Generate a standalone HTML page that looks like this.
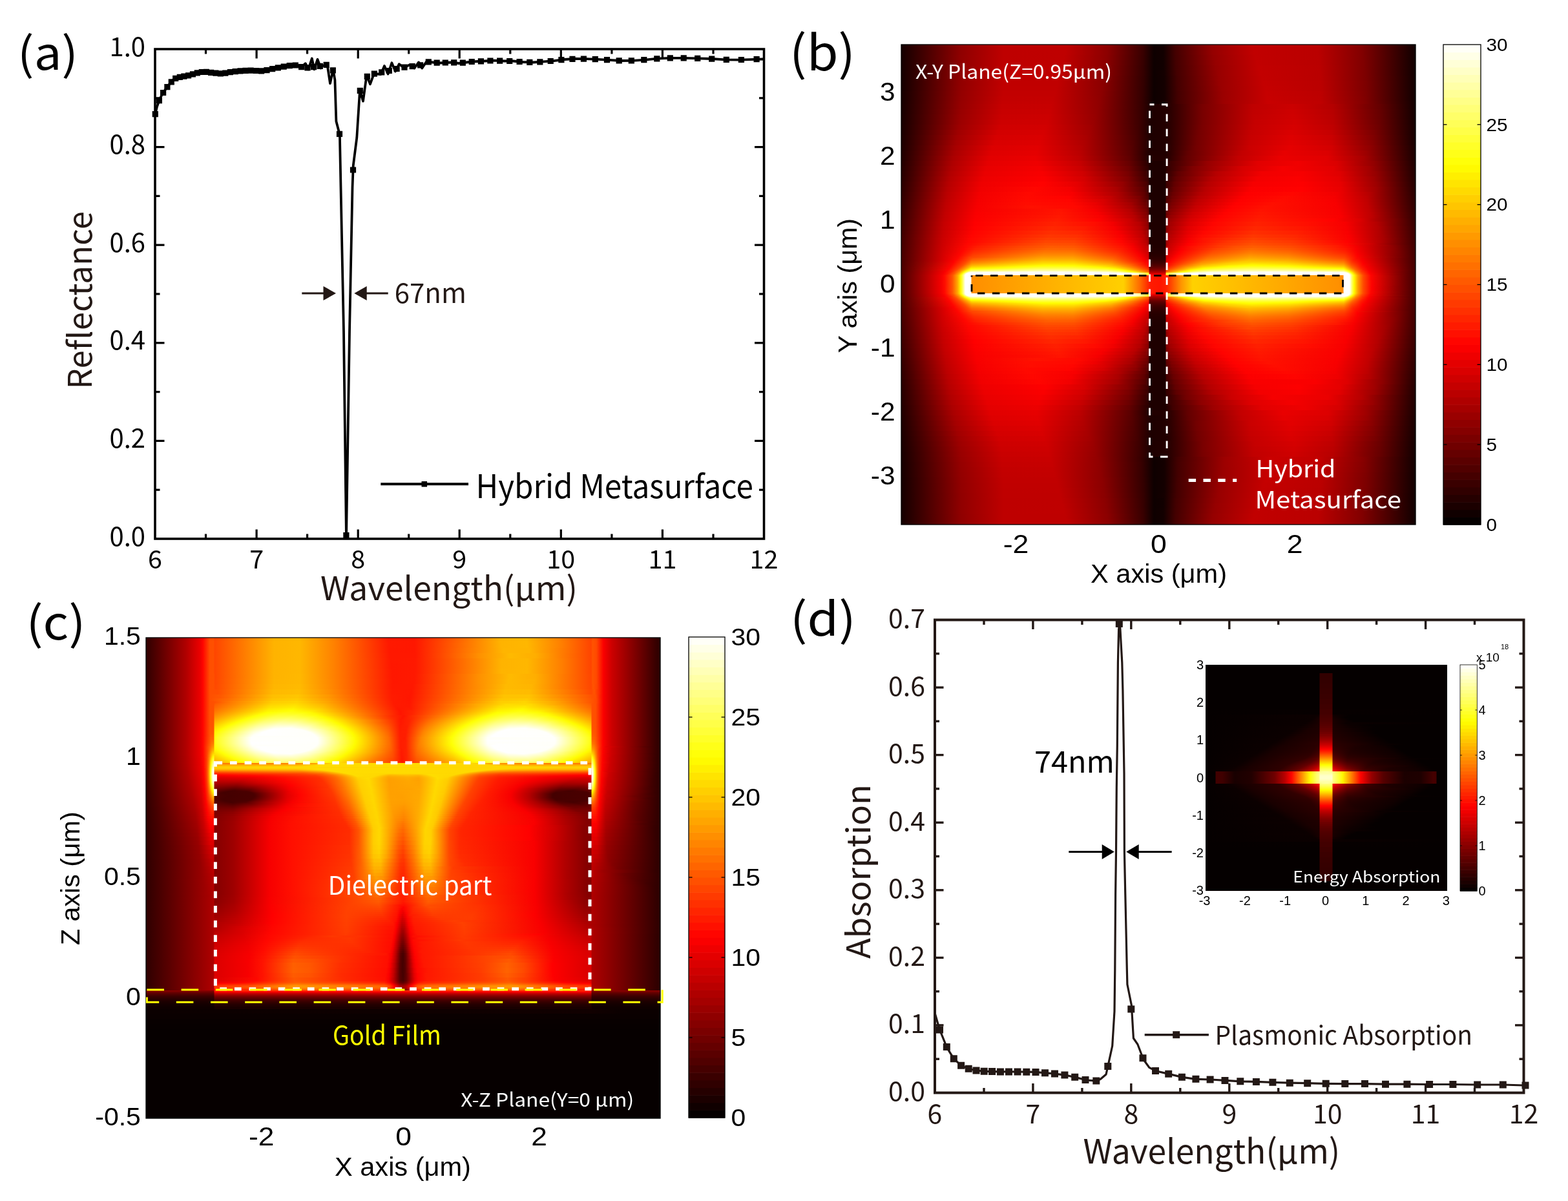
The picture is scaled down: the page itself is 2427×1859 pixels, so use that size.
<!DOCTYPE html><html><head><meta charset="utf-8"><title>Figure</title>
<style>html,body{margin:0;padding:0;background:#fff;}body{width:2427px;height:1859px;position:relative;overflow:hidden}.hm{position:absolute}.hm i{position:absolute;left:0;width:100%;display:block}svg{position:absolute;left:0;top:0}</style></head><body>
<div class="hm" style="left:1395px;top:69px;width:796px;height:743px;overflow:hidden">
<i style="top:0px;height:8px;background:linear-gradient(90deg,#140000,#900000 93px,#be0000 158px,#be0000 256px,#8d0000 320px,#3a0000 374px,#0e0000 391px,#130000 406px,#400 424px,#950000 481px,#c10000 544px,#ba0000 645px,#820000 713px,#120000 795px)"></i><i style="top:8px;height:8px;background:linear-gradient(90deg,#140000,#900000 93px,#be0000 158px,#bf0000 254px,#8c0000 319px,#390000 374px,#0e0000 391px,#130000 406px,#430000 424px,#950000 482px,#c10000 546px,#ba0000 645px,#820000 713px,#120000 795px)"></i><i style="top:16px;height:8px;background:linear-gradient(90deg,#140000,#910000 93px,#be0000 158px,#bf0000 252px,#8c0000 318px,#380000 374px,#0e0000 391px,#130000 406px,#420000 424px,#940000 483px,#c10000 548px,#ba0000 646px,#810000 714px,#120000 795px)"></i><i style="top:24px;height:8px;background:linear-gradient(90deg,#140000,#910000 93px,#be0000 158px,#bf0000 250px,#8b0000 317px,#370000 374px,#0e0000 391px,#120000 406px,#430000 425px,#960000 486px,#c10000 551px,#b90000 647px,#7f0000 716px,#120000 795px)"></i><i style="top:32px;height:8px;background:linear-gradient(90deg,#140000,#910000 93px,#be0000 158px,#bf0000 248px,#8b0000 316px,#360000 374px,#0e0000 391px,#120000 406px,#420000 425px,#950000 487px,#c20000 553px,#ba0000 647px,#7f0000 716px,#120000 795px)"></i><i style="top:40px;height:8px;background:linear-gradient(90deg,#140000,#910000 93px,#bf0000 158px,#bf0000 246px,#8b0000 315px,#340000 375px,#0e0000 391px,#150000 407px,#430000 426px,#970000 490px,#c30000 557px,#b90000 649px,#7d0000 718px,#120000 795px)"></i><i style="top:48px;height:8px;background:linear-gradient(90deg,#140000,#920000 93px,#bf0000 158px,#c00000 244px,#8a0000 314px,#300 375px,#0e0000 391px,#140000 407px,#430000 427px,#980000 492px,#c30000 559px,#b90000 650px,#7c0000 719px,#130000 795px)"></i><i style="top:56px;height:8px;background:linear-gradient(90deg,#140000,#920000 93px,#c00000 158px,#c00000 242px,#8a0000 313px,#300 375px,#0e0000 391px,#140000 407px,#430000 427px,#980000 493px,#c40000 561px,#ba0000 650px,#7d0000 719px,#130000 795px)"></i><i style="top:64px;height:8px;background:linear-gradient(90deg,#140000,#930000 93px,#c10000 158px,#c10000 240px,#8b0000 312px,#340000 374px,#0e0000 391px,#140000 407px,#400 428px,#9a0000 496px,#c50000 564px,#ba0000 651px,#7c0000 720px,#130000 795px)"></i><i style="top:72px;height:8px;background:linear-gradient(90deg,#150000,#940000 93px,#c20000 158px,#c20000 238px,#8c0000 310px,#340000 374px,#0e0000 391px,#140000 407px,#430000 428px,#9a0000 497px,#c60000 565px,#bc0000 650px,#7e0000 719px,#130000 795px)"></i><i style="top:80px;height:8px;background:linear-gradient(90deg,#150000,#940000 92px,#c30000 157px,#c40000 235px,#8f0000 307px,#370000 372px,#0e0000 391px,#140000 407px,#430000 428px,#9b0000 498px,#c70000 567px,#bd0000 650px,#800000 718px,#130000 795px)"></i><i style="top:88px;height:4px;background:linear-gradient(90deg,#150000,#950000 92px,#c40000 157px,#c50000 234px,#8f0000 307px,#350000 373px,#0e0000 391px,#140000 407px,#430000 428px,#9c0000 499px,#c80000 568px,#be0000 650px,#810000 718px,#140000 795px)"></i><i style="top:92px;height:8px;background:linear-gradient(90deg,#160000,#960000 92px,#c60000 156px,#c70000 232px,#910000 305px,#370000 372px,#1d0000 386px,#240000 412px,#780000 466px,#bf0000 544px,#cb0000 606px,#b40000 668px,#640000 741px,#140000 795px)"></i><i style="top:100px;height:8px;background:linear-gradient(90deg,#160000,#980000 92px,#c80000 156px,#c90000 230px,#930000 303px,#380000 371px,#1d0000 386px,#240000 412px,#780000 466px,#c00000 544px,#ce0000 606px,#b70000 668px,#670000 740px,#150000 795px)"></i><i style="top:108px;height:8px;background:linear-gradient(90deg,#170000,#900 91px,#ca0000 155px,#c00 228px,#970000 300px,#3a0000 370px,#1d0000 386px,#240000 412px,#780000 466px,#c20000 545px,#d00000 607px,#b90000 668px,#680000 740px,#150000 795px)"></i><i style="top:116px;height:8px;background:linear-gradient(90deg,#170000,#9b0000 91px,#cd0000 155px,#ce0000 226px,#900 298px,#3c0000 369px,#1d0000 386px,#240000 412px,#7a0000 467px,#c50000 547px,#d30000 609px,#b00 669px,#690000 741px,#160000 795px)"></i><i style="top:124px;height:8px;background:linear-gradient(90deg,#180000,#9d0000 90px,#d00000 153px,#d20000 223px,#9f0000 294px,#410000 366px,#1d0000 386px,#240000 412px,#7a0000 466px,#c60000 546px,#d60000 608px,#bf0000 668px,#6f0000 738px,#170000 795px)"></i><i style="top:132px;height:8px;background:linear-gradient(90deg,#190000,#9f0000 88px,#d30000 150px,#d60000 220px,#a30000 291px,#400 365px,#1d0000 386px,#200 411px,#720000 459px,#c50000 541px,#da0000 604px,#c50000 666px,#7a0000 733px,#170000 795px)"></i><i style="top:140px;height:8px;background:linear-gradient(90deg,#1a0000,#a10000 86px,#d60000 147px,#da0000 217px,#a90000 287px,#4a0000 362px,#1d0000 387px,#200 411px,#720000 458px,#c70000 541px,#de0000 604px,#ca0000 666px,#800000 731px,#180000 795px)"></i><i style="top:148px;height:8px;background:linear-gradient(90deg,#1b0000,#a40000 85px,#d90000 145px,#d00 215px,#ae0000 284px,#4f0000 360px,#1d0000 387px,#230000 411px,#720000 457px,#c90000 540px,#e10000 604px,#ce0000 666px,#870000 729px,#190000 795px)"></i><i style="top:156px;height:8px;background:linear-gradient(90deg,#1c0000,#a60000 83px,#dc0000 141px,#e20000 211px,#b50000 279px,#500 357px,#1d0000 387px,#240000 411px,#710000 455px,#cb0000 539px,#e50000 603px,#d30000 666px,#8e0000 727px,#1b0000 795px)"></i><i style="top:164px;height:8px;background:linear-gradient(90deg,#1e0000,#a90000 82px,#df0000 139px,#e50000 209px,#b90000 277px,#580000 356px,#210000 383px,#210000 410px,#630000 444px,#c30000 527px,#e70000 593px,#db0000 661px,#9c0000 720px,#1c0000 795px)"></i><i style="top:172px;height:8px;background:linear-gradient(90deg,#1f0000,#ab0000 80px,#e20000 136px,#ea0000 208px,#bf0000 275px,#5e0000 354px,#230000 383px,#230000 410px,#610000 441px,#c20000 521px,#ea0000 587px,#e10000 659px,#a70000 716px,#1d0000 795px)"></i><i style="top:180px;height:8px;background:linear-gradient(90deg,#210000,#ae0000 79px,#e50000 134px,#ef0000 211px,#c50000 277px,#600 353px,#2b0000 382px,#1d0000 385px,#1d0000 409px,#3c0000 417px,#970000 474px,#e20000 552px,#f10000 614px,#db0000 674px,#920000 732px,#1f0000 795px)"></i><i style="top:188px;height:8px;background:linear-gradient(90deg,#230000,#af0000 77px,#e80000 131px,#f40000 214px,#ca0000 279px,#6f0000 352px,#2f0000 382px,#1d0000 385px,#1d0000 409px,#300 412px,#7f0000 451px,#d80000 529px,#f60000 591px,#e30000 669px,#a20000 725px,#210000 795px)"></i><i style="top:196px;height:8px;background:linear-gradient(90deg,#240000,#b20000 76px,#ea0000 129px,#f80000 218px,#d00000 281px,#780000 351px,#380000 381px,#2f0000 383px,#1d0000 384px,#1d0000 409px,#2f0000 410px,#5e0000 428px,#b70000 488px,#f20000 558px,#f70000 621px,#df0000 679px,#950000 735px,#200 795px)"></i><i style="top:204px;height:8px;background:linear-gradient(90deg,#260000,#b50000 75px,#ed0000 127px,#fc0000 221px,#d50000 283px,#7f0000 351px,#3d0000 381px,#300 383px,#1d0000 384px,#1d0000 409px,#300 410px,#5f0000 425px,#b50000 480px,#f40000 551px,#fb0000 613px,#e50000 677px,#a00000 731px,#240000 795px)"></i><i style="top:212px;height:8px;background:linear-gradient(90deg,#280000,#b60000 73px,#ef0000 124px,#ff0200 219px,#e60000 272px,#940000 343px,#4b0000 379px,#380000 383px,#1d0000 384px,#1d0000 409px,#380000 410px,#620000 423px,#b50000 474px,#f70000 545px,#fd0000 621px,#e60000 681px,#9d0000 735px,#260000 795px)"></i><i style="top:220px;height:8px;background:linear-gradient(90deg,#2a0000,#b80000 72px,#f10000 123px,#ff0600 208px,#f50000 261px,#a00 333px,#5c0000 375px,#3d0000 383px,#1d0000 384px,#1d0000 409px,#3d0000 410px,#600 422px,#b80000 470px,#fb0000 541px,#ff0100 620px,#e90000 681px,#a30000 734px,#280000 795px)"></i><i style="top:228px;height:6px;background:linear-gradient(90deg,#2c0000,#ba0000 71px,#f30000 121px,#ff0800 198px,#f80000 265px,#ad0000 336px,#600000 376px,#420000 383px,#1d0000 384px,#1d0000 409px,#420000 410px,#680000 420px,#b60000 464px,#fd0000 535px,#ff0600 605px,#f10000 675px,#b50000 725px,#2a0000 795px)"></i><i style="top:234px;height:5px;background:linear-gradient(90deg,#2e0000,#bc0000 71px,#f40000 120px,#ff0900 194px,#ff0200 259px,#c40000 324px,#790000 369px,#4e0000 382px,#480000 383px,#1d0000 384px,#1d0000 409px,#480000 410px,#6c0000 419px,#b80000 460px,#fe0000 529px,#ff0a00 594px,#f50000 672px,#be0000 721px,#2c0000 795px)"></i><i style="top:239px;height:5px;background:linear-gradient(90deg,#2f0000,#bd0000 70px,#f50000 119px,#ff0a00 193px,#ff0500 262px,#d70000 314px,#8b0000 364px,#5a0000 381px,#4d0000 383px,#1d0000 384px,#1d0000 409px,#4d0000 410px,#730000 419px,#be0000 459px,#fe0100 524px,#ff0c00 586px,#f70000 672px,#c00000 721px,#2d0000 795px)"></i><i style="top:244px;height:5px;background:linear-gradient(90deg,#310000,#be0000 69px,#f60000 118px,#ff0c00 194px,#ff0700 265px,#ea0000 301px,#a20000 356px,#600 380px,#530000 383px,#1d0000 384px,#1d0000 409px,#530000 410px,#780000 418px,#c00000 456px,#ff0100 518px,#ff0f00 575px,#f80000 673px,#c20000 721px,#2e0000 795px)"></i><i style="top:249px;height:5px;background:linear-gradient(90deg,#320000,#c00000 69px,#f70000 117px,#ff1000 202px,#ff0800 271px,#ec0000 305px,#a60000 358px,#6e0000 380px,#590000 383px,#1d0000 384px,#1d0000 409px,#590000 410px,#7f0000 418px,#c60000 455px,#ff0200 513px,#f10 564px,#f80000 675px,#c10000 723px,#300000 795px)"></i><i style="top:254px;height:5px;background:linear-gradient(90deg,#340000,#c00000 68px,#f80000 116px,#ff1300 246px,#f80000 298px,#b50000 354px,#7a0000 379px,#600000 383px,#1d0000 384px,#1d0000 409px,#600000 410px,#840000 417px,#c70000 451px,#ff0200 506px,#ff1300 557px,#f80000 677px,#c00000 725px,#310000 795px)"></i><i style="top:259px;height:5px;background:linear-gradient(90deg,#350000,#c20000 68px,#fa0000 116px,#ff1500 247px,#f80000 304px,#b70000 357px,#820000 379px,#670000 383px,#1d0000 384px,#1d0000 409px,#670000 410px,#8c0000 417px,#cf0000 451px,#ff0300 501px,#ff1600 556px,#f80000 679px,#bf0000 727px,#300 795px)"></i><i style="top:264px;height:5px;background:linear-gradient(90deg,#360000,#c20000 67px,#fb0000 115px,#ff1800 244px,#f80000 311px,#b70000 361px,#850000 380px,#6e0000 383px,#1d0000 384px,#1d0000 409px,#6e0000 410px,#920000 416px,#d10000 448px,#ff0300 495px,#ff1900 554px,#f90000 681px,#bd0000 729px,#340000 795px)"></i><i style="top:269px;height:5px;background:linear-gradient(90deg,#380000,#c20000 66px,#fc0000 114px,#ff1c00 241px,#ff0200 306px,#cb0000 354px,#920000 379px,#750000 383px,#1e0000 384px,#1e0000 409px,#750000 410px,#9a0000 416px,#d70000 447px,#ff0400 489px,#ff1c00 552px,#ff0200 669px,#dc0000 710px,#7a0000 764px,#350000 795px)"></i><i style="top:274px;height:7px;background:linear-gradient(90deg,#390000,#c50000 66px,#fe0000 114px,#ff2100 238px,#ff0d00 298px,#f40000 327px,#b60000 369px,#940000 380px,#7b0000 383px,#1e0000 384px,#1e0000 409px,#7b0000 410px,#a10000 416px,#d00 447px,#ff0500 483px,#ff2100 550px,#ff0e00 630px,#f80000 687px,#b50000 736px,#370000 795px)"></i><i style="top:281px;height:7px;background:linear-gradient(90deg,#3b0000,#c50000 65px,#ff0100 113px,#ff2700 234px,#ff1b00 281px,#f80000 330px,#b90000 371px,#950000 381px,#820000 383px,#1e0000 384px,#1e0000 409px,#820000 410px,#a50000 415px,#e10000 444px,#ff0500 475px,#ff2700 548px,#ff1600 620px,#f80000 689px,#b20000 739px,#390000 795px)"></i><i style="top:288px;height:6px;background:linear-gradient(90deg,#3d0000,#c80000 65px,#ff0300 111px,#ff2f00 232px,#ff2600 275px,#f90000 336px,#bc0000 373px,#9c0000 381px,#890000 383px,#1e0000 384px,#1e0000 409px,#890000 410px,#ad0000 415px,#e80000 444px,#ff0700 469px,#ff2f00 546px,#ff1f00 613px,#f90000 691px,#b00000 741px,#3b0000 795px)"></i><i style="top:294px;height:5px;background:linear-gradient(90deg,#3f0000,#c80000 64px,#ff0400 108px,#ff3600 229px,#ff3000 271px,#f90000 341px,#ba0000 376px,#900 382px,#8f0000 383px,#1e0000 384px,#1e0000 409px,#8f0000 410px,#b30000 415px,#e00 444px,#ff0a00 465px,#ff3700 544px,#ff2700 609px,#fa0000 693px,#a00 745px,#3c0000 795px)"></i><i style="top:299px;height:4px;background:linear-gradient(90deg,#400000,#ca0000 64px,#ff0600 107px,#ff3e00 227px,#ff3900 269px,#ff0300 339px,#c80000 373px,#a80000 381px,#940000 383px,#1e0000 384px,#1e0000 409px,#940000 410px,#b90000 415px,#f60000 445px,#ff1300 468px,#ff4000 544px,#ff2e00 607px,#fa0000 695px,#a60000 748px,#3d0000 795px)"></i><i style="top:303px;height:4px;background:linear-gradient(90deg,#410000,#cb0000 64px,#ff0500 104px,#ff4500 224px,#ff4200 268px,#ff0600 341px,#df0000 365px,#b40000 380px,#980000 383px,#1f0000 384px,#1f0000 409px,#980000 410px,#bf0000 415px,#fd0000 446px,#ff3400 506px,#ff4800 545px,#ff3700 605px,#ff0200 691px,#b30000 742px,#3e0000 795px)"></i><i style="top:307px;height:3px;background:linear-gradient(90deg,#410000,#c00 64px,#ff0600 102px,#ff1c00 133px,#ff4e00 224px,#ff4b00 267px,#ff0a00 342px,#f00000 358px,#bf0000 379px,#9d0000 383px,#1f0000 384px,#1f0000 409px,#9d0000 410px,#c40000 415px,#ff0100 444px,#f30 495px,#ff5000 543px,#ff3f00 603px,#ff0700 690px,#d10000 726px,#520000 786px,#3f0000 795px)"></i><i style="top:310px;height:2px;background:linear-gradient(90deg,#420000,#cb0000 63px,#ff0700 101px,#ff1b00 123px,#ff5400 224px,#ff5100 267px,#ff0d00 343px,#f40000 358px,#c30000 379px,#a00000 383px,#200000 384px,#200000 409px,#a00000 410px,#c70000 415px,#ff0100 442px,#ff3700 492px,#ff5700 543px,#ff4500 603px,#ff1a00 674px,#ff0200 695px,#a50000 750px,#400000 795px)"></i><i style="top:312px;height:3px;background:linear-gradient(90deg,#420000,#ce0000 64px,#ff0600 99px,#ff1d00 117px,#ff4600 183px,#ff5c00 231px,#ff5800 268px,#ff1200 343px,#f70000 359px,#bf0000 382px,#b00 383px,#200000 384px,#200000 409px,#b00 410px,#f50000 433px,#ff1000 449px,#ff5100 517px,#ff5e00 546px,#ff4c00 603px,#ff1f00 671px,#ff0d00 690px,#f40000 705px,#8e0000 761px,#400000 795px)"></i><i style="top:315px;height:3px;background:linear-gradient(90deg,#430000,#cf0000 64px,#ff0600 97px,#f20 115px,#ff4b00 179px,#ff6500 226px,#ff6200 267px,#ff1b00 341px,#f80000 361px,#c00000 383px,#200 384px,#200 409px,#c00000 410px,#fc0000 434px,#ff4300 489px,#ff6900 542px,#ff5600 601px,#ff2700 668px,#ff1600 688px,#f80000 704px,#8d0000 762px,#410000 795px)"></i><i style="top:318px;height:2px;background:linear-gradient(90deg,#400,#d00000 64px,#ff0600 95px,#ff2700 113px,#ff5100 176px,#ff6e00 223px,#ff6c00 266px,#ff2400 338px,#f90000 363px,#c40000 383px,#230000 384px,#230000 409px,#c40000 410px,#fe0000 433px,#ff4800 485px,#ff7200 541px,#ff5f00 600px,#ff2e00 666px,#ff1d00 687px,#fa0000 704px,#870000 765px,#410000 795px)"></i><i style="top:320px;height:2px;background:linear-gradient(90deg,#400,#d10000 64px,#ff0600 94px,#ff2c00 112px,#ff5700 175px,#ff7500 222px,#ff7400 266px,#ff2c00 336px,#f90000 365px,#c80000 383px,#240000 384px,#240000 409px,#c80000 410px,#ff0100 431px,#ff4d00 483px,#ff7a00 541px,#ff6700 600px,#ff3400 666px,#f20 687px,#fa0000 705px,#830000 767px,#420000 795px)"></i><i style="top:322px;height:2px;background:linear-gradient(90deg,#400,#d20000 64px,#ff0500 92px,#f30 112px,#ff5d00 173px,#ff7d00 221px,#ff7d00 266px,#ff3600 334px,#f90000 367px,#cb0000 383px,#250000 384px,#250000 409px,#cb0000 410px,#ff0200 430px,#ff5200 481px,#ff8200 541px,#ff6f00 600px,#ff3b00 665px,#ff2800 687px,#fb0000 706px,#7c0000 770px,#420000 795px)"></i><i style="top:324px;height:2px;background:linear-gradient(90deg,#450000,#d50000 65px,#ff0600 91px,#ff3900 111px,#ff6500 172px,#ff8600 220px,#ff8600 266px,#ff4000 332px,#f90000 369px,#cf0000 383px,#270000 384px,#270000 409px,#cf0000 410px,#ff0200 428px,#ff5800 478px,#ff8c00 540px,#ff7900 599px,#ff4300 664px,#ff3200 686px,#fd0000 706px,#760000 773px,#420000 795px)"></i><i style="top:326px;height:2px;background:linear-gradient(90deg,#450000,#d80000 66px,#ff0700 90px,#ff4100 111px,#ff6e00 172px,#ff9000 220px,#ff9000 266px,#ff4a00 331px,#fb0000 370px,#d20000 383px,#290000 384px,#290000 409px,#d20000 410px,#ff0300 426px,#ff6000 477px,#ff9600 540px,#ff8300 599px,#ff4c00 664px,#ff3a00 686px,#ff0100 706px,#710000 775px,#430000 795px)"></i><i style="top:328px;height:2px;background:linear-gradient(90deg,#450000,#db0000 67px,#ff0600 88px,#ff4200 107px,#ff9a00 217px,#ff9c00 265px,#ff5700 329px,#fb0000 372px,#d60000 383px,#2c0000 384px,#2c0000 409px,#d60000 410px,#ff0300 424px,#ff6800 475px,#ffa000 540px,#ff8d00 599px,#ff5600 664px,#ff4200 686px,#ff0400 706px,#700 773px,#430000 795px)"></i><i style="top:330px;height:2px;background:linear-gradient(90deg,#460000,#de0000 68px,#ff0700 87px,#ff4700 106px,#f50 111px,#ff8300 171px,#ffa700 219px,#ffa600 266px,#ff6300 328px,#fb0000 374px,#db0000 383px,#2f0000 384px,#2f0000 409px,#db0000 410px,#ff0400 422px,#ff7200 474px,#ffac00 540px,#f90 599px,#ff6100 664px,#ff4d00 686px,#ff0c00 704px,#f40000 714px,#5a0000 785px,#430000 795px)"></i><i style="top:332px;height:2px;background:linear-gradient(90deg,#460000,#e80000 72px,#ff0600 85px,#ff4800 104px,#ff6100 110px,#ff9000 171px,#ffb300 219px,#ffb300 266px,#ff7100 327px,#fa0000 376px,#e00000 383px,#300 384px,#300 409px,#e00000 410px,#ff0500 420px,#ff7c00 472px,#ffb900 539px,#ffa600 599px,#ff6c00 665px,#ff5e00 685px,#ff1c00 700px,#f90000 713px,#400 795px)"></i><i style="top:334px;height:1px;background:linear-gradient(90deg,#460000,#fe0000 81px,#ff3c00 100px,#ff6b00 109px,#ff9b00 171px,#ffbe00 219px,#ffbd00 266px,#ff7d00 326px,#fc0000 377px,#e40000 383px,#360000 384px,#360000 409px,#e40000 410px,#ff0700 419px,#ff8300 470px,#ffc300 537px,#ffb100 599px,#f70 665px,#ff6900 685px,#ff2500 699px,#fb0000 713px,#400 795px)"></i><i style="top:335px;height:1px;background:linear-gradient(90deg,#460000,#ff0100 81px,#ff4600 101px,#ff7200 109px,#ffa200 171px,#ffc500 219px,#ffc500 266px,#ff8500 326px,#fc0000 378px,#e70000 383px,#390000 384px,#390000 409px,#e70000 410px,#ff0700 418px,#ff8900 469px,#ffca00 536px,#ffb800 599px,#ff7e00 666px,#ff7000 685px,#ff2800 699px,#fb0000 714px,#400 795px)"></i><i style="top:336px;height:1px;background:linear-gradient(90deg,#470000,#ff0200 81px,#ff4700 100px,#ff7a00 109px,#ffab00 171px,#ffcd00 219px,#fc0 266px,#ff8c00 326px,#ff0800 376px,#eb0000 383px,#3c0000 384px,#3c0000 409px,#eb0000 410px,#ff0800 417px,#ff8c00 467px,#fc0 527px,#ffc900 586px,#ff8200 672px,#ff7800 685px,#ff3000 698px,#fc0000 714px,#400 795px)"></i><i style="top:337px;height:1px;background:linear-gradient(90deg,#470000,#ff0400 81px,#ff4d00 100px,#ff8300 109px,#ffb400 172px,#ffd500 220px,#ffd300 267px,#ff9700 325px,#ff1700 373px,#f80000 381px,#ef0000 383px,#3f0000 384px,#3f0000 409px,#ef0000 410px,#ff0900 416px,#ff9100 465px,#ffc800 512px,#ffd900 544px,#ffc700 600px,#ff8d00 668px,#ff8100 685px,#ff3500 698px,#fb0000 715px,#400 795px)"></i><i style="top:338px;height:1px;background:linear-gradient(90deg,#470000,#ff0400 80px,#ff4900 98px,#ff8c00 109px,#ffbe00 173px,#fd0 220px,#ffdc00 267px,#ffa000 325px,#ff2500 370px,#fc0000 381px,#f30000 383px,#430000 384px,#430000 409px,#f30000 410px,#ff0900 415px,#ff9700 464px,#ffca00 505px,#ffe100 543px,#ffd000 600px,#ff9600 669px,#ff8a00 685px,#ff3f00 697px,#fd0000 715px,#400 795px)"></i><i style="top:339px;height:1px;background:linear-gradient(90deg,#470000,#ff0600 80px,#ff4f00 98px,#ff9700 109px,#ffc900 174px,#ffe600 221px,#ffe400 267px,#ffa900 325px,#ff4900 360px,#fc0000 382px,#f70000 383px,#470000 384px,#470000 409px,#f70000 410px,#ff1a00 418px,#ffa100 464px,#ffd200 504px,#ffea00 543px,#ffd900 601px,#ff9f00 671px,#ff9400 685px,#f40 697px,#f00 715px,#450000 795px)"></i><i style="top:340px;height:1px;background:linear-gradient(90deg,#470000,#ff0500 79px,#ff5000 97px,#ffa200 109px,#ffd500 176px,#fff000 223px,#ffed00 268px,#ffb500 324px,#ff6000 355px,#fc0000 383px,#4b0000 384px,#4b0000 409px,#fc0000 410px,#ff9400 455px,#ffc500 480px,#fff300 541px,#ffe200 601px,#ffa800 674px,#ff9f00 685px,#ff4b00 697px,#ff0200 715px,#450000 795px)"></i><i style="top:341px;height:1px;background:linear-gradient(90deg,#470000,#ff0500 78px,#ff4c00 95px,#ffa200 107px,#ffae00 110px,#ffe100 178px,#fffa00 225px,#fff600 269px,#ffc000 324px,#ff7000 353px,#ff0700 382px,#ff0200 383px,#500000 384px,#500000 409px,#ff0200 410px,#ff5e00 435px,#ffba00 466px,#ffeb00 510px,#fffd00 546px,#ffec00 602px,#ffb200 677px,#ffab00 685px,#ff5200 697px,#ff0800 714px,#e60000 726px,#450000 795px)"></i><i style="top:342px;height:1px;background:linear-gradient(90deg,#470000,#ff0400 77px,#ff4d00 94px,#ffae00 107px,#fb0 110px,#ffff05 211px,#ffff07 264px,#ffda00 314px,#ffa700 339px,#ff1200 381px,#ff0800 383px,#500 384px,#500 409px,#ff0800 410px,#ff6b00 436px,#ffc300 465px,#fff100 504px,#ffff09 531px,#fff900 600px,#ffbc00 681px,#ffb800 685px,#ff5900 697px,#ff0e00 713px,#f70000 720px,#450000 795px)"></i><i style="top:343px;height:1px;background:linear-gradient(90deg,#480000,#ff0300 76px,#ff4f00 93px,#ffb200 106px,#ffc800 109px,#ffff06 191px,#ffff1a 229px,#ffff15 266px,#fff900 294px,#ffcd00 329px,#ff7900 356px,#ff0f00 383px,#5b0000 384px,#5b0000 409px,#ff0f00 410px,#ff8400 440px,#ffd200 466px,#ffff01 507px,#ffff1c 541px,#ffff0c 596px,#fff600 619px,#ffc600 685px,#ff6200 697px,#ff1500 712px,#f90000 720px,#450000 795px)"></i><i style="top:344px;height:1px;background:linear-gradient(90deg,#480000,#ff0600 76px,#ff5000 92px,#ffb600 105px,#ffd700 109px,#ffff06 174px,#ffff2a 217px,#ffff28 265px,#fffa00 308px,#ffd100 333px,#ff7000 361px,#ff1600 383px,#620000 384px,#620000 409px,#ff1600 410px,#ff9b00 443px,#ffe300 468px,#ffff07 496px,#ffff2e 541px,#ffff1e 597px,#fffa00 630px,#ffd500 685px,#ff6400 698px,#ff1400 713px,#f80000 721px,#450000 795px)"></i><i style="top:345px;height:1px;background:linear-gradient(90deg,#480000,#ff0500 75px,#ff4c00 90px,#ffbc00 104px,#ffe600 108px,#ffff06 156px,#ffff3c 211px,#ffff3b 265px,#fff900 321px,#fb0 345px,#ff2300 382px,#ff1e00 383px,#690000 384px,#690000 409px,#ff1e00 410px,#ffb000 445px,#fff400 469px,#ffff0c 484px,#ffff41 539px,#ffff32 597px,#fffc00 647px,#ffe600 685px,#ff6e00 698px,#ff1c00 712px,#fa0000 721px,#450000 795px)"></i><i style="top:346px;height:1px;background:linear-gradient(90deg,#480000,#ff0400 74px,#ff4d00 89px,#ffb900 102px,#fff800 108px,#ffff1c 154px,#ffff51 211px,#ffff4f 266px,#ffff16 317px,#fff700 330px,#ffab00 353px,#ff2600 383px,#710000 384px,#710000 409px,#ff2600 410px,#ffc700 447px,#ffff01 467px,#ffff31 495px,#ff5 543px,#ffff47 599px,#ff0 675px,#fff800 685px,#ff7200 699px,#ff2100 712px,#f90000 722px,#450000 795px)"></i><i style="top:347px;height:1px;background:linear-gradient(90deg,#480000,#ff0300 73px,#ff4800 87px,#ffad00 99px,#ffff03 107px,#ffff14 108px,#ffff69 213px,#ffff64 268px,#ffff2e 318px,#fff900 336px,#ffa000 359px,#ff3000 383px,#7a0000 384px,#7a0000 409px,#ff3000 410px,#ffdc00 448px,#ffff04 460px,#ffff34 478px,#ffff6b 535px,#ffff61 597px,#ffff14 685px,#ffff03 686px,#ff6400 702px,#ff1700 715px,#f80000 723px,#450000 795px)"></i><i style="top:348px;height:1px;background:linear-gradient(90deg,#480000,#ff0600 73px,#ff4f00 87px,#ffb400 98px,#ffff04 105px,#ffff36 108px,#ffff83 214px,#ffff7c 269px,#ffff4b 318px,#ffff15 336px,#fffa00 342px,#ff4700 381px,#ff3b00 383px,#840000 384px,#840000 409px,#ff3b00 410px,#fff300 449px,#ffff0c 455px,#ffff47 473px,#ffff76 515px,#ffff85 554px,#ffff76 605px,#ffff36 685px,#ffff04 688px,#ff6700 703px,#ff1b00 715px,#fa0000 723px,#460000 795px)"></i><i style="top:349px;height:1px;background:linear-gradient(90deg,#480000,#ff0500 72px,#ff4900 85px,#ffa500 95px,#fff900 102px,#ffff2b 105px,#ffff5c 108px,#ffffa0 215px,#ffff97 272px,#ffff6b 318px,#ffff35 336px,#fffc00 347px,#ff4700 383px,#8e0000 384px,#8e0000 409px,#ff4700 410px,#ffff02 447px,#ffff4c 463px,#ff7 483px,#ffffa0 543px,#ffff96 603px,#ffff5c 685px,#ffff09 690px,#ffe000 693px,#ff6800 704px,#ff1a00 716px,#f90000 724px,#460000 795px)"></i><i style="top:350px;height:1px;background:linear-gradient(90deg,#480000,#fb0000 69px,#ff3500 81px,#f80 91px,#fffa00 100px,#ffff87 108px,#ffffc0 217px,#ffffb4 277px,#ffff8d 319px,#ffff5a 336px,#fffd00 352px,#f50 383px,#9a0000 384px,#9a0000 409px,#f50 410px,#ffff04 442px,#ffff5a 457px,#ffff8f 475px,#ffffb6 521px,#ffffbe 588px,#ffff87 685px,#ffff21 691px,#fffa00 693px,#ff7d00 703px,#ff2f00 713px,#fb0000 724px,#460000 795px)"></i><i style="top:351px;height:1px;background:linear-gradient(90deg,#480000,#fa0000 68px,#ff2e00 79px,#ff7f00 89px,#ffe800 97px,#fff800 98px,#ffff25 100px,#ffff8f 105px,#ffffb8 108px,#ffffe5 220px,#ffffd2 289px,#ffffb0 322px,#ffff76 339px,#ffff15 354px,#fff700 358px,#ff6500 383px,#a80000 384px,#a80000 409px,#ff6500 410px,#ffff04 437px,#ffff6b 452px,#ffffa9 468px,#ffffcd 495px,#ffffe5 564px,#ffffd0 633px,#ffffb8 685px,#ffff7d 689px,#ffff0d 694px,#fff800 695px,#ff8a00 703px,#ff3b00 712px,#fe0000 724px,#7e0000 772px,#460000 795px)"></i><i style="top:352px;height:1px;background:linear-gradient(90deg,#490000,#f90000 67px,#f20 76px,#ff6b00 86px,#ffc000 93px,#ffff05 97px,#ffffbf 104px,#ffffea 107px,#fffff7 129px,#fff 217px,#fffff8 300px,#ffffd8 325px,#ffffa0 340px,#ffff41 354px,#fffa00 362px,#f70 383px,#b60000 384px,#b60000 409px,#f70 410px,#ffff02 432px,#ffff7c 447px,#ffffc3 461px,#ffffed 480px,#fff 520px,#fffff8 659px,#fffff0 685px,#ffffd2 688px,#ffff75 692px,#ffff05 696px,#ff8b00 704px,#ff3a00 713px,#fd0000 725px,#7f0000 772px,#460000 795px)"></i><i style="top:353px;height:1px;background:linear-gradient(90deg,#490000,#f80000 66px,#ff1200 72px,#ff5800 83px,#ffb300 91px,#fff600 95px,#ffff10 96px,#fffff6 103px,#fff 105px,#fffff9 347px,#ffffdb 360px,#ffff96 371px,#ffff20 383px,#c70000 384px,#c70000 409px,#ffff20 410px,#ffff9e 423px,#ffffdf 434px,#fffffb 449px,#fff 689px,#fffff6 690px,#ffff10 697px,#fff600 698px,#ff9700 704px,#ff4800 712px,#f00 725px,#930000 764px,#460000 795px)"></i><i style="top:354px;height:1px;background:linear-gradient(90deg,#490000,#f60000 65px,#ff1000 71px,#ff5700 82px,#ffa400 89px,#fff700 94px,#ffff13 95px,#ffffa6 99px,#fffffb 101px,#fffffa 346px,#ffffdb 360px,#ffff96 371px,#ffff21 383px,#d90000 384px,#d90000 409px,#ffff21 410px,#ffffa6 424px,#ffffe2 435px,#fffffc 451px,#fffffb 692px,#ffff58 696px,#ffff13 698px,#fff700 699px,#ff9700 705px,#ff4700 713px,#ff0300 725px,#5e0000 785px,#460000 795px)"></i><i style="top:355px;height:1px;background:linear-gradient(90deg,#490000,#f50000 64px,#ff0f00 70px,#ff5600 81px,#ffa200 88px,#fff500 93px,#ffff10 94px,#ffffa7 98px,#fff 100px,#fffff9 347px,#ffffdb 360px,#ffff96 371px,#ff2 383px,#ed0000 384px,#ed0000 409px,#ff2 410px,#ffffad 425px,#ffffe6 436px,#fffffd 453px,#fff 693px,#ff5 697px,#ffff10 699px,#fff500 700px,#ff9500 706px,#ff4500 714px,#ff0200 726px,#8a0000 768px,#460000 795px)"></i><i style="top:356px;height:1px;background:linear-gradient(90deg,#490000,#f40000 63px,#ff0a00 68px,#ff5400 80px,#ffad00 88px,#ffff07 93px,#ffff97 97px,#fffff4 99px,#fff 101px,#fffff9 347px,#ffffdb 360px,#ffff96 371px,#ffff23 383px,#ff0400 384px,#ff0400 409px,#ffff23 410px,#ffffad 425px,#ffffe6 436px,#fffffd 453px,#fff 693px,#fffff4 694px,#ffff6f 697px,#ffff07 700px,#ff9200 707px,#ff3d00 716px,#ff0100 727px,#900 762px,#460000 795px)"></i><i style="top:357px;height:8px;background:linear-gradient(90deg,#490000,#f30000 62px,#ff0900 67px,#ff5200 79px,#ffa900 87px,#fffa00 92px,#ffff37 94px,#ffffcf 98px,#fffffd 99px,#fff 108px,#ff8e00 109px,#ffd000 344px,#ff6b00 369px,#ff1b00 385px,#ff1500 401px,#ff2100 410px,#ff9400 433px,#ffd100 451px,#ff8e00 684px,#fff 685px,#fffffd 694px,#ffff59 698px,#ffff17 700px,#fffa00 701px,#ff9b00 707px,#ff4a00 715px,#ff0400 727px,#600 782px,#470000 795px)"></i><i style="top:365px;height:8px;background:linear-gradient(90deg,#490000,#f50000 62px,#ff0f00 68px,#ff5400 79px,#fa0 87px,#fffb00 92px,#ffff5a 95px,#fffffe 99px,#fff 108px,#ff8e00 109px,#ffd000 344px,#ff6b00 369px,#ff1b00 385px,#ff1500 401px,#ff2100 410px,#ff9400 433px,#ffd100 451px,#ff8e00 684px,#fff 685px,#fffffe 694px,#ffff5a 698px,#fffb00 701px,#ff9c00 707px,#ff4c00 715px,#ff0200 728px,#700 776px,#470000 795px)"></i><i style="top:373px;height:8px;background:linear-gradient(90deg,#490000,#f40000 62px,#ff0a00 67px,#ff5300 79px,#ffa900 87px,#fffb00 92px,#ffff38 94px,#ffffd0 98px,#fffffd 99px,#fff 108px,#ff8e00 109px,#ffd000 344px,#ff6b00 369px,#ff1b00 385px,#ff1500 401px,#ff2100 410px,#ff9400 433px,#ffd100 451px,#ff8e00 684px,#fff 685px,#fffffd 694px,#ffff5a 698px,#ffff18 700px,#fffb00 701px,#ff9c00 707px,#ff4b00 715px,#ff0100 728px,#8c0000 768px,#470000 795px)"></i><i style="top:381px;height:4px;background:linear-gradient(90deg,#490000,#f30000 62px,#ff0800 67px,#ff5200 79px,#ffa800 87px,#fffa00 92px,#ffff36 94px,#ffffcf 98px,#fffffd 99px,#fff 108px,#ff8e00 109px,#ffd000 344px,#ff6b00 369px,#ff1b00 385px,#ff1500 401px,#ff2100 410px,#ff9400 433px,#ffd100 451px,#ff8e00 684px,#fff 685px,#fffffd 694px,#ffff59 698px,#ffff16 700px,#fffa00 701px,#ff9b00 707px,#ff4a00 715px,#ff0400 727px,#760000 776px,#460000 795px)"></i><i style="top:385px;height:1px;background:linear-gradient(90deg,#490000,#f10000 62px,#ff0b00 68px,#ff5700 80px,#ffb200 88px,#fff500 92px,#ffff0e 93px,#ffff9f 97px,#fffffa 99px,#fffffa 346px,#ffffdb 360px,#ffff96 371px,#ffff24 383px,#ff0d00 384px,#ff0d00 409px,#ffff24 410px,#ffffad 425px,#ffffe6 436px,#fffffd 453px,#fffffa 694px,#ff7 697px,#ffff0e 700px,#fff500 701px,#ff9600 707px,#ff4700 715px,#ff0200 727px,#8f0000 766px,#460000 795px)"></i><i style="top:386px;height:1px;background:linear-gradient(90deg,#490000,#f20000 63px,#ff0800 68px,#ff5000 80px,#ffa700 88px,#fffb00 93px,#ffff3c 95px,#ffffb4 98px,#ffffe3 99px,#fff 100px,#fffff9 347px,#ffffdb 360px,#ffff96 371px,#ffff23 383px,#f50000 384px,#f50000 409px,#ffff23 410px,#ffffad 425px,#ffffe6 436px,#fffffd 453px,#fff 693px,#ffffe3 694px,#ffff61 697px,#ffff1a 699px,#fffb00 700px,#f90 706px,#ff4800 714px,#ff0300 726px,#7a0000 774px,#460000 795px)"></i><i style="top:387px;height:1px;background:linear-gradient(90deg,#490000,#f40000 64px,#ff0900 69px,#ff5100 81px,#ffa900 89px,#ff0 94px,#ffff8f 98px,#ffffe7 100px,#fff 101px,#fffff9 347px,#ffffdb 360px,#ffff96 371px,#ffff21 383px,#e00000 384px,#e00000 409px,#ffff21 410px,#ffffa6 424px,#ffffe2 435px,#fffffc 451px,#fff 692px,#ffffe7 693px,#ffff42 697px,#ff0 699px,#ff9b00 705px,#ff4900 713px,#ff0400 725px,#460000 794px,#460000 795px)"></i><i style="top:388px;height:1px;background:linear-gradient(90deg,#490000,#f50000 65px,#ff0e00 71px,#ff5200 82px,#fa0 90px,#ff0 95px,#ffffab 100px,#fffff6 102px,#fff 104px,#fffff9 347px,#ffffdb 360px,#ffff96 371px,#ffff20 383px,#ce0000 384px,#ce0000 409px,#ffff20 410px,#ffffa6 424px,#ffffe2 435px,#fffffc 451px,#fff 690px,#fffff6 691px,#ffff1f 697px,#ff0 698px,#ff9d00 704px,#ff4a00 712px,#ff0600 724px,#460000 795px)"></i><i style="top:389px;height:1px;background:linear-gradient(90deg,#490000,#fa0000 67px,#ff2900 77px,#ff7900 87px,#ffd700 94px,#fffa00 96px,#ffff51 99px,#ffd 104px,#fffffe 106px,#fffff9 347px,#ffffdb 360px,#ffff96 371px,#ffff1f 383px,#bd0000 384px,#bd0000 409px,#ffff1f 410px,#ffff9e 423px,#ffffdf 434px,#fffffb 449px,#fffffe 687px,#ffffc6 690px,#ffff15 696px,#fffa00 697px,#ff9000 704px,#ff3d00 713px,#fe0000 725px,#8b0000 767px,#460000 795px)"></i><i style="top:390px;height:1px;background:linear-gradient(90deg,#480000,#fb0000 68px,#ff3000 79px,#ff7900 88px,#ffe200 96px,#ffff06 98px,#ffff96 104px,#ffffcd 108px,#fffff5 222px,#ffffde 297px,#ffffbe 324px,#ffff83 340px,#ffff1d 355px,#fffc00 359px,#ff6c00 383px,#ad0000 384px,#ad0000 409px,#ff6c00 410px,#ffff04 435px,#ffff72 450px,#ffffb3 465px,#ffffd8 487px,#fffff4 562px,#ffffe2 635px,#ffffcd 685px,#ffff96 689px,#ffff06 695px,#ff8400 704px,#ff3700 713px,#f00 724px,#8d0000 766px,#460000 795px)"></i><i style="top:391px;height:1px;background:linear-gradient(90deg,#480000,#ff0500 71px,#ff4c00 84px,#ffa400 93px,#fff700 99px,#ffff0a 100px,#ffff7e 106px,#ffff9a 108px,#ffffce 218px,#ffffc0 280px,#ffff9d 319px,#ffff6a 336px,#ffff13 351px,#fff800 355px,#ff5b00 383px,#a00000 384px,#a00000 409px,#ff5b00 410px,#ffff05 440px,#ffff61 455px,#ff9 472px,#ffffbd 508px,#ffffcf 568px,#ffffb6 633px,#ffff9a 685px,#ffff49 690px,#ffff0a 693px,#ffe800 695px,#ff7800 704px,#ff2b00 714px,#fc0000 724px,#460000 794px,#460000 795px)"></i><i style="top:392px;height:1px;background:linear-gradient(90deg,#480000,#ff0600 72px,#ff4c00 85px,#ffac00 95px,#ffff07 102px,#ffff6d 108px,#ffffac 215px,#ffffa2 273px,#ffff79 318px,#ff4 336px,#fffd00 349px,#ff4d00 383px,#930000 384px,#930000 409px,#ff4d00 410px,#ffff03 445px,#ffff54 461px,#ffff81 480px,#ffffab 540px,#ffffa3 603px,#ffff6d 685px,#ffff07 691px,#ffa000 699px,#ff4500 709px,#ff0200 722px,#460000 795px)"></i><i style="top:393px;height:1px;background:linear-gradient(90deg,#480000,#ff0300 72px,#ff4b00 86px,#ffb000 97px,#ffff02 104px,#ffff45 108px,#ffff8e 214px,#ffff87 270px,#ffff57 318px,#ffff21 336px,#fffb00 344px,#ff4000 383px,#800 384px,#800 409px,#ff4000 410px,#fffb00 449px,#ffff50 471px,#ffff7b 507px,#ffff90 551px,#ffff82 605px,#ffff45 685px,#ffff02 689px,#ff6b00 703px,#ff1d00 715px,#fb0000 723px,#460000 795px)"></i><i style="top:394px;height:1px;background:linear-gradient(90deg,#480000,#ff0400 73px,#ff4b00 87px,#ffb400 99px,#ff0 106px,#ffff21 108px,#ffff73 213px,#ffff6e 268px,#ffff3b 317px,#ffff07 335px,#ffd800 348px,#ff3400 383px,#7e0000 384px,#7e0000 409px,#ff3400 410px,#ffe700 449px,#ffff07 458px,#ffff3b 476px,#ffff71 529px,#ffff6f 591px,#ffff21 685px,#ff0 687px,#ff6900 702px,#ff1d00 714px,#f90000 723px,#450000 795px)"></i><i style="top:395px;height:1px;background:linear-gradient(90deg,#480000,#ff0500 74px,#ff4a00 88px,#ffb600 101px,#ffff01 108px,#ffff5b 213px,#ffff57 267px,#ffff20 317px,#fff900 332px,#ffa900 355px,#ff2a00 383px,#740000 384px,#740000 409px,#ff2a00 410px,#ffce00 447px,#ffff05 465px,#ffff32 488px,#ffff5e 542px,#ffff50 599px,#ffff07 681px,#ffff01 685px,#ff6e00 700px,#ff1e00 713px,#fa0000 722px,#450000 795px)"></i><i style="top:396px;height:1px;background:linear-gradient(90deg,#480000,#ff0600 75px,#ff4f00 90px,#ffc300 104px,#ffed00 108px,#ffff08 149px,#ff4 210px,#ffff42 266px,#ffff08 317px,#ffe800 332px,#ff9600 356px,#ff2100 383px,#6c0000 384px,#6c0000 409px,#ff2100 410px,#ffba00 446px,#fffc00 470px,#ffff41 526px,#ffff46 573px,#ffff29 616px,#fffe00 657px,#ffed00 685px,#ff6b00 699px,#ff1a00 713px,#f80000 722px,#450000 795px)"></i><i style="top:397px;height:1px;background:linear-gradient(90deg,#480000,#ff0400 75px,#ff4d00 91px,#ffbc00 105px,#ffde00 109px,#ffff06 167px,#ffff31 215px,#ffff2f 265px,#fff900 314px,#ffc900 338px,#ff2400 381px,#ff1900 383px,#640000 384px,#640000 409px,#ff1900 410px,#ffa400 444px,#ffeb00 469px,#ffff09 491px,#ffff35 541px,#ffff26 597px,#fff900 637px,#ffdb00 685px,#ff6800 698px,#ff1a00 712px,#f90000 721px,#450000 795px)"></i><i style="top:398px;height:1px;background:linear-gradient(90deg,#480000,#ff0400 76px,#ff4c00 92px,#ffae00 105px,#ffce00 109px,#ffff06 184px,#ffff20 221px,#ffff1d 265px,#fff900 300px,#ffd000 330px,#ff7900 357px,#f10 383px,#5e0000 384px,#5e0000 409px,#f10 410px,#ff8d00 441px,#ffd900 467px,#ffff03 503px,#ffff23 541px,#ffff13 596px,#fff800 622px,#fc0 685px,#f60 697px,#ff1600 712px,#fa0000 720px,#450000 795px)"></i><i style="top:399px;height:1px;background:linear-gradient(90deg,#470000,#ff0500 77px,#ff5000 94px,#ffb300 107px,#ffc000 110px,#ffff06 202px,#ffff10 261px,#fff800 286px,#ffca00 327px,#ff7600 355px,#ff0b00 383px,#570000 384px,#570000 409px,#ff0b00 410px,#ff7600 438px,#ffca00 466px,#fff900 508px,#ffff12 546px,#fff800 607px,#ffbd00 685px,#ff5d00 697px,#ff0f00 713px,#f50000 721px,#450000 795px)"></i><i style="top:400px;height:1px;background:linear-gradient(90deg,#470000,#ff0600 78px,#ff4f00 95px,#ffa600 107px,#ffb300 110px,#fffd00 218px,#fff900 271px,#ffc400 324px,#ff7400 353px,#ff0a00 382px,#ff0500 383px,#520000 384px,#520000 409px,#ff0500 410px,#ff6200 435px,#ffbc00 465px,#ffec00 505px,#ffff03 543px,#fff200 600px,#ffb600 678px,#ffb000 685px,#f50 697px,#ff0900 714px,#e00 723px,#450000 795px)"></i><i style="top:401px;height:1px;background:linear-gradient(90deg,#470000,#ff0300 78px,#ff4d00 96px,#ffa600 109px,#ffd900 176px,#fff400 223px,#fff100 268px,#ffb900 324px,#ff6700 354px,#fe0000 383px,#4d0000 384px,#4d0000 409px,#fe0000 410px,#ff7100 442px,#ffbd00 471px,#fff700 536px,#ffe700 600px,#ffac00 675px,#ffa400 685px,#ff4d00 697px,#ff0300 715px,#450000 795px)"></i><i style="top:402px;height:1px;background:linear-gradient(90deg,#470000,#ff0400 79px,#ff4c00 97px,#ff9b00 109px,#ffce00 175px,#ffea00 222px,#ffe800 267px,#ffaf00 324px,#f50 357px,#f90000 383px,#480000 384px,#480000 409px,#f90000 410px,#ffa000 462px,#ffcd00 494px,#fe0 542px,#ffdc00 601px,#ffa300 672px,#f90 685px,#ff4700 697px,#ff0100 715px,#450000 795px)"></i><i style="top:403px;height:1px;background:linear-gradient(90deg,#470000,#ff0500 80px,#ff4b00 98px,#ff9000 109px,#ffc200 173px,#ffe100 221px,#ffdf00 267px,#ffa300 325px,#ff3c00 363px,#f90000 382px,#f40000 383px,#400 384px,#400 409px,#f40000 410px,#ff0f00 416px,#ff9b00 464px,#ffcd00 504px,#ffe500 543px,#ffd300 601px,#f90 670px,#ff8e00 685px,#ff4100 697px,#fe0000 715px,#400 795px)"></i><i style="top:404px;height:1px;background:linear-gradient(90deg,#470000,#ff0500 81px,#ff4a00 99px,#ff8700 109px,#ffb800 172px,#ffd800 220px,#ffd700 267px,#ff9a00 325px,#ff1c00 372px,#f90000 381px,#f00000 383px,#400000 384px,#400000 409px,#f00000 410px,#ff0700 415px,#ff9200 464px,#ffc600 506px,#ffdc00 543px,#ffcb00 600px,#ff9000 669px,#ff8500 685px,#ff3700 698px,#fc0000 715px,#400 795px)"></i><i style="top:405px;height:1px;background:linear-gradient(90deg,#470000,#ff0300 81px,#ff4900 100px,#ff7e00 109px,#ffaf00 172px,#ffd000 220px,#ffcf00 266px,#ff9200 325px,#f10 374px,#f50000 381px,#ec0000 383px,#3d0000 384px,#3d0000 409px,#ec0000 410px,#ff0600 416px,#ff8e00 466px,#ffca00 520px,#ffd400 548px,#ffc200 601px,#ff8900 667px,#ff7c00 685px,#ff3200 698px,#fd0000 714px,#400 795px)"></i><i style="top:406px;height:1px;background:linear-gradient(90deg,#470000,#ff0100 81px,#f40 100px,#ff7500 109px,#ffa600 171px,#ffc800 219px,#ffc800 266px,#f80 326px,#fa0000 379px,#e90000 383px,#3a0000 384px,#3a0000 409px,#e90000 410px,#ff0600 417px,#ff8a00 468px,#ffcd00 534px,#ffbc00 598px,#ff8000 667px,#ff7300 685px,#ff2e00 698px,#fb0000 714px,#400 795px)"></i><i style="top:407px;height:1px;background:linear-gradient(90deg,#460000,#fe0000 81px,#ff4300 101px,#ff6e00 109px,#ff9e00 171px,#ffc100 219px,#ffc000 266px,#ff8000 326px,#fa0000 378px,#e50000 383px,#370000 384px,#370000 409px,#e50000 410px,#ff0500 418px,#ff8400 469px,#ffc600 536px,#ffb400 599px,#ff7900 666px,#ff6c00 685px,#ff2600 699px,#fa0000 714px,#400 795px)"></i><i style="top:408px;height:2px;background:linear-gradient(90deg,#460000,#ea0000 73px,#ff0700 85px,#ff4a00 104px,#ff6300 109px,#ff9300 171px,#ffb600 219px,#ffb600 266px,#ff7400 327px,#fc0000 376px,#e10000 383px,#340000 384px,#340000 409px,#e10000 410px,#ff0600 420px,#ff7f00 472px,#fb0 539px,#ffa900 599px,#ff6f00 665px,#ff6100 685px,#ff1e00 700px,#fa0000 713px,#400 795px)"></i><i style="top:410px;height:2px;background:linear-gradient(90deg,#460000,#e00000 69px,#ff0500 86px,#f40 105px,#ff5700 110px,#ff8600 171px,#ffa900 219px,#ffa900 266px,#f60 328px,#f90000 375px,#dc0000 383px,#300000 384px,#300000 409px,#dc0000 410px,#ff0500 422px,#ff7300 473px,#ffaf00 539px,#ff9c00 599px,#ff6300 664px,#ff4f00 686px,#ff1000 703px,#f70000 713px,#570000 786px,#430000 795px)"></i><i style="top:412px;height:2px;background:linear-gradient(90deg,#460000,#db0000 67px,#ff0700 88px,#f40 107px,#ff9d00 217px,#ff9e00 265px,#ff5900 329px,#f90000 373px,#d70000 383px,#2c0000 384px,#2c0000 409px,#d70000 410px,#ff0400 424px,#ff6a00 475px,#ffa300 540px,#ff9000 599px,#ff5800 664px,#f40 686px,#ff0700 705px,#ad0000 749px,#430000 795px)"></i><i style="top:414px;height:2px;background:linear-gradient(90deg,#450000,#d80000 66px,#ff0600 89px,#ff4300 111px,#ff6f00 171px,#ff9200 219px,#ff9300 265px,#ff4d00 330px,#f90000 371px,#d30000 383px,#2a0000 384px,#2a0000 409px,#d30000 410px,#ff0400 426px,#ff6200 477px,#ff9800 540px,#ff8500 599px,#ff4e00 664px,#ff3b00 686px,#ff0100 706px,#710000 775px,#430000 795px)"></i><i style="top:416px;height:2px;background:linear-gradient(90deg,#450000,#d50000 65px,#ff0700 91px,#ff3b00 111px,#f60 172px,#f80 220px,#f80 266px,#ff4200 332px,#f90000 369px,#cf0000 383px,#270000 384px,#270000 409px,#cf0000 410px,#ff0300 428px,#ff5a00 478px,#ff8e00 540px,#ff7b00 599px,#ff4500 664px,#f30 686px,#fd0000 706px,#730000 774px,#420000 795px)"></i><i style="top:418px;height:2px;background:linear-gradient(90deg,#400,#d40000 65px,#ff0600 92px,#ff3400 112px,#ff5f00 173px,#ff7f00 221px,#ff7e00 266px,#ff3900 333px,#fa0000 367px,#c00 383px,#260000 384px,#260000 409px,#c00 410px,#ff0100 429px,#ff5300 480px,#ff8400 541px,#ff7100 600px,#ff3d00 665px,#ff2d00 686px,#fb0000 706px,#7a0000 771px,#420000 795px)"></i><i style="top:420px;height:2px;background:linear-gradient(90deg,#400,#d10000 64px,#ff0700 94px,#ff2d00 112px,#ff5800 174px,#f70 222px,#ff7600 266px,#ff2f00 335px,#fa0000 365px,#c90000 383px,#240000 384px,#240000 409px,#c90000 410px,#ff0100 431px,#ff4d00 482px,#ff7b00 541px,#ff6800 600px,#ff3600 665px,#ff2300 687px,#fb0000 705px,#800000 768px,#420000 795px)"></i><i style="top:422px;height:2px;background:linear-gradient(90deg,#400,#d00000 64px,#ff0600 95px,#ff2800 113px,#ff5200 176px,#ff6f00 223px,#ff6e00 266px,#ff2500 338px,#fa0000 363px,#c50000 383px,#230000 384px,#230000 409px,#c50000 410px,#fe0000 432px,#ff4900 485px,#ff7300 541px,#ff6100 600px,#ff2f00 666px,#ff1e00 687px,#fa0000 704px,#870000 765px,#410000 795px)"></i><i style="top:424px;height:2px;background:linear-gradient(90deg,#430000,#d00000 64px,#ff0500 96px,#ff2400 114px,#ff4d00 178px,#ff6800 225px,#f60 266px,#ff1e00 340px,#f80000 362px,#c10000 383px,#200 384px,#200 409px,#c10000 410px,#fe0000 434px,#f40 487px,#ff6c00 541px,#ff5900 601px,#ff2900 668px,#ff1700 688px,#f90000 704px,#8b0000 763px,#410000 795px)"></i><i style="top:426px;height:3px;background:linear-gradient(90deg,#430000,#cf0000 64px,#ff0600 98px,#ff2000 116px,#ff4800 181px,#ff6000 228px,#ff5d00 267px,#ff1600 342px,#f70000 360px,#bd0000 383px,#210000 384px,#210000 409px,#bd0000 410px,#f70000 433px,#ff1d00 456px,#ff6300 540px,#ff5100 601px,#ff2300 669px,#f10 689px,#f70000 704px,#8f0000 761px,#400000 795px)"></i><i style="top:429px;height:2px;background:linear-gradient(90deg,#420000,#c00 63px,#ff0600 100px,#ff1c00 119px,#ff5800 224px,#f50 267px,#ff1000 343px,#f70000 358px,#bd0000 382px,#b90000 383px,#200000 384px,#200000 409px,#b90000 410px,#f30000 433px,#ff0b00 447px,#ff4500 506px,#ff5b00 543px,#ff4900 602px,#ff1d00 672px,#f80000 702px,#940000 758px,#400000 795px)"></i><i style="top:431px;height:3px;background:linear-gradient(90deg,#420000,#cd0000 64px,#ff0700 102px,#ff1c00 128px,#ff5100 224px,#ff4e00 267px,#ff0d00 342px,#f30000 358px,#c10000 379px,#9f0000 383px,#200000 384px,#200000 409px,#9f0000 410px,#c60000 415px,#ff0100 443px,#ff3600 494px,#ff5400 543px,#ff4200 603px,#ff1700 676px,#f70000 701px,#980000 756px,#3f0000 795px)"></i><i style="top:434px;height:3px;background:linear-gradient(90deg,#410000,#c00 64px,#ff0500 103px,#ff4900 223px,#ff4600 268px,#ff0800 342px,#e90000 361px,#bd0000 379px,#9b0000 383px,#1f0000 384px,#1f0000 409px,#9b0000 410px,#c10000 415px,#fe0000 445px,#ff3200 498px,#ff4c00 544px,#ff3b00 604px,#f90000 698px,#a00000 752px,#3f0000 795px)"></i><i style="top:437px;height:4px;background:linear-gradient(90deg,#400000,#ca0000 64px,#ff0500 105px,#ff4200 225px,#ff3e00 269px,#ff0500 340px,#d40000 369px,#b20000 380px,#960000 383px,#1f0000 384px,#1f0000 409px,#960000 410px,#bc0000 415px,#f90000 445px,#ff4500 537px,#ff3400 604px,#f90000 697px,#a30000 750px,#3e0000 795px)"></i><i style="top:441px;height:4px;background:linear-gradient(90deg,#3f0000,#c90000 64px,#ff0500 107px,#ff3b00 228px,#ff3500 270px,#f90000 344px,#b00 377px,#9d0000 382px,#920000 383px,#1e0000 384px,#1e0000 409px,#920000 410px,#b70000 415px,#f20000 444px,#ff0b00 463px,#ff3c00 544px,#ff2c00 607px,#f90000 695px,#a70000 747px,#3d0000 795px)"></i><i style="top:445px;height:5px;background:linear-gradient(90deg,#3e0000,#c70000 64px,#ff0400 109px,#ff3400 230px,#ff2d00 272px,#f90000 340px,#b00 375px,#a00000 381px,#8d0000 383px,#1e0000 384px,#1e0000 409px,#8d0000 410px,#b20000 415px,#ec0000 444px,#ff0900 466px,#ff3500 545px,#ff2400 610px,#f90000 693px,#ac0000 744px,#3c0000 795px)"></i><i style="top:450px;height:6px;background:linear-gradient(90deg,#3d0000,#c70000 65px,#ff0200 111px,#ff2d00 232px,#ff2300 276px,#f80000 335px,#ba0000 373px,#9a0000 381px,#870000 383px,#1e0000 384px,#1e0000 409px,#870000 410px,#ab0000 415px,#e60000 444px,#ff0600 470px,#ff2d00 546px,#ff1d00 614px,#f80000 691px,#b00000 741px,#3a0000 795px)"></i><i style="top:456px;height:7px;background:linear-gradient(90deg,#3b0000,#c50000 65px,#f00 113px,#ff2600 235px,#ff1800 284px,#f80000 329px,#b90000 370px,#9a0000 380px,#810000 383px,#1e0000 384px,#1e0000 409px,#810000 410px,#a70000 416px,#e30000 447px,#ff0500 477px,#ff2600 548px,#ff1500 621px,#f90000 688px,#b50000 737px,#390000 795px)"></i><i style="top:463px;height:7px;background:linear-gradient(90deg,#390000,#c40000 66px,#fd0000 114px,#ff1f00 239px,#ff0a00 301px,#f10000 329px,#b20000 370px,#8c0000 381px,#7a0000 383px,#1e0000 384px,#1e0000 409px,#7a0000 410px,#9f0000 416px,#dc0000 447px,#ff0500 485px,#ff1f00 551px,#ff0c00 635px,#f70000 687px,#b40000 736px,#370000 795px)"></i><i style="top:470px;height:5px;background:linear-gradient(90deg,#370000,#c40000 67px,#fc0000 115px,#ff1b00 242px,#f80000 315px,#b90000 363px,#8b0000 380px,#730000 383px,#1e0000 384px,#1e0000 409px,#730000 410px,#970000 416px,#d60000 448px,#ff0300 491px,#ff1b00 553px,#f90000 682px,#bd0000 730px,#350000 795px)"></i><i style="top:475px;height:5px;background:linear-gradient(90deg,#360000,#c20000 67px,#fa0000 115px,#ff1700 245px,#f80000 309px,#b70000 360px,#820000 380px,#6c0000 383px,#1d0000 384px,#1d0000 409px,#6c0000 410px,#8f0000 416px,#cf0000 448px,#ff0300 497px,#ff1800 555px,#f90000 680px,#be0000 728px,#340000 795px)"></i><i style="top:480px;height:5px;background:linear-gradient(90deg,#350000,#c10000 68px,#f90000 116px,#ff1400 248px,#f70000 303px,#b60000 356px,#7f0000 379px,#650000 383px,#1d0000 384px,#1d0000 409px,#650000 410px,#8a0000 417px,#c00 451px,#ff0300 503px,#ff1500 556px,#f90000 678px,#c00000 726px,#320000 795px)"></i><i style="top:485px;height:5px;background:linear-gradient(90deg,#300,#bf0000 68px,#f80000 116px,#ff1200 210px,#ff0800 275px,#ed0000 308px,#a70000 360px,#730000 380px,#5e0000 383px,#1d0000 384px,#1d0000 409px,#5e0000 410px,#820000 417px,#c70000 452px,#ff0100 508px,#ff1300 558px,#f80000 676px,#c10000 724px,#310000 795px)"></i><i style="top:490px;height:5px;background:linear-gradient(90deg,#320000,#bf0000 69px,#f70000 117px,#ff0d00 193px,#ff0900 267px,#ef0000 300px,#a90000 355px,#6b0000 380px,#570000 383px,#1d0000 384px,#1d0000 409px,#570000 410px,#7d0000 418px,#c40000 455px,#ff0200 515px,#f10 568px,#f80000 674px,#c20000 722px,#2f0000 795px)"></i><i style="top:495px;height:5px;background:linear-gradient(90deg,#300000,#be0000 70px,#f60000 119px,#ff0d00 200px,#ff0500 266px,#db0000 314px,#920000 363px,#5f0000 381px,#510000 383px,#1d0000 384px,#1d0000 409px,#510000 410px,#760000 418px,#be0000 456px,#ff0100 520px,#ff0e00 579px,#f70000 673px,#c00000 722px,#2e0000 795px)"></i><i style="top:500px;height:5px;background:linear-gradient(90deg,#2f0000,#bc0000 70px,#f50000 119px,#ff0900 191px,#ff0400 260px,#d60000 313px,#8b0000 363px,#580000 381px,#4b0000 383px,#1d0000 384px,#1d0000 409px,#4b0000 410px,#710000 419px,#b00 459px,#fe0100 526px,#ff0c00 589px,#f60000 672px,#bf0000 721px,#2d0000 795px)"></i><i style="top:505px;height:5px;background:linear-gradient(90deg,#2d0000,#bc0000 71px,#f40000 121px,#ff0900 199px,#f80000 270px,#ad0000 339px,#620000 377px,#460000 383px,#1d0000 384px,#1d0000 409px,#460000 410px,#6d0000 420px,#ba0000 463px,#fe0100 533px,#ff0800 598px,#f40000 672px,#bc0000 722px,#2b0000 795px)"></i><i style="top:510px;height:8px;background:linear-gradient(90deg,#2c0000,#ba0000 72px,#f20000 122px,#ff0700 203px,#f70000 264px,#ab0000 335px,#5e0000 376px,#400000 383px,#1d0000 384px,#1d0000 409px,#400000 410px,#680000 421px,#b80000 467px,#fc0000 538px,#ff0400 610px,#ef0000 676px,#b10000 727px,#290000 795px)"></i><i style="top:518px;height:8px;background:linear-gradient(90deg,#290000,#b80000 73px,#f10000 124px,#ff0500 214px,#f20000 262px,#a40000 335px,#540000 377px,#3b0000 383px,#1d0000 384px,#1d0000 409px,#3b0000 410px,#630000 422px,#b50000 471px,#f90000 542px,#fa0000 641px,#df0000 690px,#8d0000 745px,#270000 795px)"></i><i style="top:526px;height:8px;background:linear-gradient(90deg,#270000,#b60000 74px,#e00 126px,#fe0000 223px,#d90000 283px,#850000 350px,#400 380px,#360000 383px,#1d0000 384px,#1d0000 409px,#360000 410px,#610000 424px,#b50000 477px,#f60000 548px,#fd0000 615px,#e60000 679px,#9f0000 733px,#250000 795px)"></i><i style="top:534px;height:8px;background:linear-gradient(90deg,#250000,#b30000 75px,#ec0000 128px,#fa0000 220px,#d20000 283px,#7a0000 352px,#3b0000 381px,#310000 383px,#1d0000 384px,#1d0000 409px,#310000 410px,#5e0000 426px,#b50000 483px,#f30000 554px,#f90000 616px,#e20000 678px,#9b0000 733px,#230000 795px)"></i><i style="top:542px;height:8px;background:linear-gradient(90deg,#240000,#b00000 76px,#e90000 130px,#f60000 216px,#ce0000 280px,#730000 352px,#360000 381px,#2d0000 383px,#1d0000 384px,#1d0000 409px,#310000 411px,#710000 440px,#c00 511px,#f60000 575px,#eb0000 660px,#b60000 713px,#320000 786px,#200 795px)"></i><i style="top:550px;height:8px;background:linear-gradient(90deg,#200,#af0000 78px,#e70000 133px,#f10000 213px,#c80000 278px,#6c0000 352px,#2d0000 382px,#1d0000 385px,#1d0000 409px,#370000 414px,#8e0000 464px,#e00000 543px,#f40000 605px,#df0000 672px,#9a0000 729px,#200000 795px)"></i><i style="top:558px;height:8px;background:linear-gradient(90deg,#200000,#ac0000 79px,#e40000 135px,#ec0000 210px,#c20000 276px,#630000 353px,#290000 382px,#1d0000 386px,#1d0000 409px,#400000 420px,#9d0000 482px,#e30000 559px,#e00 623px,#d50000 678px,#870000 738px,#1e0000 795px)"></i><i style="top:566px;height:8px;background:linear-gradient(90deg,#1f0000,#a00 81px,#e10000 138px,#e70000 209px,#b00 277px,#590000 356px,#200 383px,#200 410px,#620000 443px,#c30000 525px,#e90000 591px,#d00 661px,#a00000 719px,#1d0000 795px)"></i><i style="top:574px;height:8px;background:linear-gradient(90deg,#1d0000,#a70000 82px,#de0000 140px,#e40000 210px,#b70000 278px,#560000 357px,#1d0000 387px,#210000 410px,#630000 445px,#c30000 528px,#e60000 593px,#d90000 661px,#9b0000 720px,#1b0000 795px)"></i><i style="top:582px;height:8px;background:linear-gradient(90deg,#1c0000,#a50000 84px,#db0000 143px,#e00000 213px,#b10000 282px,#510000 359px,#1d0000 387px,#240000 411px,#720000 456px,#ca0000 540px,#e30000 604px,#d10000 666px,#8b0000 728px,#1a0000 795px)"></i><i style="top:590px;height:8px;background:linear-gradient(90deg,#1b0000,#a20000 85px,#d70000 145px,#dc0000 215px,#ad0000 284px,#4e0000 360px,#1d0000 387px,#230000 411px,#720000 457px,#c80000 540px,#e00000 603px,#cd0000 665px,#850000 729px,#190000 795px)"></i><i style="top:598px;height:8px;background:linear-gradient(90deg,#1a0000,#a00000 87px,#d40000 148px,#d80000 218px,#a70000 288px,#480000 363px,#1d0000 387px,#200 411px,#710000 458px,#c60000 540px,#dc0000 603px,#c80000 665px,#7f0000 731px,#180000 795px)"></i><i style="top:606px;height:8px;background:linear-gradient(90deg,#190000,#9e0000 89px,#d10000 151px,#d40000 221px,#a20000 292px,#400 365px,#1d0000 386px,#210000 411px,#710000 459px,#c40000 541px,#d90000 604px,#c30000 666px,#700 734px,#170000 795px)"></i><i style="top:614px;height:8px;background:linear-gradient(90deg,#180000,#9c0000 90px,#ce0000 153px,#d00000 224px,#9c0000 296px,#3e0000 368px,#1d0000 386px,#240000 412px,#7a0000 467px,#c60000 547px,#d50000 609px,#bd0000 669px,#6b0000 740px,#160000 795px)"></i><i style="top:622px;height:8px;background:linear-gradient(90deg,#170000,#9a0000 91px,#c00 155px,#cd0000 227px,#980000 299px,#3c0000 369px,#1d0000 386px,#240000 412px,#7a0000 467px,#c30000 546px,#d20000 608px,#ba0000 669px,#680000 741px,#150000 795px)"></i><i style="top:630px;height:8px;background:linear-gradient(90deg,#160000,#980000 91px,#c90000 155px,#cb0000 228px,#960000 300px,#3a0000 370px,#1d0000 386px,#240000 412px,#780000 466px,#c10000 545px,#cf0000 607px,#b80000 668px,#680000 740px,#150000 795px)"></i><i style="top:638px;height:8px;background:linear-gradient(90deg,#160000,#970000 92px,#c70000 156px,#c80000 231px,#920000 304px,#360000 372px,#0e0000 391px,#140000 407px,#420000 428px,#9d0000 500px,#ca0000 569px,#c20000 648px,#870000 715px,#140000 795px)"></i><i style="top:646px;height:8px;background:linear-gradient(90deg,#150000,#950000 92px,#c50000 156px,#c60000 233px,#900000 306px,#370000 372px,#0e0000 391px,#140000 407px,#430000 428px,#9c0000 499px,#c80000 568px,#c00000 649px,#830000 717px,#140000 795px)"></i><i style="top:654px;height:8px;background:linear-gradient(90deg,#150000,#940000 92px,#c30000 157px,#c40000 235px,#8f0000 307px,#370000 372px,#0e0000 391px,#140000 407px,#430000 428px,#9b0000 498px,#c70000 567px,#bd0000 650px,#810000 718px,#140000 795px)"></i><i style="top:662px;height:8px;background:linear-gradient(90deg,#150000,#930000 92px,#c20000 157px,#c30000 237px,#8d0000 309px,#350000 373px,#0e0000 391px,#140000 407px,#430000 428px,#9a0000 497px,#c60000 565px,#bc0000 650px,#7e0000 719px,#130000 795px)"></i><i style="top:670px;height:8px;background:linear-gradient(90deg,#140000,#930000 93px,#c10000 158px,#c10000 240px,#8b0000 312px,#340000 374px,#0e0000 391px,#140000 407px,#400 428px,#9a0000 496px,#c50000 564px,#ba0000 651px,#7c0000 720px,#130000 795px)"></i><i style="top:678px;height:8px;background:linear-gradient(90deg,#140000,#920000 93px,#c00000 158px,#c00000 242px,#8a0000 313px,#300 375px,#0e0000 391px,#140000 407px,#430000 427px,#980000 493px,#c40000 561px,#ba0000 650px,#7d0000 719px,#130000 795px)"></i><i style="top:686px;height:8px;background:linear-gradient(90deg,#140000,#920000 93px,#bf0000 158px,#c00000 244px,#8a0000 314px,#300 375px,#0e0000 391px,#140000 407px,#430000 427px,#980000 492px,#c30000 559px,#b90000 650px,#7c0000 719px,#130000 795px)"></i><i style="top:694px;height:8px;background:linear-gradient(90deg,#140000,#910000 93px,#bf0000 158px,#bf0000 246px,#8a0000 315px,#340000 375px,#0e0000 391px,#150000 407px,#420000 426px,#970000 490px,#c30000 557px,#b90000 649px,#7d0000 718px,#120000 795px)"></i><i style="top:702px;height:8px;background:linear-gradient(90deg,#140000,#910000 93px,#be0000 158px,#bf0000 248px,#8b0000 316px,#350000 375px,#0e0000 391px,#120000 406px,#420000 425px,#950000 487px,#c20000 553px,#ba0000 647px,#7f0000 716px,#120000 795px)"></i><i style="top:710px;height:8px;background:linear-gradient(90deg,#140000,#910000 93px,#be0000 158px,#bf0000 250px,#8b0000 317px,#370000 374px,#0e0000 391px,#120000 406px,#430000 425px,#960000 486px,#c10000 551px,#b90000 647px,#7f0000 716px,#120000 795px)"></i><i style="top:718px;height:8px;background:linear-gradient(90deg,#140000,#910000 93px,#be0000 158px,#bf0000 252px,#8b0000 318px,#380000 374px,#0e0000 391px,#130000 406px,#420000 424px,#940000 483px,#c10000 548px,#ba0000 646px,#810000 714px,#120000 795px)"></i><i style="top:726px;height:8px;background:linear-gradient(90deg,#140000,#900000 93px,#be0000 158px,#be0000 254px,#8c0000 319px,#390000 374px,#0e0000 391px,#130000 406px,#430000 424px,#950000 482px,#c10000 546px,#ba0000 645px,#820000 713px,#120000 795px)"></i><i style="top:734px;height:8px;background:linear-gradient(90deg,#140000,#900000 93px,#be0000 158px,#be0000 256px,#8c0000 320px,#3a0000 374px,#0e0000 391px,#130000 406px,#400 424px,#950000 481px,#c10000 544px,#ba0000 645px,#820000 713px,#120000 795px)"></i><i style="top:742px;height:1px;background:linear-gradient(90deg,#140000,#900000 93px,#be0000 158px,#be0000 257px,#8d0000 320px,#3a0000 374px,#0e0000 391px,#140000 406px,#420000 423px,#940000 479px,#c00000 541px,#b00 643px,#850000 711px,#120000 795px)"></i>
</div>
<div class="hm" style="left:226px;top:987px;width:796px;height:744px;overflow:hidden">
<i style="top:0px;height:8px;background:linear-gradient(90deg,#2f0000,#b00000 62px,#ed0000 84px,#ff0400 88px,#ff4f00 99px,#ff5000 105px,#ff4500 106px,#ffb300 198px,#ffb700 238px,#ff8200 290px,#ff1900 375px,#ff1700 416px,#ff6100 481px,#ffb300 549px,#ffb700 589px,#ff8100 641px,#f40 689px,#ff5300 691px,#ff4a00 697px,#fb0000 708px,#c00 721px,#360000 790px,#2e0000 795px)"></i><i style="top:8px;height:8px;background:linear-gradient(90deg,#2f0000,#b00000 62px,#ed0000 84px,#ff0400 88px,#ff4f00 99px,#ff5000 105px,#ff4500 106px,#ffb300 198px,#ffb700 238px,#ff8200 290px,#ff1900 376px,#ff1700 416px,#ff6b00 488px,#ffb300 550px,#ffb700 590px,#ff7f00 643px,#f40 689px,#ff5300 691px,#ff4a00 697px,#fb0000 708px,#c00 721px,#360000 790px,#2e0000 795px)"></i><i style="top:16px;height:8px;background:linear-gradient(90deg,#2f0000,#b00000 62px,#ed0000 84px,#ff0400 88px,#ff4f00 99px,#ff5000 105px,#ff4500 106px,#ffb300 198px,#ffb700 238px,#ff8200 290px,#ff1800 377px,#ff1700 416px,#ff7600 496px,#ffb500 553px,#ffb500 593px,#ff7400 651px,#f40 689px,#ff5300 691px,#ff4a00 697px,#fb0000 708px,#c00 721px,#360000 790px,#2e0000 795px)"></i><i style="top:24px;height:8px;background:linear-gradient(90deg,#2f0000,#b00000 62px,#ed0000 84px,#ff0400 88px,#ff4f00 99px,#ff5000 105px,#ff4500 106px,#ffb300 198px,#ffb700 238px,#ff8200 290px,#ff1800 378px,#ff1800 417px,#ff9200 517px,#ffba00 563px,#ffae00 603px,#f40 689px,#ff5300 691px,#ff4a00 697px,#fb0000 708px,#c00 721px,#360000 790px,#2e0000 795px)"></i><i style="top:32px;height:8px;background:linear-gradient(90deg,#2f0000,#b00000 62px,#ed0000 84px,#ff0400 88px,#ff4f00 99px,#ff5000 105px,#ff4500 106px,#ffb300 198px,#ffb700 238px,#ff8200 290px,#ff1800 379px,#ff1900 417px,#ffb300 550px,#ffb700 590px,#ff7f00 643px,#f40 689px,#ff5300 691px,#ff4a00 697px,#fb0000 708px,#c00 721px,#360000 790px,#2e0000 795px)"></i><i style="top:40px;height:8px;background:linear-gradient(90deg,#2f0000,#b00000 62px,#ed0000 84px,#ff0400 88px,#ff4f00 99px,#ff5000 105px,#ff4500 106px,#ffb300 198px,#ffb700 238px,#ff8200 290px,#ff1700 380px,#ff1900 417px,#ffb300 550px,#ffb700 590px,#ff7f00 643px,#f40 689px,#ff5300 691px,#ff4a00 697px,#fb0000 708px,#c00 721px,#360000 790px,#2e0000 795px)"></i><i style="top:48px;height:8px;background:linear-gradient(90deg,#2f0000,#b00000 62px,#ed0000 84px,#ff0400 88px,#ff4f00 99px,#ff5000 105px,#ff4500 106px,#ffb300 198px,#ffb700 238px,#ff8200 290px,#ff1700 381px,#ff1900 417px,#ffb400 550px,#ffb700 590px,#ff7f00 643px,#f40 689px,#ff5300 691px,#ff4a00 697px,#fb0000 708px,#c00 721px,#360000 790px,#2e0000 795px)"></i><i style="top:56px;height:8px;background:linear-gradient(90deg,#2f0000,#b00000 62px,#ed0000 84px,#ff0400 88px,#ff4f00 99px,#ff5000 105px,#ff4600 107px,#ffb300 198px,#ffb800 238px,#ff8200 290px,#ff1700 381px,#ff1900 416px,#ff9100 516px,#ffba00 563px,#ffae00 603px,#ff4500 689px,#ff5300 691px,#ff4a00 697px,#fb0000 708px,#c00 721px,#360000 790px,#2e0000 795px)"></i><i style="top:64px;height:8px;background:linear-gradient(90deg,#2f0000,#b00000 62px,#ed0000 84px,#ff0400 88px,#ff4f00 99px,#ff5000 105px,#ff4700 107px,#ffb400 198px,#ffb800 238px,#ff8300 290px,#ff1700 382px,#ff1900 416px,#ff8f00 514px,#ffba00 561px,#ffb100 601px,#ff4500 689px,#ff5300 691px,#ff4a00 697px,#fb0000 708px,#c00 721px,#360000 790px,#2e0000 795px)"></i><i style="top:72px;height:8px;background:linear-gradient(90deg,#2f0000,#b00000 62px,#ed0000 84px,#ff0400 88px,#ff4f00 99px,#ff5000 105px,#ff4800 107px,#ffb600 198px,#ffba00 238px,#ff8500 289px,#ff1800 381px,#ff1800 413px,#ff8600 506px,#ffba00 557px,#ffb500 597px,#ff5a00 672px,#ff4600 689px,#ff5400 692px,#f40 698px,#fb0000 708px,#c00 721px,#360000 790px,#2e0000 795px)"></i><i style="top:80px;height:8px;background:linear-gradient(90deg,#2f0000,#b00000 62px,#ed0000 84px,#ff0400 88px,#ff4f00 99px,#ff4f00 111px,#ffb900 197px,#ffbe00 237px,#ff8b00 287px,#ff1900 381px,#ff1700 411px,#ff8500 503px,#ffbd00 555px,#fb0 594px,#ff7800 652px,#ff4900 689px,#ff5300 694px,#ff2f00 701px,#fb0000 708px,#c00 721px,#360000 790px,#2e0000 795px)"></i><i style="top:88px;height:6px;background:linear-gradient(90deg,#2f0000,#b00000 62px,#ed0000 84px,#ff0400 88px,#ff4f00 99px,#ff5800 115px,#ffbf00 196px,#ffc600 235px,#ff9600 283px,#ff1b00 380px,#ff1600 409px,#f80 502px,#ffc300 554px,#ffc300 593px,#ff8400 648px,#ff5100 690px,#ff4e00 696px,#fb0000 708px,#c00 721px,#360000 790px,#2e0000 795px)"></i><i style="top:94px;height:4px;background:linear-gradient(90deg,#2f0000,#b00000 62px,#ed0000 84px,#ff0400 88px,#ff4f00 99px,#ff6c00 126px,#ffc500 195px,#ffcd00 234px,#ffa000 280px,#ff1b00 381px,#ff1600 408px,#ffc700 550px,#fc0 589px,#ff9800 638px,#ff5300 691px,#ff4a00 697px,#fb0000 708px,#c00 721px,#360000 790px,#2e0000 795px)"></i><i style="top:98px;height:4px;background:linear-gradient(90deg,#2f0000,#b00000 62px,#ed0000 84px,#ff0400 88px,#ff4f00 99px,#ff5000 105px,#ff7e00 134px,#ffce00 196px,#ffd500 234px,#ffa600 280px,#ff1a00 383px,#ff1700 408px,#ffce00 549px,#ffd500 587px,#ffa700 633px,#ff4a00 697px,#fb0000 708px,#c00 721px,#360000 790px,#2e0000 795px)"></i><i style="top:102px;height:3px;background:linear-gradient(90deg,#2f0000,#b00000 62px,#ed0000 84px,#ff0400 88px,#ff4f00 99px,#ff5000 105px,#ff5e00 107px,#ffd400 193px,#ffdf00 231px,#ffb600 274px,#ff1a00 384px,#ff1800 408px,#ffa600 510px,#ffdc00 557px,#ffd900 595px,#ff9a00 647px,#ff5d00 689px,#ff5100 690px,#ff4e00 696px,#fb0000 708px,#c00 721px,#360000 790px,#2e0000 795px)"></i><i style="top:105px;height:3px;background:linear-gradient(90deg,#2f0000,#b00000 62px,#ed0000 84px,#ff0400 88px,#ff4f00 99px,#ff5000 105px,#ff6300 106px,#fd0 192px,#ffe800 230px,#ffc000 272px,#ff1900 386px,#ff1800 408px,#ffde00 548px,#ffe700 586px,#ffbc00 630px,#ff6300 689px,#ff5100 690px,#ff4e00 696px,#fb0000 708px,#c00 721px,#360000 790px,#2e0000 795px)"></i><i style="top:108px;height:2px;background:linear-gradient(90deg,#2f0000,#b00000 62px,#ed0000 84px,#ff0400 88px,#ff4f00 99px,#ff5000 105px,#ff6900 106px,#ffe400 191px,#fff100 228px,#ffcb00 269px,#ff1700 389px,#ff1b00 410px,#ffe400 546px,#fff100 583px,#fc0 624px,#ff6800 689px,#ff5100 690px,#ff4e00 696px,#fb0000 708px,#c00 721px,#360000 790px,#2e0000 795px)"></i><i style="top:110px;height:2px;background:linear-gradient(90deg,#2f0000,#b00000 62px,#ed0000 84px,#ff0400 88px,#ff4f00 99px,#ff5000 105px,#ff6e00 106px,#ffeb00 190px,#fff900 227px,#ffd500 267px,#ff1600 390px,#ff1c00 410px,#ffeb00 546px,#fff900 583px,#ffd400 624px,#ff6d00 689px,#ff5100 690px,#ff4e00 696px,#fb0000 708px,#c00 721px,#360000 790px,#2e0000 795px)"></i><i style="top:112px;height:2px;background:linear-gradient(90deg,#2f0000,#b00000 62px,#ed0000 84px,#ff0400 88px,#ff4f00 99px,#ff5000 105px,#ff7300 106px,#fff300 189px,#ffff04 226px,#ffe600 260px,#ff1500 393px,#f20 413px,#fff200 545px,#ffff04 580px,#ffea00 613px,#ff7300 689px,#ff5100 690px,#ff4e00 696px,#fb0000 708px,#c00 721px,#360000 790px,#2e0000 795px)"></i><i style="top:114px;height:1px;background:linear-gradient(90deg,#2f0000,#b00000 62px,#ed0000 84px,#ff0400 88px,#ff5000 99px,#ff5000 105px,#ff7800 106px,#fff800 188px,#ffff0d 227px,#fff600 252px,#ff1500 394px,#ff2500 414px,#fff700 544px,#ffff0f 580px,#fff700 608px,#f70 689px,#ff5100 690px,#ff4e00 696px,#fb0000 708px,#c00 721px,#360000 790px,#2e0000 795px)"></i><i style="top:115px;height:1px;background:linear-gradient(90deg,#2f0000,#b00000 62px,#ed0000 84px,#ff0400 88px,#ff5000 99px,#ff5000 105px,#ff7b00 106px,#fffd00 188px,#ffff16 221px,#fff800 254px,#ff1500 394px,#ff2400 413px,#fffc00 544px,#ffff16 579px,#fff800 611px,#ff7a00 689px,#ff5100 690px,#ff4e00 696px,#fb0000 708px,#c00 721px,#360000 790px,#2e0000 795px)"></i><i style="top:116px;height:1px;background:linear-gradient(90deg,#2f0000,#b00000 62px,#ed0000 84px,#ff0400 88px,#ff5000 99px,#ff5000 105px,#ff7e00 106px,#ffff01 186px,#ffff1e 216px,#ffff0b 245px,#fff300 261px,#ff1500 394px,#ff2400 413px,#ff0 543px,#ffff1e 573px,#ffff0b 602px,#fff400 618px,#ff7d00 689px,#ff5100 690px,#ff4e00 696px,#fb0000 708px,#c00 721px,#360000 790px,#2e0000 795px)"></i><i style="top:117px;height:1px;background:linear-gradient(90deg,#2f0000,#b00000 62px,#ed0000 84px,#ff0400 88px,#ff5000 99px,#ff5000 105px,#ff8100 106px,#ffff02 182px,#ffff24 212px,#ffff17 241px,#fff800 261px,#ff1500 394px,#ff2300 412px,#ffff02 540px,#ffff24 570px,#ffff17 599px,#fff800 619px,#ff8100 689px,#ff5100 690px,#ff4e00 696px,#fb0000 708px,#c00 721px,#360000 790px,#2e0000 795px)"></i><i style="top:118px;height:1px;background:linear-gradient(90deg,#2f0000,#b00000 62px,#ed0000 84px,#ff0400 88px,#ff5000 99px,#ff5000 105px,#ff8500 106px,#ffff04 179px,#ffff2b 210px,#ffff21 239px,#fff900 263px,#ff1500 394px,#ff2400 412px,#ffff03 537px,#ffff2b 567px,#ff2 596px,#fff900 622px,#ff8400 689px,#ff5100 690px,#ff4e00 696px,#fb0000 708px,#c00 721px,#360000 790px,#2e0000 795px)"></i><i style="top:119px;height:1px;background:linear-gradient(90deg,#2f0000,#b00000 62px,#ed0000 84px,#ff0400 88px,#ff5000 99px,#ff5000 105px,#f80 106px,#ffff05 176px,#ffff32 207px,#ffff2d 235px,#fff900 266px,#ff1500 394px,#ff2300 411px,#ff7e00 462px,#ffff04 534px,#ffff32 565px,#ffff2e 593px,#fff900 625px,#f80 689px,#ff5100 690px,#ff4e00 696px,#fb0000 708px,#c00 721px,#360000 790px,#2e0000 795px)"></i><i style="top:120px;height:1px;background:linear-gradient(90deg,#2f0000,#b00000 62px,#ed0000 84px,#ff0400 88px,#ff5000 99px,#ff5000 105px,#ff8c00 106px,#ffff05 172px,#ffff38 204px,#ffff38 232px,#ffff06 263px,#ff2900 381px,#ff1500 399px,#ff3800 420px,#ffff05 531px,#ffff38 562px,#ffff39 590px,#ffff06 622px,#ff8b00 689px,#ff5100 690px,#ff4e00 696px,#fb0000 708px,#c00 721px,#360000 790px,#2e0000 795px)"></i><i style="top:121px;height:1px;background:linear-gradient(90deg,#2f0000,#b00000 62px,#ed0000 84px,#ff0400 88px,#ff5000 99px,#ff5000 105px,#ff9000 106px,#ffff06 169px,#ffff3e 201px,#ffff43 229px,#ffff17 259px,#fff900 272px,#ff2800 382px,#ff1500 399px,#ff3900 420px,#ffff05 528px,#ffff3d 559px,#ff4 587px,#ffff17 618px,#fffa00 631px,#ff8f00 689px,#ff5100 690px,#ff4e00 696px,#fb0000 708px,#c00 721px,#360000 790px,#2e0000 795px)"></i><i style="top:122px;height:1px;background:linear-gradient(90deg,#2f0000,#b00000 62px,#ed0000 84px,#ff0400 88px,#ff5000 99px,#ff5000 105px,#ff9300 106px,#ffff04 165px,#ff4 198px,#ffff4d 226px,#ffff27 255px,#fffa00 274px,#ff2b00 381px,#ff1500 398px,#f30 417px,#ffff05 525px,#ff4 557px,#ffff4e 585px,#ffff26 615px,#fffa00 634px,#ff9300 689px,#ff5100 690px,#ff4e00 696px,#fb0000 708px,#c00 721px,#360000 790px,#2e0000 795px)"></i><i style="top:123px;height:1px;background:linear-gradient(90deg,#2f0000,#b00000 62px,#ed0000 84px,#ff0400 88px,#ff5000 99px,#ff5000 105px,#ff9700 106px,#ffff05 162px,#ffff4b 196px,#ffff57 224px,#ff3 253px,#fffb00 276px,#ff2f00 380px,#ff1500 397px,#ff2d00 414px,#ff7800 452px,#ffff04 522px,#ffff4a 555px,#ffff57 583px,#ffff35 612px,#fffa00 637px,#ff9700 689px,#ff5100 690px,#ff4e00 696px,#fb0000 708px,#c00 721px,#360000 790px,#2e0000 795px)"></i><i style="top:124px;height:1px;background:linear-gradient(90deg,#2f0000,#b00000 62px,#ed0000 84px,#ff0400 88px,#ff5000 99px,#ff5000 105px,#ff9b00 106px,#ffff06 159px,#ffff50 193px,#ffff61 221px,#ff4 249px,#fffb00 279px,#ff3200 379px,#ff1500 396px,#ff2900 412px,#ff7100 446px,#ffff03 519px,#ffff4e 552px,#ffff62 580px,#ff4 609px,#fffa00 640px,#ff9b00 689px,#ff5100 690px,#ff4e00 696px,#fb0000 708px,#c00 721px,#360000 790px,#2e0000 795px)"></i><i style="top:125px;height:1px;background:linear-gradient(90deg,#2f0000,#b00000 62px,#ed0000 84px,#ff0400 88px,#ff5000 99px,#ff5000 105px,#ff9f00 106px,#ffff06 156px,#ffff56 191px,#ffff6b 219px,#ffff50 247px,#fffa00 282px,#ff3400 379px,#ff1500 396px,#ff2a00 412px,#ff7200 445px,#ffff05 517px,#ffff56 551px,#ffff6b 579px,#ffff51 607px,#fffa00 643px,#ff9f00 689px,#ff5100 690px,#ff4e00 696px,#fb0000 708px,#c00 721px,#360000 790px,#2e0000 795px)"></i><i style="top:126px;height:1px;background:linear-gradient(90deg,#2f0000,#b00000 62px,#ed0000 84px,#ff0400 88px,#ff5000 99px,#ff5000 105px,#ffa400 106px,#ffff06 153px,#ffff5d 189px,#ffff75 217px,#ffff5e 244px,#ffff0c 278px,#fff600 286px,#ff6000 361px,#ff1600 394px,#ff2400 409px,#ff6f00 442px,#ffff04 514px,#ffff5c 549px,#ffff75 576px,#ffff5f 604px,#fffa00 646px,#ffa300 689px,#ff5100 690px,#ff4e00 696px,#fb0000 708px,#c00 721px,#360000 790px,#2e0000 795px)"></i><i style="top:127px;height:1px;background:linear-gradient(90deg,#2f0000,#b00000 62px,#ed0000 84px,#ff0400 88px,#ff5000 99px,#ff5000 105px,#ffa800 106px,#ffff05 150px,#ffff63 187px,#ffff7e 215px,#ffff6b 242px,#ffff1d 275px,#fffb00 286px,#ff6400 360px,#ff1700 394px,#f20 408px,#ff7000 441px,#ffff05 512px,#ffff61 547px,#ffff7e 574px,#ffff6d 601px,#ffff24 634px,#fffb00 648px,#ffa700 689px,#ff5100 690px,#ff4e00 696px,#fb0000 708px,#c00 721px,#360000 790px,#2e0000 795px)"></i><i style="top:128px;height:1px;background:linear-gradient(90deg,#2f0000,#b00000 62px,#ed0000 84px,#ff0400 88px,#ff5000 99px,#ff5000 105px,#ffac00 106px,#ffff04 147px,#ffff69 185px,#ff8 213px,#ff7 240px,#ffff2e 272px,#fffc00 288px,#ff6500 361px,#ff1700 394px,#ff2300 408px,#ff7100 440px,#ffff03 509px,#ff6 545px,#ff8 573px,#ffff79 600px,#ffff30 633px,#fffb00 651px,#ffab00 689px,#ff5100 690px,#ff4e00 696px,#fb0000 708px,#c00 721px,#360000 790px,#2e0000 795px)"></i><i style="top:129px;height:1px;background:linear-gradient(90deg,#2f0000,#b00000 62px,#ed0000 84px,#ff0400 88px,#ff5000 99px,#ff5100 105px,#ffb000 106px,#ffff03 144px,#ffff6f 183px,#ffff91 211px,#ffff83 238px,#ffff3f 269px,#fffc00 290px,#ff6500 362px,#ff1700 394px,#ff2300 408px,#ff7100 439px,#ffff04 507px,#ffff6d 544px,#ffff91 571px,#ffff85 598px,#ffff45 629px,#fffc00 653px,#ffb000 689px,#ff5200 690px,#ff4e00 696px,#fb0000 708px,#c00 721px,#360000 790px,#2e0000 795px)"></i><i style="top:130px;height:1px;background:linear-gradient(90deg,#2f0000,#b00000 62px,#ed0000 84px,#ff0400 88px,#ff5000 99px,#ff5100 105px,#ffb500 106px,#ffff05 142px,#ffff76 182px,#ffff9b 210px,#ffff90 236px,#ffff50 266px,#fffa00 293px,#ff4100 377px,#ff1700 394px,#f20 407px,#ff7200 438px,#ffff05 505px,#ffff72 542px,#ffff9a 570px,#ffff92 596px,#ffff56 626px,#fffb00 656px,#ffb400 689px,#ff5200 690px,#ff4e00 696px,#fb0000 708px,#c00 721px,#360000 790px,#2e0000 795px)"></i><i style="top:131px;height:1px;background:linear-gradient(90deg,#2f0000,#b00000 62px,#ed0000 84px,#ff0400 88px,#ff5000 99px,#ff5100 105px,#ffb900 106px,#ffff04 139px,#ffff7c 180px,#ffffa4 208px,#ffff9c 234px,#ffff61 263px,#fffd00 294px,#ff4600 376px,#ff1700 394px,#f20 407px,#ff7300 437px,#ffff05 503px,#ffff79 541px,#ffffa3 568px,#ffff9e 594px,#ffff65 624px,#fffc00 658px,#ffb800 689px,#ff5200 690px,#ff4e00 696px,#fb0000 708px,#c00 721px,#360000 790px,#2e0000 795px)"></i><i style="top:132px;height:1px;background:linear-gradient(90deg,#2f0000,#b00000 62px,#ed0000 84px,#ff0400 88px,#ff5000 99px,#ff5100 105px,#ffbd00 106px,#ffff05 137px,#ffff83 179px,#ffffae 207px,#ffffa7 233px,#ffff6d 262px,#fffd00 296px,#ff4700 376px,#ff1800 394px,#ff2300 407px,#ff7300 436px,#ffff05 501px,#ffff80 540px,#ffffac 567px,#ffffa9 593px,#ffff74 622px,#fffb00 661px,#ffbd00 689px,#ff5200 690px,#ff4e00 696px,#fb0000 708px,#c00 721px,#360000 790px,#2e0000 795px)"></i><i style="top:133px;height:1px;background:linear-gradient(90deg,#2f0000,#b00000 62px,#ed0000 84px,#ff0400 88px,#ff5000 99px,#ff5100 105px,#ffc200 106px,#ffff03 134px,#ffff89 177px,#ffffb6 205px,#ffffb3 231px,#ffff7e 259px,#fffc00 298px,#ff4900 376px,#ff1800 394px,#ff2100 406px,#ff7600 436px,#ffff05 499px,#ffff87 539px,#ffffb5 566px,#ffffb4 592px,#ffff80 621px,#fffc00 663px,#ffc100 689px,#ff5200 690px,#ff4f00 696px,#fb0000 708px,#c00 721px,#360000 790px,#2e0000 795px)"></i><i style="top:134px;height:1px;background:linear-gradient(90deg,#2f0000,#b00000 62px,#ed0000 84px,#ff0400 88px,#ff5000 99px,#ff5100 105px,#ffc600 106px,#ffff04 132px,#ffff90 176px,#ffffc0 204px,#ffffbe 230px,#ffff89 258px,#fffc00 300px,#ff4b00 376px,#ff1800 394px,#f20 406px,#ff7600 435px,#ffff05 497px,#ffff8d 538px,#ffffbe 565px,#ffffbf 591px,#ffff8f 619px,#fffc00 665px,#ffc500 689px,#ff5200 690px,#ff4f00 696px,#fb0000 708px,#c00 721px,#360000 790px,#2e0000 795px)"></i><i style="top:135px;height:1px;background:linear-gradient(90deg,#2f0000,#b00000 62px,#ed0000 84px,#ff0400 88px,#ff5000 99px,#ff5200 105px,#ffca00 106px,#ffff05 130px,#ffff97 175px,#ffffc9 203px,#ffffca 228px,#ffff9a 255px,#ffff19 294px,#fff900 303px,#ff5000 375px,#ff1900 393px,#ff2000 405px,#ff7900 435px,#ffff04 495px,#ffff93 537px,#ffffc7 564px,#ffffcb 589px,#ffff9e 617px,#ffff1d 658px,#fffa00 668px,#ffca00 689px,#ff5300 690px,#ff4f00 696px,#fb0000 708px,#c00 721px,#360000 790px,#2e0000 795px)"></i><i style="top:136px;height:1px;background:linear-gradient(90deg,#2f0000,#b00000 62px,#ed0000 84px,#ff0400 88px,#ff5000 99px,#ff5200 105px,#ffcf00 106px,#ffff06 128px,#ffff9e 174px,#ffffd2 202px,#ffffd4 227px,#ffffa6 254px,#ffff2c 291px,#fffb00 304px,#ff5200 375px,#ff1a00 393px,#ff2000 405px,#ff7900 434px,#ffff03 493px,#ffff9a 536px,#ffffd0 563px,#ffffd6 588px,#ffffac 615px,#ffff37 653px,#fffb00 670px,#ffce00 689px,#ff5300 690px,#ff4f00 696px,#fb0000 708px,#c00 721px,#360000 790px,#2e0000 795px)"></i><i style="top:137px;height:1px;background:linear-gradient(90deg,#2f0000,#b00000 62px,#ed0000 84px,#ff0400 88px,#ff5000 99px,#ff5200 105px,#ffd300 106px,#ffff06 126px,#ffffa5 173px,#ffffdb 201px,#ffffdf 226px,#ffffb4 252px,#ffff42 287px,#fffd00 305px,#ff5400 375px,#ff1a00 393px,#ff1e00 404px,#ff7b00 434px,#ffff06 492px,#ffff9f 535px,#ffffd8 562px,#ffffe0 587px,#ffffb8 614px,#ffff46 651px,#fffb00 672px,#ffd200 689px,#ff5300 690px,#ff4f00 696px,#fb0000 708px,#c00 721px,#360000 790px,#2e0000 795px)"></i><i style="top:138px;height:1px;background:linear-gradient(90deg,#2f0000,#b00000 62px,#ed0000 84px,#ff0400 88px,#ff5100 99px,#ff5200 105px,#ffd700 106px,#ffff06 124px,#ffffab 172px,#ffffe3 200px,#ffffe9 225px,#ffffbf 251px,#ffff51 285px,#fffc00 307px,#ff5600 375px,#ff1a00 393px,#ff1f00 404px,#ff7c00 433px,#ffff04 490px,#ffffa5 534px,#ffffe0 561px,#ffffea 586px,#ffffc6 612px,#ffff5d 647px,#fffd00 673px,#ffd600 689px,#ff5300 690px,#ff4f00 696px,#fb0000 708px,#c00 721px,#360000 790px,#2e0000 795px)"></i><i style="top:139px;height:1px;background:linear-gradient(90deg,#2f0000,#b00000 62px,#ed0000 84px,#ff0400 88px,#ff5100 99px,#ff5300 105px,#ffdb00 106px,#ffff05 122px,#ffffb2 171px,#ffffec 199px,#fffff3 224px,#ffffca 250px,#ffff60 283px,#fffd00 308px,#ff5800 375px,#ff1a00 393px,#ff1f00 404px,#ff7b00 432px,#ffff03 488px,#ffffad 534px,#ffffe9 561px,#fffff4 586px,#ffffcf 612px,#ffff65 647px,#fffd00 675px,#ffda00 689px,#ff5400 690px,#ff4f00 696px,#fb0000 708px,#c00 721px,#360000 790px,#2e0000 795px)"></i><i style="top:140px;height:1px;background:linear-gradient(90deg,#2f0000,#b00000 62px,#ed0000 84px,#ff0400 88px,#ff5100 99px,#ff5300 105px,#ffdf00 106px,#ffff05 120px,#ffffb8 170px,#fffff4 198px,#fffffd 223px,#ffffd5 249px,#ffff6b 282px,#fffc00 310px,#ff5900 375px,#ff1b00 393px,#ff2000 404px,#ff7e00 432px,#ffff05 487px,#ffffb3 533px,#fffff1 560px,#fffffe 585px,#ffffdb 611px,#ffff74 645px,#fffc00 677px,#ffde00 689px,#ff5400 690px,#ff4f00 696px,#fb0000 708px,#c00 721px,#360000 790px,#2e0000 795px)"></i><i style="top:141px;height:1px;background:linear-gradient(90deg,#2f0000,#b00000 62px,#ed0000 84px,#ff0400 88px,#ff5100 99px,#ff5400 105px,#ffe300 106px,#ffff04 118px,#ffffbd 169px,#fffffc 197px,#fffff9 235px,#ffffb9 262px,#fffd00 311px,#ff5b00 375px,#ff1b00 393px,#ff1e00 403px,#ff8000 432px,#ffff06 486px,#ffb 533px,#fffffa 560px,#fffffa 599px,#ffffb6 628px,#fffb00 679px,#ffe200 689px,#f50 690px,#ff4f00 696px,#fb0000 708px,#c00 721px,#360000 790px,#2e0000 795px)"></i><i style="top:142px;height:1px;background:linear-gradient(90deg,#2f0000,#b00000 62px,#ed0000 84px,#ff0400 88px,#ff5100 99px,#ff5400 105px,#ffe700 106px,#ffff06 117px,#ffffc5 169px,#fff 194px,#fffff9 240px,#ffa 269px,#fffb00 313px,#ff5d00 375px,#ff1b00 393px,#ff1e00 403px,#ff8000 431px,#ffff04 484px,#ffffbf 532px,#fff 558px,#fffff8 605px,#ffffa7 635px,#fffd00 680px,#ffe600 689px,#f50 690px,#ff5000 696px,#fb0000 708px,#c00 721px,#360000 790px,#2e0000 795px)"></i><i style="top:143px;height:1px;background:linear-gradient(90deg,#2f0000,#b00000 62px,#ed0000 84px,#ff0400 88px,#ff5200 99px,#f50 105px,#ffeb00 106px,#ffff04 115px,#ffffca 168px,#fff 190px,#fffff9 244px,#ffff9f 274px,#fffb00 314px,#ff5f00 375px,#ff1b00 393px,#ff1e00 403px,#ff8200 431px,#ffff05 483px,#ffffc7 532px,#fff 555px,#fffff9 609px,#ffff9a 641px,#fffc00 682px,#ffea00 689px,#ff5600 690px,#ff5000 696px,#fb0000 708px,#c00 721px,#360000 790px,#2e0000 795px)"></i><i style="top:144px;height:1px;background:linear-gradient(90deg,#2f0000,#b00000 62px,#ed0000 84px,#ff0400 88px,#ff5200 99px,#f50 105px,#fe0 106px,#ffff06 114px,#ffffd2 168px,#fff 187px,#fffffa 247px,#ffff96 278px,#fffc00 315px,#ff6000 375px,#ff1c00 393px,#ff1f00 403px,#ff8100 430px,#ffff05 482px,#ffffca 531px,#fff 551px,#fffffa 612px,#ffff92 645px,#fffd00 683px,#ffed00 689px,#ff5600 690px,#ff5000 696px,#fb0000 708px,#c00 721px,#360000 790px,#2e0000 795px)"></i><i style="top:145px;height:1px;background:linear-gradient(90deg,#2f0000,#b00000 62px,#ed0000 84px,#ff0400 88px,#ff5200 99px,#ff5600 105px,#fff200 106px,#ffff07 113px,#ffffd6 167px,#fff 183px,#fffffa 250px,#ffff8c 282px,#fffc00 316px,#ff6200 375px,#ff1c00 393px,#ff1f00 403px,#ff8300 430px,#ffff06 481px,#ffffd1 531px,#fff 548px,#fffffb 615px,#ffff8a 649px,#fffb00 685px,#fff100 689px,#ff5700 690px,#ff5000 696px,#fb0000 708px,#c00 721px,#360000 790px,#2e0000 795px)"></i><i style="top:146px;height:2px;background:linear-gradient(90deg,#2f0000,#b00000 62px,#ed0000 84px,#ff0400 88px,#ff5300 99px,#ff5700 105px,#fff600 106px,#ffff0f 113px,#ffffe1 167px,#fff 180px,#fffff9 254px,#ffff7c 288px,#fffb00 318px,#ff6500 375px,#ff1c00 393px,#ff1f00 403px,#ff8300 429px,#ffff04 479px,#ffffd7 530px,#fff 545px,#fffffb 619px,#ffff78 656px,#fffd00 686px,#fff500 689px,#ff5800 690px,#ff5100 696px,#fb0000 708px,#c00 721px,#360000 790px,#2e0000 795px)"></i><i style="top:148px;height:2px;background:linear-gradient(90deg,#2f0000,#b00000 62px,#ed0000 84px,#ff0400 88px,#ff5300 99px,#ff5900 105px,#fffc00 106px,#fffff4 169px,#fff 179px,#fffff9 258px,#ffff63 296px,#fffd00 319px,#ff6800 375px,#ff1d00 393px,#ff1d00 402px,#ff8600 429px,#ffff03 477px,#ffffe3 530px,#fff 541px,#fffffc 623px,#ffff61 664px,#fffb00 689px,#ff5a00 690px,#ff5200 696px,#fb0000 708px,#c00 721px,#360000 790px,#2e0000 795px)"></i><i style="top:150px;height:2px;background:linear-gradient(90deg,#2f0000,#b00000 62px,#ed0000 84px,#ff0400 88px,#ff5900 100px,#ff5c00 105px,#ffff03 106px,#fffff5 166px,#fff 175px,#fffff9 261px,#ffff50 302px,#fffc00 321px,#ff6a00 375px,#ff1d00 393px,#ff1e00 402px,#ff8600 428px,#ffff05 476px,#ffffed 530px,#fff 538px,#fffffa 627px,#ffff37 676px,#ffff02 689px,#ff5d00 690px,#ff5300 696px,#fb0000 708px,#c00 721px,#360000 790px,#2e0000 795px)"></i><i style="top:152px;height:2px;background:linear-gradient(90deg,#2f0000,#b00000 62px,#ed0000 84px,#ff0500 88px,#ff5a00 100px,#ff5f00 105px,#ffff09 106px,#fffffa 165px,#fffffa 263px,#ffff3b 308px,#fffc00 322px,#ff6d00 375px,#ff1d00 393px,#ff1e00 402px,#ff8600 427px,#ffff02 474px,#fffff1 529px,#fff 536px,#fffffc 629px,#ffff08 689px,#ff6000 690px,#ff5400 696px,#fb0000 708px,#c00 721px,#360000 790px,#2e0000 795px)"></i><i style="top:154px;height:4px;background:linear-gradient(90deg,#2f0000,#b00000 62px,#ed0000 84px,#ff0500 88px,#ff5d00 100px,#ff6400 105px,#ffff0f 106px,#fffffc 163px,#fffffb 265px,#ffff0a 320px,#fff100 327px,#ff6c00 376px,#ff1e00 393px,#ff1c00 401px,#ff8600 426px,#ffff03 473px,#fffff9 529px,#fffffb 632px,#ffff0e 689px,#ff6500 690px,#ff5600 696px,#fb0000 708px,#c00 721px,#360000 790px,#2e0000 795px)"></i><i style="top:158px;height:3px;background:linear-gradient(90deg,#2f0000,#b00000 62px,#ed0000 84px,#ff0500 88px,#ff6700 101px,#ff6d00 105px,#ffff13 106px,#fffffd 162px,#fffffc 266px,#fffc00 324px,#ff6e00 376px,#ff1c00 394px,#ff1f00 402px,#ff8500 425px,#ffff06 473px,#fffffe 529px,#fffffc 633px,#ff1 689px,#ff6e00 690px,#ff5f00 695px,#ff0200 707px,#ce0000 720px,#360000 790px,#2e0000 795px)"></i><i style="top:161px;height:3px;background:linear-gradient(90deg,#2f0000,#b00000 62px,#ed0000 84px,#ff0500 88px,#ff7200 102px,#ff7600 105px,#ffff12 106px,#fff 163px,#fffffb 266px,#fffb00 324px,#ff6b00 377px,#ff1c00 394px,#ff2000 402px,#ff8200 424px,#ffff05 473px,#fffffc 529px,#fffffa 633px,#ffff10 689px,#f70 690px,#ff6400 695px,#ff0200 707px,#ce0000 720px,#360000 790px,#2e0000 795px)"></i><i style="top:164px;height:2px;background:linear-gradient(90deg,#2f0000,#b00000 62px,#ed0000 84px,#ff0500 88px,#ff7900 102px,#ff8000 105px,#ffff0e 106px,#fffffe 164px,#fffffa 265px,#fffc00 323px,#ff6c00 377px,#ff1c00 394px,#ff2000 402px,#ff7f00 423px,#ffff02 473px,#fffff8 529px,#fff 545px,#fffff9 632px,#ffff0d 689px,#ff8000 690px,#ff6800 695px,#ff0200 707px,#ce0000 720px,#360000 790px,#2e0000 795px)"></i><i style="top:166px;height:2px;background:linear-gradient(90deg,#2f0000,#b00000 62px,#ed0000 84px,#ff0500 88px,#ff8500 103px,#ff8900 105px,#ffff0a 106px,#fffffb 165px,#fffffb 263px,#ffff3b 308px,#fffc00 322px,#ff6700 378px,#ff1c00 394px,#ff2000 402px,#ff7b00 422px,#ffff02 474px,#fffff2 529px,#fff 536px,#fffff9 630px,#ffff08 689px,#ff8900 690px,#ff7600 694px,#ff0200 707px,#ce0000 720px,#360000 790px,#2e0000 795px)"></i><i style="top:168px;height:2px;background:linear-gradient(90deg,#2f0000,#b00000 62px,#ed0000 84px,#ff0500 88px,#ff6000 98px,#ff8e00 103px,#ff9200 105px,#ffff04 106px,#fffff2 165px,#fff 173px,#fffffa 261px,#ffff50 302px,#fffc00 321px,#ff6700 378px,#ff1c00 394px,#ff2000 402px,#ff7a00 422px,#ffff06 476px,#ffffed 530px,#fff 538px,#fffffb 627px,#ffff3c 675px,#ffff02 689px,#ff9300 690px,#ff7c00 694px,#ff0900 706px,#e70000 712px,#5a0000 771px,#2e0000 795px)"></i><i style="top:170px;height:2px;background:linear-gradient(90deg,#2f0000,#b00000 62px,#ed0000 84px,#ff0400 88px,#ff5800 97px,#ff9800 103px,#ff9d00 105px,#fffd00 106px,#fffff2 168px,#fff 177px,#fffffa 258px,#ffff64 296px,#fffe00 319px,#ff6200 379px,#ff1c00 394px,#ff2000 402px,#ff7500 421px,#ffff04 477px,#ffffe4 530px,#fff 540px,#fffffa 624px,#ffff56 667px,#fffc00 689px,#ff9d00 690px,#ff8200 694px,#ff1800 704px,#fb0000 708px,#c00 721px,#360000 790px,#2e0000 795px)"></i><i style="top:172px;height:2px;background:linear-gradient(90deg,#2f0000,#b00000 62px,#ed0000 84px,#ff0400 88px,#ff4e00 96px,#ffa300 103px,#fa0 105px,#fff700 106px,#ffff10 113px,#ffffe2 167px,#fff 179px,#fffffa 254px,#ffff7d 288px,#fffb00 318px,#ff6100 379px,#ff1a00 395px,#ff2300 403px,#ff7300 421px,#ffff05 479px,#ffffd9 530px,#fff 544px,#fffff9 620px,#ffff71 658px,#fffb00 687px,#fff600 689px,#ffa900 690px,#ff8a00 694px,#ff2a00 702px,#fa0000 708px,#c00 721px,#360000 790px,#2e0000 795px)"></i><i style="top:174px;height:1px;background:linear-gradient(90deg,#2f0000,#af0000 62px,#ec0000 84px,#ff0400 88px,#ff4f00 96px,#ffab00 103px,#ffb300 105px,#fff200 106px,#ffff09 113px,#ffffd8 167px,#fff 183px,#fffff9 251px,#ffff85 284px,#fffd00 316px,#ff5c00 380px,#ff1a00 395px,#ff2300 403px,#ff6f00 420px,#fffb00 478px,#ffffdc 534px,#fff 548px,#fffffa 616px,#ffff84 651px,#fffc00 685px,#fff100 689px,#ffb300 690px,#ff9d00 693px,#ff3400 701px,#ff0200 707px,#ce0000 720px,#360000 790px,#2e0000 795px)"></i><i style="top:175px;height:1px;background:linear-gradient(90deg,#2f0000,#af0000 62px,#ec0000 84px,#ff0400 88px,#ff5000 96px,#ffb100 103px,#ffba00 105px,#ffef00 106px,#ffff07 114px,#ffffd4 168px,#fff 186px,#fffff9 248px,#ffff93 279px,#fffd00 315px,#ff5b00 380px,#ff1a00 395px,#ff2300 403px,#ff6e00 420px,#fff800 478px,#ffff13 485px,#ffffcf 532px,#fff 551px,#fffffa 613px,#ffff90 646px,#fffb00 684px,#fe0 689px,#ffba00 690px,#ffa200 693px,#ff3400 701px,#ff0100 707px,#ce0000 720px,#360000 790px,#2e0000 795px)"></i><i style="top:176px;height:1px;background:linear-gradient(90deg,#2f0000,#af0000 62px,#ec0000 84px,#ff0400 88px,#f40 95px,#ffb800 103px,#ffc200 105px,#ffeb00 106px,#ffff05 115px,#ffc 168px,#fff 189px,#fffff9 245px,#ffff9c 275px,#fffc00 314px,#ff8000 366px,#ff5200 382px,#ff1900 395px,#ff2300 403px,#ff6d00 420px,#ffff06 483px,#ffffc8 532px,#fff 554px,#fffffb 609px,#ffff9b 641px,#fffc00 682px,#ffea00 689px,#ffc100 690px,#ffa700 693px,#ff4000 700px,#ff0100 707px,#ce0000 720px,#360000 790px,#2e0000 795px)"></i><i style="top:177px;height:1px;background:linear-gradient(90deg,#2f0000,#af0000 62px,#ec0000 84px,#ff0400 88px,#ff4500 95px,#ffbe00 103px,#ffc900 105px,#ffe800 106px,#ffff07 117px,#ffffc7 169px,#fff 193px,#fffff9 241px,#ffffa8 270px,#fffb00 313px,#ff8000 365px,#ff5100 382px,#ff1900 395px,#ff2300 403px,#ff6b00 420px,#ffef00 477px,#ffff05 484px,#ffffc1 532px,#fff 557px,#fffffa 605px,#ffffa9 635px,#fffb00 681px,#ffe700 689px,#ffc900 690px,#ffac00 693px,#ff4000 700px,#ff0100 707px,#ce0000 720px,#360000 790px,#2e0000 795px)"></i><i style="top:178px;height:1px;background:linear-gradient(90deg,#2f0000,#af0000 62px,#ec0000 84px,#ff0400 88px,#ff4600 95px,#ffc500 103px,#ffd100 105px,#ffe400 106px,#ffff05 118px,#ffffbf 169px,#fffffd 197px,#fffffa 236px,#ffffb4 264px,#fffb00 312px,#ff8000 364px,#ff5100 382px,#ff1900 395px,#ff2300 403px,#ff6a00 420px,#ffe900 476px,#ffff07 486px,#ffffbc 533px,#fffffc 560px,#fffffa 600px,#ffffb4 629px,#fffc00 679px,#ffe300 689px,#ffd000 690px,#ffb200 693px,#ff4100 700px,#ff0100 707px,#d00000 719px,#380000 789px,#2e0000 795px)"></i><i style="top:179px;height:1px;background:linear-gradient(90deg,#2f0000,#af0000 62px,#ec0000 84px,#ff0400 88px,#ff4600 95px,#fc0 103px,#ffe500 108px,#ffff06 120px,#ffffb9 170px,#fffff6 198px,#fffffe 224px,#ffffd5 250px,#ffff69 283px,#fffc00 310px,#ff8000 363px,#ff5000 382px,#ff1900 395px,#ff2300 403px,#ff6900 420px,#ffe500 476px,#ffff06 487px,#ffffb4 533px,#fffff3 560px,#fff 584px,#ffffe3 608px,#ff8 640px,#fffd00 677px,#ffd800 690px,#ffb800 693px,#ff4e00 699px,#ff0800 706px,#de0000 714px,#420000 783px,#2e0000 795px)"></i><i style="top:180px;height:1px;background:linear-gradient(90deg,#2f0000,#af0000 62px,#ec0000 84px,#ff0300 88px,#ff4700 95px,#ffd300 103px,#ffe100 105px,#ffe600 110px,#ffff07 122px,#ffffb3 171px,#ffe 199px,#fffff5 224px,#ffc 250px,#ffff62 283px,#fffb00 309px,#ff7e00 363px,#ff4f00 382px,#ff1900 395px,#ff2300 403px,#ff6500 419px,#ffe200 476px,#ffff04 488px,#ffffac 533px,#ffffea 560px,#fffff6 585px,#ffffd3 611px,#ffff6e 645px,#fffb00 676px,#ffdb00 689px,#ffda00 691px,#ff9700 695px,#ff4200 700px,#ff0100 707px,#d00000 719px,#370000 789px,#2e0000 795px)"></i><i style="top:181px;height:1px;background:linear-gradient(90deg,#2f0000,#af0000 62px,#eb0000 84px,#ff0300 88px,#ff4800 95px,#ffb800 101px,#ffe500 104px,#ffe900 105px,#ffd800 106px,#ffff04 123px,#ffffad 172px,#ffffe5 200px,#ffffeb 225px,#ffffc1 251px,#ffff53 285px,#fffc00 307px,#ff7f00 361px,#ff4e00 382px,#ff1900 395px,#f20 403px,#ff6300 419px,#ffde00 476px,#ffff06 490px,#ffffa7 534px,#ffffe2 561px,#ffffec 586px,#ffffc8 612px,#ffff5e 647px,#fffb00 674px,#ffd700 689px,#ffe900 690px,#ffc400 693px,#ff5000 699px,#ff0f00 705px,#f90000 708px,#cb0000 721px,#360000 790px,#2e0000 795px)"></i><i style="top:182px;height:1px;background:linear-gradient(90deg,#2f0000,#af0000 62px,#eb0000 84px,#ff0300 88px,#ff3b00 94px,#ff9200 99px,#ffe200 103px,#fff200 105px,#ffd400 106px,#ffff04 125px,#ffffa4 172px,#ffffdc 200px,#ffffe1 225px,#ffffb8 251px,#ffff48 286px,#fffb00 306px,#ff7d00 361px,#ff4e00 382px,#ff1900 395px,#f20 403px,#ff6200 419px,#ffd800 475px,#ffff03 491px,#ffffa1 535px,#ffffda 562px,#ffffe2 587px,#ffffba 614px,#ffff48 651px,#fffc00 672px,#ffd300 689px,#fff100 690px,#ffca00 693px,#ff5100 699px,#ff0f00 705px,#f90000 708px,#ca0000 721px,#360000 790px,#2e0000 795px)"></i><i style="top:183px;height:1px;background:linear-gradient(90deg,#2f0000,#ae0000 62px,#eb0000 84px,#ff0300 88px,#ff3b00 94px,#ff7f00 98px,#ffea00 103px,#fffb00 105px,#ffd000 106px,#ffff04 127px,#ffff9d 173px,#ffffd3 201px,#ffffd7 226px,#ffa 253px,#ffff35 289px,#fffc00 304px,#ff7c00 360px,#ff4d00 382px,#ff1700 396px,#ff2600 404px,#ff6000 419px,#ffd400 475px,#ffff05 493px,#ffff9b 536px,#ffffd2 563px,#ffffd8 588px,#ffffae 615px,#ffff38 653px,#fffc00 670px,#ffcf00 689px,#fffa00 690px,#ffd100 693px,#ff5200 699px,#ff0f00 705px,#f90000 708px,#ca0000 721px,#340000 791px,#2e0000 795px)"></i><i style="top:184px;height:1px;background:linear-gradient(90deg,#2f0000,#ae0000 62px,#eb0000 84px,#ff0a00 89px,#ff4a00 95px,#f90 99px,#fff200 103px,#ff0 104px,#ffff08 105px,#ffcb00 106px,#ffff03 129px,#ffff96 174px,#ffffca 202px,#ffc 227px,#ffff9f 254px,#ff2 292px,#fffd00 302px,#ff7c00 359px,#ff4c00 382px,#ff1700 396px,#ff2600 404px,#ff5e00 419px,#ffd000 475px,#ffff06 495px,#ffff95 537px,#ffffc9 564px,#ffffcd 589px,#ffffa2 616px,#ffff25 656px,#fffb00 668px,#ffca00 689px,#ffff06 690px,#ffeb00 692px,#ff5300 699px,#ff1700 704px,#f90000 708px,#ca0000 721px,#340000 791px,#2e0000 795px)"></i><i style="top:185px;height:1px;background:linear-gradient(90deg,#2f0000,#ae0000 62px,#eb0000 84px,#ff0a00 89px,#ff4a00 95px,#ff9c00 99px,#fffa00 103px,#ffff15 105px,#ffc700 106px,#ffff06 132px,#ffff92 176px,#ffffc2 204px,#ffffc0 230px,#ffff8b 258px,#fffb00 301px,#ff7900 359px,#ff4b00 382px,#ff1700 396px,#ff2600 404px,#ff5d00 419px,#ffcd00 475px,#ffff06 497px,#ffff8f 538px,#ffffc0 565px,#ffffc1 591px,#ffff91 619px,#fffb00 666px,#ffc600 689px,#ffff13 690px,#ffff06 691px,#ffde00 693px,#f60 698px,#ff2b00 702px,#f00 707px,#d10000 718px,#370000 789px,#2e0000 795px)"></i><i style="top:186px;height:1px;background:linear-gradient(90deg,#2f0000,#ae0000 62px,#ea0000 84px,#ff0900 89px,#ff4b00 95px,#ffa000 99px,#fe0 102px,#ffff05 103px,#ffff23 105px,#ffc300 106px,#ffff05 134px,#ffff8b 177px,#ffffb8 205px,#ffffb5 231px,#ffff80 259px,#fffb00 299px,#ff7900 358px,#ff4600 383px,#ff1700 396px,#ff2500 404px,#ff5b00 419px,#ffc600 474px,#ffff03 498px,#ffff86 538px,#ffffb7 566px,#ffffb6 592px,#ffff82 621px,#fffa00 664px,#ffc200 689px,#ffff21 690px,#fffb00 692px,#ff6800 698px,#ff2b00 702px,#fe0000 707px,#d10000 718px,#370000 789px,#2e0000 795px)"></i><i style="top:187px;height:1px;background:linear-gradient(90deg,#2f0000,#b00000 63px,#ea0000 84px,#ff0900 89px,#ff3c00 94px,#ff8a00 98px,#fff500 102px,#ffff27 104px,#ffff31 105px,#ffbe00 106px,#ffff04 136px,#ffff83 178px,#ffffaf 206px,#ffa 232px,#ffff74 260px,#fffb00 297px,#ff7600 358px,#ff4500 383px,#ff1700 396px,#ff2500 404px,#ff5900 419px,#ffc300 474px,#ffff03 500px,#ffff7f 539px,#ffffae 567px,#ffffab 593px,#ffff76 622px,#fffc00 661px,#ffbd00 689px,#ffff2f 690px,#ffff05 692px,#ff6900 698px,#ff2b00 702px,#fe0000 707px,#d10000 718px,#370000 789px,#2e0000 795px)"></i><i style="top:188px;height:1px;background:linear-gradient(90deg,#2f0000,#b00000 63px,#ea0000 84px,#ff0900 89px,#ff3d00 94px,#ff7400 97px,#fffc00 102px,#ffff35 104px,#ffff3f 105px,#ffba00 106px,#ffff06 139px,#ffff7e 180px,#ffffa6 208px,#ffff9e 234px,#ffff63 263px,#fffb00 295px,#ff7600 357px,#f40 383px,#ff1600 396px,#ff2500 404px,#ff5800 419px,#ffbf00 474px,#ffff03 502px,#ffff7b 541px,#ffffa5 568px,#ffffa0 594px,#ffff67 624px,#fffb00 659px,#ffb900 689px,#ffff3d 690px,#ffff2d 691px,#ff1 692px,#fff200 693px,#ff6b00 698px,#ff2b00 702px,#fe0000 707px,#d10000 718px,#370000 789px,#2e0000 795px)"></i><i style="top:189px;height:1px;background:linear-gradient(90deg,#2f0000,#b00000 63px,#e90000 84px,#ff0900 89px,#ff3d00 94px,#ff7600 97px,#ffff07 102px,#ffff43 104px,#ffff4e 105px,#ffb600 106px,#ffff04 141px,#ffff76 181px,#ffff9d 209px,#ffff93 235px,#ffff57 264px,#fffb00 293px,#ff7300 357px,#ff4300 383px,#ff1600 396px,#ff2500 404px,#ff5600 419px,#fb0 474px,#ffff06 505px,#ffff74 542px,#ffff9c 569px,#ffff95 595px,#ffff5b 625px,#fffa00 657px,#ffb500 689px,#ffff4b 690px,#ffff3a 691px,#fff900 693px,#ff6c00 698px,#ff2b00 702px,#fe0000 707px,#d00000 718px,#370000 789px,#2e0000 795px)"></i><i style="top:190px;height:1px;background:linear-gradient(90deg,#2f0000,#af0000 63px,#e90000 84px,#ff0800 89px,#ff3d00 94px,#f70 97px,#fe0 101px,#ffff12 102px,#ffff50 104px,#ffff5c 105px,#ffb100 106px,#ffff05 144px,#ffff71 183px,#ffff93 211px,#ffff85 238px,#ffff41 269px,#fffb00 291px,#ff7200 356px,#ff3f00 384px,#ff1600 396px,#ff2400 404px,#ff5400 419px,#ffb700 474px,#ffff05 507px,#ffff6f 544px,#ffff93 571px,#ffff87 598px,#ffff47 629px,#fffb00 654px,#ffb000 689px,#ffff59 690px,#ffff47 691px,#ffff01 693px,#ff6e00 698px,#ff2b00 702px,#fd0000 707px,#d00000 718px,#370000 789px,#2e0000 795px)"></i><i style="top:191px;height:1px;background:linear-gradient(90deg,#2f0000,#af0000 63px,#e90000 84px,#ff0800 89px,#ff3e00 94px,#ff7900 97px,#fff400 101px,#ffff43 103px,#ffff5e 104px,#ffff6a 105px,#ffad00 106px,#ffff06 147px,#ffff6b 185px,#ffff8a 213px,#ffff79 240px,#ffff32 271px,#fffb00 289px,#ff7000 356px,#ff3e00 384px,#ff1600 396px,#ff2800 405px,#ff5300 419px,#ffb400 474px,#ffff05 509px,#ffff68 545px,#ffff89 572px,#ffff7c 599px,#ffff38 631px,#fffc00 651px,#ffac00 689px,#ffff67 690px,#ff5 691px,#ffff0b 693px,#ffc600 695px,#ff6f00 698px,#ff2b00 702px,#fd0000 707px,#d00000 718px,#370000 789px,#2e0000 795px)"></i><i style="top:192px;height:1px;background:linear-gradient(90deg,#2f0000,#af0000 63px,#e90000 84px,#ff0800 89px,#ff3e00 94px,#ff7b00 97px,#fffa00 101px,#ffff4f 103px,#ffff6b 104px,#ffff78 105px,#ffa900 106px,#ffff04 149px,#ffff63 186px,#ffff80 214px,#ffff6e 241px,#ffff24 273px,#fffa00 287px,#ff6f00 355px,#ff3d00 384px,#ff1500 397px,#ff3000 407px,#f50 422px,#ffb400 476px,#ffff03 511px,#ffff61 546px,#ffff80 574px,#ffff6f 601px,#ffff26 634px,#fffb00 649px,#ffa800 689px,#ffff75 690px,#ffff62 691px,#ffff15 693px,#ffec00 694px,#ff7100 698px,#ff3800 701px,#ff0500 706px,#cb0000 720px,#360000 790px,#2e0000 795px)"></i><i style="top:193px;height:1px;background:linear-gradient(90deg,#2f0000,#af0000 63px,#e80000 84px,#ff0700 89px,#ff3e00 94px,#ff7d00 97px,#ffff01 101px,#ffff5b 103px,#ffff78 104px,#ffff86 105px,#ffa400 106px,#ffff04 152px,#ffff5d 188px,#ff7 216px,#ffff62 243px,#ffff13 276px,#fff900 285px,#ff6c00 355px,#ff3c00 384px,#ff1500 397px,#ff2f00 407px,#ff5300 422px,#ffb000 476px,#ffff05 514px,#ffff5d 549px,#ff7 576px,#ffff61 604px,#fffb00 646px,#ffa400 689px,#ffff82 690px,#ffff6e 691px,#ffff1f 693px,#fff200 694px,#ff7200 698px,#ff3800 701px,#ff0400 706px,#cd0000 719px,#360000 790px,#2e0000 795px)"></i><i style="top:194px;height:1px;background:linear-gradient(90deg,#2f0000,#af0000 63px,#e80000 84px,#ff0700 89px,#ff3e00 94px,#ff7e00 97px,#ffe100 100px,#ffff0a 101px,#ffff67 103px,#ffff85 104px,#ffff93 105px,#ff7300 106px,#ff7e00 235px,#ffa100 268px,#fd0 293px,#ffd900 505px,#ff9800 532px,#ff7a00 570px,#ff7300 689px,#ffff90 690px,#ffff7b 691px,#fff700 694px,#ff7400 698px,#ff3800 701px,#ff0400 706px,#c00 719px,#360000 790px,#2e0000 795px)"></i><i style="top:195px;height:1px;background:linear-gradient(90deg,#2f0000,#ae0000 63px,#e80000 84px,#ff0700 89px,#ff3e00 94px,#ff8000 97px,#ffe600 100px,#ffff12 101px,#ffff73 103px,#ffff92 104px,#ffffa0 105px,#ff8700 106px,#ff9300 235px,#ffb600 268px,#fd0 286px,#ffd900 512px,#ffa300 539px,#ff8b00 587px,#ff8700 689px,#ffff9d 690px,#ffff87 691px,#ffff32 693px,#fffc00 694px,#ff9200 697px,#ff4900 700px,#ff1400 704px,#fc0000 707px,#cf0000 718px,#370000 789px,#2e0000 795px)"></i><i style="top:196px;height:1px;background:linear-gradient(90deg,#2f0000,#ae0000 63px,#e70000 84px,#ff0600 89px,#ff3f00 94px,#ff8200 97px,#ffea00 100px,#ffff1a 101px,#ffff7e 103px,#ffff9e 104px,#ffffad 105px,#ff9a00 106px,#ffa600 234px,#ffc900 267px,#fd0 280px,#ffd900 520px,#ffad00 549px,#ff9b00 623px,#ff9a00 689px,#ffa 690px,#ffff93 691px,#ffff3c 693px,#ffff03 694px,#ff7600 698px,#ff3800 701px,#ff0300 706px,#ce0000 718px,#370000 789px,#2e0000 795px)"></i><i style="top:197px;height:1px;background:linear-gradient(90deg,#2f0000,#ae0000 63px,#e70000 84px,#ff0600 89px,#ff3f00 94px,#ff8300 97px,#fe0 100px,#ff2 101px,#ffff89 103px,#ffa 104px,#ffffba 105px,#ffac00 106px,#ffb800 234px,#ffdc00 267px,#ffd700 530px,#ffb600 565px,#ffac00 689px,#ffffb6 690px,#ffff9f 691px,#ffff45 693px,#ffff0b 694px,#ffb800 696px,#ff5e00 699px,#ff1e00 703px,#fb0000 707px,#ce0000 718px,#370000 789px,#2e0000 795px)"></i><i style="top:198px;height:1px;background:linear-gradient(90deg,#2f0000,#b00000 64px,#eb0000 85px,#ff0600 89px,#ff3f00 94px,#ff8500 97px,#fff200 100px,#ffff2a 101px,#ffff94 103px,#ffffb6 104px,#ffffc6 105px,#ffbc00 106px,#ffc700 233px,#fd0 268px,#ffd700 541px,#ffbf00 591px,#ffbc00 689px,#ffffc2 690px,#ffa 691px,#ffff82 692px,#ffff12 694px,#ffe200 695px,#ff7900 698px,#ff3800 701px,#ff0300 706px,#ce0000 718px,#370000 789px,#2e0000 795px)"></i><i style="top:199px;height:1px;background:linear-gradient(90deg,#2f0000,#b00000 64px,#eb0000 85px,#ff0500 89px,#ff3f00 94px,#ff8600 97px,#fff600 100px,#ffff9e 103px,#ffffc1 104px,#ffffd1 105px,#ffc600 106px,#ffd200 233px,#fd0 269px,#ffd700 553px,#ffc700 638px,#ffc600 689px,#ffffcd 690px,#ffffb5 691px,#ffff8b 692px,#ffff18 694px,#ffe600 695px,#ff7a00 698px,#ff3800 701px,#ff0200 706px,#d00000 717px,#390000 788px,#2e0000 795px)"></i><i style="top:200px;height:1px;background:linear-gradient(90deg,#2f0000,#af0000 64px,#eb0000 85px,#ff0500 89px,#ff3f00 94px,#ff8700 97px,#fffa00 100px,#ffffa7 103px,#ffffcb 104px,#ffffdc 105px,#fc0 106px,#ffd800 233px,#ffd700 563px,#fc0 689px,#ffffd8 690px,#ffffbf 691px,#ffff94 692px,#ffff1f 694px,#ffe900 695px,#ff7b00 698px,#ff3800 701px,#ff0200 706px,#d00000 717px,#390000 788px,#2e0000 795px)"></i><i style="top:201px;height:1px;background:linear-gradient(90deg,#2f0000,#af0000 64px,#ea0000 85px,#ff0400 89px,#ff3f00 94px,#f80 97px,#fffd00 100px,#ffff7c 102px,#ffffb0 103px,#ffffd5 104px,#ffffe6 105px,#fc0 106px,#ffd800 232px,#ffd700 564px,#fc0 689px,#ffffe2 690px,#ffffc8 691px,#ffff9d 692px,#ffff25 694px,#ffec00 695px,#ff7c00 698px,#ff3800 701px,#ff0100 706px,#cf0000 717px,#370000 789px,#2e0000 795px)"></i><i style="top:202px;height:1px;background:linear-gradient(90deg,#2f0000,#af0000 64px,#ea0000 85px,#ff0400 89px,#ff2f00 93px,#ff6c00 96px,#ffd500 99px,#ffff02 100px,#ffff83 102px,#ffffb8 103px,#ffffde 104px,#fffff0 105px,#ffc700 106px,#ffd200 232px,#fd0 269px,#ffd700 554px,#ffc600 643px,#ffc700 689px,#ffffeb 690px,#ffffd1 691px,#ffffa5 692px,#ffff2a 694px,#ffef00 695px,#ff7d00 698px,#ff3800 701px,#ff0100 706px,#d20000 716px,#3a0000 787px,#2e0000 795px)"></i><i style="top:203px;height:1px;background:linear-gradient(90deg,#2f0000,#ae0000 64px,#e90000 85px,#ff0400 89px,#ff2e00 93px,#ff6c00 96px,#ffd700 99px,#ffff07 100px,#ffff8a 102px,#ffffc0 103px,#ffffe6 104px,#fffff9 105px,#ffbc00 106px,#ffc700 232px,#fd0 267px,#ffd800 541px,#ffbf00 591px,#ffbc00 689px,#fffff4 690px,#ffffd9 691px,#ffffac 692px,#ffff2f 694px,#fff100 695px,#ff7e00 698px,#ff3800 701px,#ff0100 706px,#d10000 716px,#3a0000 787px,#2e0000 795px)"></i><i style="top:204px;height:1px;background:linear-gradient(90deg,#2f0000,#ae0000 64px,#e90000 85px,#ff0300 89px,#ff2e00 93px,#ff6c00 96px,#ffd900 99px,#ffff0b 100px,#ffff90 102px,#ffffc7 103px,#ffe 104px,#fff 105px,#ffab00 106px,#ffb900 233px,#ffda00 266px,#ffd800 530px,#ffb700 565px,#ffab00 689px,#fffffc 690px,#ffffe1 691px,#ffffb3 692px,#ffff34 694px,#fff400 695px,#ff7e00 698px,#ff3800 701px,#f00 706px,#d10000 716px,#3a0000 787px,#2e0000 795px)"></i><i style="top:205px;height:1px;background:linear-gradient(90deg,#2f0000,#ae0000 64px,#e80000 85px,#ff0300 89px,#ff2e00 93px,#ff6d00 96px,#ffdb00 99px,#ffff0e 100px,#ffff96 102px,#ffffcd 103px,#fffff5 104px,#fff 105px,#ff9500 106px,#ffa800 236px,#fc0 269px,#fd0 281px,#ffd800 520px,#ffae00 549px,#ff9700 638px,#ff9500 689px,#fff 690px,#ffffe7 691px,#ffffb9 692px,#ffff38 694px,#fff600 695px,#ff7f00 698px,#ff3800 701px,#f00 706px,#d10000 716px,#390000 788px,#2e0000 795px)"></i><i style="top:206px;height:1px;background:linear-gradient(90deg,#2f0000,#b00000 65px,#e80000 85px,#ff0200 89px,#ff2e00 93px,#ff6d00 96px,#ffdc00 99px,#ff1 100px,#ffff9a 102px,#ffffd3 103px,#fffffb 104px,#fff 105px,#ff7e00 106px,#ff9500 239px,#fb0 271px,#fd0 287px,#ffda00 511px,#ffa400 538px,#ff8900 590px,#ff7e00 689px,#fff 690px,#ffffed 691px,#ffffbe 692px,#fff800 695px,#ff7f00 698px,#ff3700 701px,#ff0700 705px,#e60000 710px,#a40000 735px,#2e0000 795px)"></i><i style="top:207px;height:1px;background:linear-gradient(90deg,#2f0000,#af0000 65px,#e80000 85px,#ff0200 89px,#ff2d00 93px,#ff6d00 96px,#fd0 99px,#ffff13 100px,#ffff9e 102px,#ffffd7 103px,#fff 104px,#fff 105px,#f60 106px,#ff8200 242px,#ffa900 273px,#fd0 294px,#ffd800 504px,#f90 530px,#ff7b00 569px,#f60 689px,#fff 690px,#fffff2 691px,#ffffc2 692px,#fff900 695px,#ff7f00 698px,#ff3700 701px,#ff0700 705px,#d90000 713px,#470000 780px,#2e0000 795px)"></i><i style="top:208px;height:1px;background:linear-gradient(90deg,#2f0000,#af0000 65px,#e70000 85px,#ff0100 89px,#ff2d00 93px,#ff6d00 96px,#ffde00 99px,#ffff15 100px,#ffffa2 102px,#ffffdb 103px,#fff 104px,#fff 105px,#ff4e00 106px,#ff6f00 244px,#ff9500 274px,#fd0 301px,#ffd900 497px,#ff8f00 524px,#ff6b00 558px,#ff4e00 689px,#fff 690px,#fffff6 691px,#ffffc6 692px,#fffa00 695px,#ff7f00 698px,#ff3700 701px,#ff0600 705px,#cd0000 717px,#370000 789px,#2e0000 795px)"></i><i style="top:209px;height:1px;background:linear-gradient(90deg,#2f0000,#af0000 65px,#e70000 85px,#ff0100 89px,#ff2c00 93px,#ff6d00 96px,#ffdf00 99px,#ffff17 100px,#ffffa4 102px,#ffffde 103px,#fff 104px,#fff 105px,#ff3900 106px,#ff5e00 245px,#ff8400 275px,#fd0 306px,#ffd900 491px,#ff8300 520px,#ff5d00 551px,#ff3900 689px,#fff 690px,#fffff9 691px,#ffffc9 692px,#fffb00 695px,#ff7f00 698px,#ff3600 701px,#ff0600 705px,#c00 717px,#370000 789px,#2e0000 795px)"></i><i style="top:210px;height:1px;background:linear-gradient(90deg,#2f0000,#ae0000 65px,#e60000 85px,#f00 89px,#ff2c00 93px,#ff6d00 96px,#ffdf00 99px,#ffff18 100px,#ffffa6 102px,#ffffe0 103px,#fff 104px,#fff 105px,#ff2500 106px,#ff4c00 242px,#ff7000 274px,#ffc100 302px,#fd0 312px,#ffd600 375px,#ffd800 413px,#ffd800 486px,#ff7600 518px,#ff4f00 548px,#ff2500 687px,#ff2500 689px,#fff 690px,#fffffc 691px,#ffffca 692px,#fffc00 695px,#ff7f00 698px,#ff3600 701px,#ff0500 705px,#c00 717px,#370000 789px,#2e0000 795px)"></i><i style="top:211px;height:1px;background:linear-gradient(90deg,#2f0000,#ae0000 65px,#e60000 85px,#f00 89px,#ff2c00 93px,#ff6c00 96px,#ffdf00 99px,#ffff18 100px,#ffffa7 102px,#ffffe1 103px,#fff 104px,#fff 105px,#ff1400 106px,#ff3a00 233px,#ff5a00 270px,#ffa000 297px,#fd0 316px,#ffd800 365px,#ffc800 379px,#ffcf00 396px,#ffcb00 412px,#ffd000 426px,#fd0 437px,#ffd900 481px,#ff6b00 516px,#ff4200 546px,#ff1400 685px,#ff1400 689px,#fff 690px,#fffffd 691px,#ffc 692px,#fffc00 695px,#ff7f00 698px,#ff3500 701px,#ff0500 705px,#ce0000 716px,#390000 788px,#2e0000 795px)"></i><i style="top:212px;height:1px;background:linear-gradient(90deg,#2f0000,#ae0000 65px,#e50000 85px,#fe0000 89px,#ff2b00 93px,#ff6c00 96px,#ffdf00 99px,#ffff18 100px,#ffffa7 102px,#ffffe2 103px,#fff 104px,#fff 105px,#ff0600 106px,#ff2000 193px,#f40 262px,#f70 288px,#fd0 321px,#ffd900 360px,#ffbc00 376px,#ffc600 405px,#ffbe00 422px,#fd0 439px,#ffd800 477px,#ff5f00 516px,#ff3700 546px,#ff0500 683px,#ff0600 689px,#fff 690px,#fffffd 691px,#ffc 692px,#fffc00 695px,#ff7f00 698px,#ff3500 701px,#ff0400 705px,#ce0000 716px,#380000 788px,#2e0000 795px)"></i><i style="top:213px;height:1px;background:linear-gradient(90deg,#2f0000,#af0000 66px,#e50000 85px,#ff0700 90px,#ff3c00 94px,#ff8c00 97px,#ffdf00 99px,#ffff17 100px,#ffffa6 102px,#ffffe1 103px,#fff 104px,#fff 105px,#f80000 106px,#ff0900 165px,#ff3c00 263px,#ff7000 289px,#fd0 324px,#ffd800 357px,#ffb300 376px,#ffbd00 405px,#ffb500 422px,#fd0 443px,#ffd700 474px,#f50 516px,#ff2f00 546px,#fa0000 664px,#f80000 689px,#fff 690px,#fffffc 691px,#ffffcb 692px,#fffb00 695px,#ff7e00 698px,#ff3400 701px,#ff0400 705px,#cd0000 716px,#380000 788px,#2e0000 795px)"></i><i style="top:214px;height:1px;background:linear-gradient(90deg,#2f0000,#af0000 66px,#e40000 85px,#ff0700 90px,#ff3b00 94px,#ff8b00 97px,#ffde00 99px,#ffff16 100px,#ffffa5 102px,#ffffdf 103px,#fff 104px,#fff 105px,#e00 106px,#ff0700 178px,#ff3600 264px,#ff6b00 290px,#ffdc00 326px,#ffd800 354px,#ffac00 375px,#ffb600 406px,#ffaf00 423px,#fd0 445px,#ffd600 471px,#ff4e00 516px,#ff2800 547px,#f80000 642px,#e00 689px,#fff 690px,#fffffb 691px,#ffffca 692px,#fffa00 695px,#ff7d00 698px,#ff3400 701px,#ff0300 705px,#cd0000 716px,#380000 788px,#2e0000 795px)"></i><i style="top:215px;height:1px;background:linear-gradient(90deg,#2f0000,#af0000 66px,#e40000 85px,#ff0600 90px,#ff3a00 94px,#ff8a00 97px,#fd0 99px,#ffff14 100px,#ffffa2 102px,#ffd 103px,#fff 104px,#fff 105px,#e50000 106px,#f70000 165px,#ff1500 217px,#ff3600 268px,#ff7100 294px,#ffd800 327px,#ffd800 352px,#ffa700 375px,#ffb100 406px,#ffab00 423px,#fd0 448px,#ffd700 468px,#ff4800 516px,#ff2300 547px,#f80000 628px,#e50000 687px,#e50000 689px,#fff 690px,#fffff8 691px,#ffffc7 692px,#fff900 695px,#ff7d00 698px,#f30 701px,#ff0300 705px,#cf0000 715px,#3a0000 787px,#2e0000 795px)"></i><i style="top:216px;height:1px;background:linear-gradient(90deg,#2f0000,#ae0000 66px,#e30000 85px,#ff0600 90px,#ff3a00 94px,#ff8900 97px,#ffdb00 99px,#ffff12 100px,#ffff9f 102px,#ffffd9 103px,#fff 104px,#fff 105px,#de0000 106px,#e00 161px,#ff0800 200px,#ff3100 267px,#ff6900 293px,#ffd600 328px,#ffdb00 348px,#ffa400 375px,#ffad00 406px,#ffa600 422px,#fd0 450px,#ffd500 467px,#f40 516px,#ff1f00 548px,#f80000 618px,#d00 680px,#de0000 689px,#fff 690px,#fffff5 691px,#ffffc4 692px,#fff700 695px,#ff7c00 698px,#ff3200 701px,#ff0200 705px,#ce0000 715px,#3a0000 787px,#2e0000 795px)"></i><i style="top:217px;height:2px;background:linear-gradient(90deg,#2f0000,#ae0000 66px,#e20000 85px,#ff0500 90px,#ff3800 94px,#ff8700 97px,#ffd900 99px,#ffff0d 100px,#ff9 102px,#ffffd3 103px,#fffffc 104px,#fff 105px,#d40000 106px,#e10000 156px,#ff0700 207px,#ff2f00 269px,#ff6a00 295px,#ffd200 328px,#ffdc00 344px,#ffa100 376px,#ffab00 405px,#ffa300 422px,#fd0 451px,#ffd100 467px,#ff4100 515px,#ff1c00 547px,#f80000 608px,#d30000 673px,#d40000 689px,#fff 690px,#ffffed 691px,#ffffbd 692px,#ffff38 694px,#fff500 695px,#ff7a00 698px,#ff3100 701px,#ff0100 705px,#d10000 714px,#3f0000 784px,#2e0000 795px)"></i><i style="top:219px;height:1px;background:linear-gradient(90deg,#2f0000,#af0000 67px,#e10000 85px,#ff0400 90px,#ff3700 94px,#ff8500 97px,#ffff07 100px,#ffff91 102px,#ffffca 103px,#fffff2 104px,#fff 105px,#cb0000 106px,#d50000 152px,#ff0600 211px,#ff2f00 271px,#ff6900 296px,#ffd100 329px,#ffda00 345px,#ff9f00 376px,#ffa900 406px,#ffa200 422px,#ffdb00 451px,#ffce00 467px,#ff4000 514px,#ff1a00 546px,#f80000 601px,#ca0000 667px,#cb0000 689px,#fff 690px,#ffffe4 691px,#ffffb5 692px,#ffff32 694px,#fff100 695px,#ff7800 698px,#ff3000 701px,#f00 705px,#d00000 714px,#3d0000 785px,#2e0000 795px)"></i><i style="top:220px;height:1px;background:linear-gradient(90deg,#2f0000,#af0000 67px,#e10000 85px,#ff0300 90px,#ff3600 94px,#ff8400 97px,#ffff03 100px,#ffff8b 102px,#ffffc3 103px,#ffffeb 104px,#fffffe 105px,#c60000 106px,#ce0000 150px,#ff0500 213px,#ff3000 272px,#ff6a00 297px,#ffd000 329px,#ffda00 345px,#ff9f00 376px,#ffa800 406px,#ffa100 422px,#ffdb00 451px,#ffcd00 467px,#ff4100 513px,#ff1b00 544px,#f80000 597px,#c40000 664px,#c60000 689px,#fffff9 690px,#ffd 691px,#ffffae 692px,#ffff2d 694px,#fe0 695px,#f70 698px,#ff2f00 701px,#f00 705px,#d00000 714px,#3d0000 785px,#2e0000 795px)"></i><i style="top:221px;height:1px;background:linear-gradient(90deg,#2f0000,#ae0000 67px,#e00000 85px,#ff0300 90px,#ff3500 94px,#ff8200 97px,#fffd00 100px,#ffff84 102px,#ffb 103px,#ffffe3 104px,#fffff5 105px,#c00000 106px,#c60000 148px,#ff0500 216px,#ff3000 273px,#ff6b00 298px,#ffcf00 329px,#ffda00 345px,#ff9f00 376px,#ffa700 406px,#ffa100 422px,#ffda00 450px,#ffce00 466px,#ff3f00 513px,#ff1900 545px,#f80000 594px,#bf0000 660px,#c10000 689px,#fffff1 690px,#ffffd5 691px,#ffffa7 692px,#ffff27 694px,#ffeb00 695px,#ff7500 698px,#ff2e00 701px,#fe0000 705px,#cf0000 714px,#3d0000 785px,#2e0000 795px)"></i><i style="top:222px;height:1px;background:linear-gradient(90deg,#2f0000,#ae0000 67px,#e00000 85px,#ff0200 90px,#ff3400 94px,#ff8000 97px,#fffa00 100px,#ffffb3 103px,#ffffda 104px,#ffffec 105px,#b00 106px,#bf0000 147px,#ff0400 217px,#ff3000 274px,#ff6d00 299px,#ffd000 330px,#ffd900 346px,#ff9f00 376px,#ffa600 407px,#ffa300 423px,#ffda00 450px,#ffcd00 466px,#ff4000 512px,#ff1a00 543px,#f80000 591px,#b90000 658px,#b00 689px,#ffffe7 690px,#ffc 691px,#ffff9f 692px,#ffff21 694px,#ffe800 695px,#ff7300 698px,#ff2d00 701px,#fd0000 705px,#ce0000 714px,#3d0000 785px,#2e0000 795px)"></i><i style="top:223px;height:1px;background:linear-gradient(90deg,#2f0000,#ad0000 67px,#df0000 85px,#ff0100 90px,#f30 94px,#ff7e00 97px,#fff600 100px,#ffff75 102px,#ffa 103px,#ffffd0 104px,#ffffe2 105px,#b50000 106px,#b70000 146px,#ff0400 219px,#ff3100 275px,#ff6f00 300px,#ffcf00 330px,#ffd900 346px,#ff9f00 376px,#ffa600 407px,#ffa300 423px,#ffda00 450px,#fc0 466px,#ff4100 511px,#ff1a00 542px,#f80000 588px,#b40000 655px,#b60000 689px,#ffd 690px,#ffffc3 691px,#ffff96 692px,#ffff1b 694px,#ffe400 695px,#ff7100 698px,#ff2c00 701px,#fd0000 705px,#ce0000 714px,#3d0000 785px,#2e0000 795px)"></i><i style="top:224px;height:1px;background:linear-gradient(90deg,#2f0000,#af0000 68px,#df0000 85px,#ff0100 90px,#ff3200 94px,#ff7c00 97px,#fff200 100px,#ffff2e 101px,#ffffa0 103px,#ffffc5 104px,#ffffd7 105px,#b00000 106px,#af0000 144px,#ff0500 221px,#ff3200 276px,#ff7000 301px,#ffcf00 330px,#ffd900 346px,#ff9e00 377px,#ffa600 407px,#ffa300 423px,#ffda00 450px,#fc0 466px,#ff4200 510px,#ff1b00 540px,#f80000 586px,#ae0000 652px,#b00000 689px,#ffffd2 690px,#ffffb8 691px,#ffff8d 692px,#ffff14 694px,#ffe000 695px,#ff6f00 698px,#ff2c00 701px,#fc0000 705px,#cd0000 714px,#3d0000 785px,#2e0000 795px)"></i><i style="top:225px;height:1px;background:linear-gradient(90deg,#2f0000,#af0000 68px,#de0000 85px,#f00 90px,#ff3100 94px,#ff7a00 97px,#ffed00 100px,#ffff26 101px,#ffff96 103px,#ffffba 104px,#ffffcb 105px,#a00 106px,#a60000 143px,#e10000 193px,#ff0600 224px,#ff3200 277px,#ff7200 302px,#ffd000 331px,#ffd900 346px,#ff9f00 377px,#ffa600 407px,#ffa300 423px,#ffda00 450px,#ffcb00 466px,#ff4100 510px,#ff1a00 541px,#f90000 583px,#a70000 650px,#a90000 687px,#a00 689px,#ffffc7 690px,#ffffad 691px,#ffff83 692px,#ffff0c 694px,#ffdc00 695px,#ff6d00 698px,#ff2a00 701px,#fc0000 705px,#cd0000 714px,#3d0000 785px,#2e0000 795px)"></i><i style="top:226px;height:1px;background:linear-gradient(90deg,#2f0000,#ae0000 68px,#d00 85px,#fe0000 90px,#ff3000 94px,#f70 97px,#ffe900 100px,#ffff1d 101px,#ffff8b 103px,#ffffae 104px,#ffffbf 105px,#a40000 106px,#9e0000 142px,#cf0000 184px,#ff0300 223px,#f30 278px,#ff7400 303px,#ffcf00 331px,#ffd900 346px,#ff9f00 377px,#ffa600 407px,#ffa300 423px,#ffd900 449px,#fc0 465px,#ff4200 509px,#ff1b00 539px,#f90000 581px,#a10000 648px,#a10000 684px,#a40000 689px,#ffffba 690px,#ffffa2 691px,#ffff78 692px,#ffff04 694px,#ff6b00 698px,#ff2900 701px,#fb0000 705px,#c00 714px,#3d0000 785px,#2e0000 795px)"></i><i style="top:227px;height:1px;background:linear-gradient(90deg,#2f0000,#ae0000 68px,#d00 85px,#fe0000 90px,#ff2f00 94px,#ff7500 97px,#ffe400 100px,#ffff14 101px,#ffff7f 103px,#ffffa1 104px,#ffffb2 105px,#9e0000 106px,#950000 141px,#c00000 178px,#ff0200 223px,#ff3400 279px,#ff7600 304px,#ffcf00 331px,#ffd900 346px,#ff9f00 377px,#ffa500 408px,#ffa400 423px,#ffd900 449px,#ffce00 464px,#ff4100 509px,#ff1900 540px,#f90000 579px,#900 647px,#900 681px,#9e0000 689px,#ffffae 690px,#ffff96 691px,#ffff6d 692px,#fffc00 694px,#f80 697px,#ff3a00 700px,#ff0400 704px,#c00 714px,#3d0000 785px,#2e0000 795px)"></i><i style="top:228px;height:1px;background:linear-gradient(90deg,#2f0000,#ad0000 68px,#dc0000 85px,#ff0700 91px,#ff4000 95px,#ff9300 98px,#ffde00 100px,#ffff0b 101px,#ffff73 103px,#ffff94 104px,#ffffa4 105px,#980000 106px,#8d0000 141px,#b60000 176px,#ff0100 224px,#ff3400 280px,#ff7400 304px,#ffd000 332px,#ffd800 347px,#ff9f00 377px,#ffa500 408px,#ffa400 423px,#ffda00 449px,#ffcd00 464px,#ff4200 508px,#ff1a00 538px,#f80000 578px,#920000 645px,#900000 678px,#980000 689px,#ffffa0 690px,#ffff89 691px,#ffff61 692px,#fff700 694px,#ff8500 697px,#ff3800 700px,#ff0300 704px,#cb0000 714px,#3d0000 785px,#2e0000 795px)"></i><i style="top:229px;height:1px;background:linear-gradient(90deg,#2f0000,#ad0000 68px,#dc0000 85px,#ff0600 91px,#ff3f00 95px,#ff8f00 98px,#ffff02 101px,#ff6 103px,#ffff87 104px,#ffff96 105px,#920000 106px,#840000 140px,#a80000 172px,#f00 224px,#ff3500 281px,#ff7600 305px,#ffcf00 332px,#ffd900 347px,#ff9f00 377px,#ffa500 408px,#ffa400 423px,#ffda00 449px,#fc0 464px,#ff4000 508px,#ff1900 539px,#f80000 576px,#8b0000 644px,#870000 675px,#920000 689px,#ffff92 690px,#ffff7c 691px,#ffff23 693px,#fff100 694px,#ff8200 697px,#ff3700 700px,#ff0300 704px,#ce0000 713px,#410000 782px,#2e0000 795px)"></i><i style="top:230px;height:1px;background:linear-gradient(90deg,#2f0000,#af0000 69px,#db0000 85px,#ff0600 91px,#ff3d00 95px,#ff8c00 98px,#fff900 101px,#ffff5a 103px,#ffff79 104px,#ffff87 105px,#8c0000 106px,#7b0000 139px,#9b0000 169px,#fc0000 223px,#ff3400 281px,#ff7500 305px,#ffcf00 332px,#ffd900 347px,#ff9f00 377px,#ffa400 409px,#ffa600 424px,#ffd900 448px,#ffce00 463px,#ff4100 507px,#ff1a00 537px,#f90000 574px,#830000 643px,#7e0000 673px,#8c0000 689px,#ffff84 690px,#ffff6e 691px,#ffff18 693px,#ffea00 694px,#ff7f00 697px,#ff3600 700px,#ff0200 704px,#cd0000 713px,#410000 782px,#2e0000 795px)"></i><i style="top:231px;height:1px;background:linear-gradient(90deg,#2f0000,#ae0000 69px,#da0000 85px,#ff0500 91px,#ff3c00 95px,#f80 98px,#fff300 101px,#ffff21 102px,#ffff4c 103px,#ffff6b 104px,#ffff79 105px,#850000 106px,#720000 139px,#910000 168px,#fa0000 223px,#f30 281px,#ff7300 305px,#ffd000 333px,#ffd800 348px,#ff9f00 377px,#ffa400 409px,#ffa600 424px,#ffd900 448px,#ffcd00 463px,#ff4000 507px,#ff1900 538px,#f90000 573px,#7b0000 642px,#750000 671px,#860000 689px,#ffff75 690px,#ffff60 691px,#ffff0d 693px,#ffe400 694px,#ff6000 698px,#ff2400 701px,#ff0100 704px,#cd0000 713px,#410000 782px,#2e0000 795px)"></i><i style="top:232px;height:1px;background:linear-gradient(90deg,#2f0000,#ae0000 69px,#da0000 85px,#ff0400 91px,#ff3a00 95px,#ff8500 98px,#ffec00 101px,#ffff15 102px,#ffff3f 103px,#ffff5c 104px,#ffff69 105px,#7f0000 106px,#6a0000 138px,#840000 165px,#f90000 223px,#ff3200 281px,#ff7100 305px,#ffcf00 333px,#ffd800 348px,#ff9f00 377px,#ffa300 410px,#ffa700 424px,#ffd900 448px,#fc0 463px,#ff4100 506px,#ff1a00 536px,#f80000 572px,#730000 641px,#6c0000 669px,#800000 689px,#ff6 690px,#ffff52 691px,#ffff02 693px,#ff7900 697px,#f30 700px,#f00 704px,#d00000 712px,#4d0000 775px,#2e0000 795px)"></i><i style="top:233px;height:1px;background:linear-gradient(90deg,#2f0000,#ad0000 69px,#d90000 85px,#ff0300 91px,#ff3800 95px,#ff8100 98px,#ffe500 101px,#ffff09 102px,#ffff31 103px,#ffff4d 104px,#ffff5a 105px,#790000 106px,#610000 138px,#7a0000 164px,#f60000 222px,#ff0c00 241px,#ff3700 284px,#ff7b00 308px,#ffcf00 333px,#ffd800 348px,#ffa000 377px,#ffa300 410px,#ffa700 424px,#ffd900 448px,#fc0 463px,#ff4200 505px,#ff1b00 534px,#f80000 571px,#a20000 612px,#680000 643px,#650000 670px,#7a0000 689px,#ffff57 690px,#ff4 691px,#fff900 693px,#ff7500 697px,#ff3100 700px,#f00 704px,#cf0000 712px,#4d0000 775px,#2e0000 795px)"></i><i style="top:234px;height:1px;background:linear-gradient(90deg,#2f0000,#af0000 70px,#d90000 85px,#ff0200 91px,#ff3700 95px,#ff7d00 98px,#fffd00 102px,#ffff3e 104px,#ffff4a 105px,#730000 106px,#580000 137px,#6e0000 162px,#f40000 222px,#ff0a00 239px,#ff3800 285px,#ff7d00 309px,#ffd000 334px,#ffd700 349px,#ffa000 377px,#ffa200 411px,#ffa900 425px,#ffd900 448px,#ffcb00 463px,#ff4100 505px,#ff1a00 535px,#f80000 570px,#a60000 608px,#630000 640px,#5b0000 666px,#730000 689px,#ffff47 690px,#ffff35 691px,#ffff15 692px,#fff100 693px,#ff5800 698px,#ff2000 701px,#fe0000 704px,#ce0000 712px,#4d0000 775px,#2e0000 795px)"></i><i style="top:235px;height:1px;background:linear-gradient(90deg,#2f0000,#ae0000 70px,#d80000 85px,#ff0200 91px,#ff3500 95px,#ff7900 98px,#fff400 102px,#ffff2f 104px,#ffff3a 105px,#6d0000 106px,#500000 137px,#600 162px,#f20000 222px,#ff0900 239px,#ff3700 285px,#ff7b00 309px,#ffcf00 334px,#ffd800 349px,#ffa000 377px,#ffa200 411px,#fa0 425px,#ffd900 447px,#fc0 462px,#ff4200 504px,#ff1b00 533px,#f80000 569px,#ac0000 604px,#5d0000 638px,#510000 663px,#6d0000 689px,#ffff38 690px,#ffff26 691px,#ffff07 692px,#ffca00 694px,#f50 698px,#ff1200 702px,#fd0000 704px,#ce0000 712px,#4d0000 775px,#2e0000 795px)"></i><i style="top:236px;height:1px;background:linear-gradient(90deg,#2f0000,#ae0000 70px,#d70000 85px,#ff0100 91px,#f30 95px,#ff7600 98px,#ffec00 102px,#ffff07 103px,#ffff20 104px,#ffff2a 105px,#670000 106px,#480000 136px,#5b0000 160px,#f10000 222px,#ff0800 239px,#ff3700 286px,#ff7d00 310px,#ffcf00 334px,#ffd800 349px,#ffa000 377px,#ffa600 423px,#ffd900 447px,#fc0 462px,#ff4100 504px,#ff1a00 534px,#f80000 568px,#ac0000 602px,#570000 637px,#490000 661px,#670000 689px,#ffff28 690px,#fffb00 692px,#ff5300 698px,#f10 702px,#f40000 705px,#c70000 714px,#3b0000 786px,#2e0000 795px)"></i><i style="top:237px;height:1px;background:linear-gradient(90deg,#2f0000,#ad0000 70px,#d70000 85px,#f00 91px,#ff3200 95px,#ff7200 98px,#fffa00 103px,#ffff1b 105px,#610000 106px,#400 132px,#4d0000 156px,#950000 186px,#ef0000 222px,#ff0700 238px,#ff3600 286px,#ff7800 309px,#ffce00 334px,#ffd800 349px,#ffa000 377px,#ffa600 423px,#ffd900 447px,#ffcb00 462px,#ff4200 503px,#ff1b00 532px,#f80000 567px,#b10000 599px,#530000 635px,#400 654px,#4f0000 677px,#620000 689px,#ffff18 690px,#ffff08 691px,#ffd900 693px,#ff5000 698px,#ff1000 702px,#f30000 705px,#c60000 714px,#3b0000 786px,#2e0000 795px)"></i><i style="top:238px;height:1px;background:linear-gradient(90deg,#2f0000,#ad0000 70px,#d60000 85px,#fe0000 91px,#ff3000 95px,#ff8900 99px,#fff100 103px,#ffff01 104px,#ffff0b 105px,#5b0000 106px,#400 126px,#4b0000 159px,#a80000 194px,#f50000 226px,#ff0b00 243px,#ff3700 287px,#ff7a00 310px,#ffd000 335px,#ffd800 349px,#ffa000 378px,#ffa100 396px,#ffa700 423px,#ffd900 447px,#ffca00 462px,#ff4300 502px,#ff1c00 530px,#f90000 566px,#b30000 597px,#4c0000 635px,#400 656px,#4c0000 679px,#5c0000 689px,#ffff08 690px,#fffb00 691px,#ffb600 694px,#ff4e00 698px,#ff0f00 702px,#f20000 705px,#c50000 714px,#3b0000 786px,#2e0000 795px)"></i><i style="top:239px;height:1px;background:linear-gradient(90deg,#2f0000,#ae0000 71px,#da0000 86px,#fd0000 91px,#ff2e00 95px,#ff8400 99px,#ffe700 103px,#fffc00 105px,#560000 106px,#400 122px,#4a0000 162px,#e90000 220px,#ff0600 238px,#ff3800 288px,#ff7c00 311px,#ffcf00 335px,#ffd800 349px,#ffa000 378px,#ffa100 396px,#ffa700 423px,#ffd900 447px,#ffc900 462px,#ff4200 502px,#ff1b00 531px,#fa0000 565px,#b60000 595px,#470000 634px,#490000 681px,#570000 689px,#fffa00 690px,#ffe000 692px,#ff4b00 698px,#ff0e00 702px,#f20000 705px,#c50000 714px,#3a0000 786px,#2e0000 795px)"></i><i style="top:240px;height:1px;background:linear-gradient(90deg,#2f0000,#ae0000 71px,#da0000 86px,#ff0700 92px,#ff3d00 96px,#ffde00 103px,#fff100 105px,#510000 106px,#400 119px,#490000 164px,#e80000 220px,#ff0500 238px,#ff3700 288px,#ff7a00 311px,#ffce00 335px,#ffd800 349px,#ffa000 378px,#ffa100 396px,#ffa700 423px,#ffd900 447px,#ffcb00 461px,#ff4300 501px,#ff1c00 529px,#f90000 565px,#b30000 595px,#400 633px,#4a0000 685px,#520000 689px,#fff000 690px,#ffd700 692px,#ff4800 698px,#ff0d00 702px,#f10000 705px,#c40000 714px,#3a0000 786px,#2e0000 795px)"></i><i style="top:241px;height:1px;background:linear-gradient(90deg,#2f0000,#ad0000 71px,#d90000 86px,#ff0600 92px,#ff3b00 96px,#ffd500 103px,#ffe700 105px,#4d0000 106px,#400 120px,#490000 166px,#e50000 219px,#ff0500 238px,#ff3800 289px,#ff7c00 312px,#ffd000 336px,#ffd800 350px,#ffa000 378px,#ffa100 396px,#ffa700 423px,#ffd900 446px,#ffcd00 460px,#ff4200 501px,#ff1c00 529px,#f80000 565px,#b10000 595px,#400 631px,#4a0000 687px,#4e0000 689px,#ffe600 690px,#ffce00 692px,#ff4600 698px,#ff0200 703px,#ca0000 712px,#4a0000 776px,#2e0000 795px)"></i><i style="top:242px;height:1px;background:linear-gradient(90deg,#2f0000,#ad0000 71px,#d80000 86px,#ff0500 92px,#ff4b00 97px,#fc0 103px,#ffdc00 105px,#4c0000 106px,#400 124px,#4a0000 167px,#e40000 219px,#ff0400 238px,#ff3700 289px,#f70 311px,#ffcf00 336px,#ffd800 350px,#ffa000 378px,#ffa000 396px,#ffa800 423px,#ffd900 446px,#fc0 460px,#ff4300 500px,#ff1c00 528px,#f90000 564px,#b60000 593px,#400 630px,#490000 687px,#4d0000 689px,#ffdb00 690px,#ffc500 692px,#ff3200 699px,#ff0100 703px,#c90000 712px,#4a0000 776px,#2e0000 795px)"></i><i style="top:243px;height:1px;background:linear-gradient(90deg,#2f0000,#ac0000 71px,#d80000 86px,#ff0400 92px,#ff4800 97px,#ffc300 103px,#ffd200 105px,#4c0000 106px,#400 125px,#480000 167px,#e40000 219px,#ff0500 239px,#ff3800 290px,#ff7900 312px,#ffce00 336px,#ffd800 350px,#ffa100 378px,#ffa000 396px,#ffa800 423px,#ffd900 446px,#ffcb00 460px,#ff4100 500px,#ff1c00 528px,#f90000 564px,#b50000 593px,#400 630px,#4a0000 688px,#4c0000 689px,#ffd100 690px,#fa0 693px,#ff3000 699px,#ff0100 703px,#c90000 712px,#4a0000 776px,#2e0000 795px)"></i><i style="top:244px;height:1px;background:linear-gradient(90deg,#2f0000,#ae0000 72px,#d70000 86px,#ff0300 92px,#ff4500 97px,#ffba00 103px,#ffc800 105px,#4b0000 106px,#400 129px,#4a0000 168px,#e10000 218px,#ff0400 238px,#ff3700 290px,#f70 312px,#ffd000 337px,#ffd700 351px,#ffa100 378px,#ffa000 396px,#ffa800 423px,#ffd900 446px,#ffca00 460px,#ff4300 499px,#ff1d00 526px,#f90000 564px,#b50000 593px,#400 630px,#4a0000 688px,#4c0000 689px,#ffc800 690px,#ffa300 693px,#ff2e00 699px,#f00 703px,#c00 711px,#6f0000 755px,#2e0000 795px)"></i><i style="top:245px;height:1px;background:linear-gradient(90deg,#2f0000,#ad0000 72px,#d60000 86px,#ff0300 92px,#ff4300 97px,#ffb100 103px,#ffbf00 105px,#4b0000 106px,#400 129px,#4a0000 168px,#e10000 218px,#ff0400 238px,#ff3700 291px,#ff7900 313px,#ffcf00 337px,#ffd700 351px,#ffa100 378px,#ff9f00 396px,#ffa900 423px,#ffd900 446px,#ffc900 460px,#f40 498px,#ff1e00 525px,#f90000 564px,#b50000 593px,#400 630px,#4a0000 688px,#4c0000 689px,#ffbe00 690px,#ff9c00 693px,#ff2d00 699px,#fe0000 703px,#cb0000 711px,#6f0000 755px,#2e0000 795px)"></i><i style="top:246px;height:1px;background:linear-gradient(90deg,#2f0000,#ac0000 72px,#d60000 86px,#ff0200 92px,#ff4000 97px,#ffa900 103px,#ffb500 105px,#4c0000 106px,#400 125px,#480000 167px,#e40000 219px,#ff0500 239px,#ff3600 291px,#f70 313px,#ffce00 337px,#ffd800 351px,#ffa100 378px,#ff9f00 396px,#ffa900 423px,#ffd900 445px,#ffcb00 459px,#ff4200 498px,#ff1d00 525px,#f90000 564px,#b50000 593px,#400 630px,#4a0000 688px,#4c0000 689px,#ffb500 690px,#ff9400 693px,#ff2b00 699px,#fd0000 703px,#cb0000 711px,#6e0000 755px,#2e0000 795px)"></i><i style="top:247px;height:1px;background:linear-gradient(90deg,#2f0000,#ac0000 72px,#d50000 86px,#ff0100 92px,#ff3d00 97px,#ffa100 103px,#ffac00 105px,#4c0000 106px,#400 124px,#4a0000 167px,#e40000 219px,#ff0600 239px,#ff3500 291px,#ff7200 312px,#ffce00 337px,#ffd800 351px,#ffa100 378px,#ff9f00 396px,#ffa900 423px,#ffd900 445px,#ffca00 459px,#f40 497px,#ff1f00 523px,#f90000 564px,#b60000 593px,#400 630px,#490000 687px,#4d0000 689px,#ffac00 690px,#ff8e00 693px,#ff1c00 700px,#fc0000 703px,#c60000 712px,#4a0000 776px,#2e0000 795px)"></i><i style="top:248px;height:1px;background:linear-gradient(90deg,#2f0000,#ad0000 73px,#d40000 86px,#f00 92px,#ff4a00 98px,#f90 103px,#ffa300 105px,#4d0000 106px,#400 120px,#4a0000 166px,#e50000 219px,#ff0500 238px,#ff3600 292px,#ff7400 313px,#ffcf00 338px,#ffd700 352px,#ffa100 378px,#ff9e00 396px,#ffa900 423px,#ffd900 445px,#ffc900 459px,#ff4500 496px,#ff2000 521px,#f80000 565px,#b20000 595px,#400 631px,#4a0000 687px,#4e0000 689px,#ffa300 690px,#ff8700 693px,#ff1b00 700px,#fb0000 703px,#c60000 712px,#490000 776px,#2e0000 795px)"></i><i style="top:249px;height:1px;background:linear-gradient(90deg,#2f0000,#ad0000 73px,#d40000 86px,#fe0000 92px,#ff4700 98px,#ff9100 103px,#ff9a00 105px,#4e0000 106px,#400 120px,#480000 164px,#e60000 219px,#ff0500 238px,#ff3500 292px,#ff7200 313px,#ffcf00 338px,#ffd800 351px,#ffa100 379px,#ffa100 401px,#ffa800 422px,#ffd900 445px,#ffc800 459px,#ff4300 496px,#ff1f00 522px,#f90000 565px,#b30000 595px,#400 633px,#4a0000 686px,#4f0000 689px,#ff9a00 690px,#ff8000 693px,#ff1900 700px,#fa0000 703px,#c50000 712px,#490000 776px,#2e0000 795px)"></i><i style="top:250px;height:1px;background:linear-gradient(90deg,#2f0000,#ac0000 73px,#d30000 86px,#fd0000 92px,#f40 98px,#ff8a00 103px,#ff9200 105px,#500000 106px,#400 119px,#4a0000 163px,#e70000 219px,#ff0500 238px,#ff3400 292px,#ff7000 313px,#ffce00 338px,#ffd800 351px,#ffa100 379px,#ffa000 400px,#ffa800 422px,#ffd900 445px,#ffc800 459px,#f40 495px,#ff2000 520px,#f90000 565px,#b60000 595px,#450000 634px,#4a0000 685px,#510000 689px,#ff9200 690px,#ff7a00 693px,#ff0d00 701px,#f10000 704px,#c10000 713px,#3d0000 784px,#2e0000 795px)"></i><i style="top:251px;height:1px;background:linear-gradient(90deg,#2f0000,#ac0000 73px,#d20000 86px,#ff0600 93px,#ff8200 103px,#ff8a00 105px,#520000 106px,#400 121px,#4b0000 161px,#ea0000 220px,#ff0600 238px,#ff3500 293px,#ff7200 314px,#ffcf00 339px,#ffd800 352px,#ffa100 379px,#ff9f00 400px,#ffa800 422px,#ffd900 444px,#fc0 457px,#ff4300 495px,#ff2000 520px,#f90000 566px,#b20000 597px,#480000 635px,#4a0000 684px,#530000 689px,#ff8a00 690px,#ff7400 693px,#ff0c00 701px,#f00000 704px,#c00000 713px,#3d0000 784px,#2e0000 795px)"></i><i style="top:252px;height:1px;background:linear-gradient(90deg,#2f0000,#ab0000 73px,#d20000 86px,#ff0500 93px,#ff7b00 103px,#ff8200 105px,#540000 106px,#400 123px,#4a0000 158px,#b40000 197px,#f90000 228px,#ff3200 292px,#ff6c00 313px,#ffcf00 339px,#ffd800 352px,#ffa100 379px,#ff9f00 400px,#ffa800 422px,#ffd900 444px,#ffcb00 457px,#f40 494px,#ff2000 519px,#fa0000 566px,#b50000 597px,#4b0000 636px,#400 667px,#4c0000 684px,#540000 689px,#ff8200 690px,#ff6e00 693px,#ff0200 702px,#c70000 711px,#6d0000 755px,#2e0000 795px)"></i><i style="top:253px;height:1px;background:linear-gradient(90deg,#2f0000,#ad0000 74px,#d10000 86px,#ff0400 93px,#ff7500 103px,#ff7b00 105px,#560000 106px,#400 125px,#4b0000 155px,#9a0000 187px,#f00000 222px,#ff0700 238px,#f30 293px,#ff6b00 313px,#ffce00 339px,#ffd800 352px,#ffa000 379px,#ff9e00 400px,#ffa900 422px,#ffd900 444px,#ffca00 457px,#ff4300 494px,#ff2000 519px,#f90000 567px,#b30000 599px,#4f0000 637px,#400 654px,#4c0000 682px,#570000 689px,#ff7b00 690px,#ff5d00 694px,#ff0100 702px,#c60000 711px,#6b0000 756px,#2e0000 795px)"></i><i style="top:254px;height:2px;background:linear-gradient(90deg,#2f0000,#ac0000 74px,#d00000 86px,#ff0300 93px,#ff6b00 103px,#ff7000 105px,#5a0000 106px,#450000 132px,#540000 155px,#b20000 193px,#f90000 226px,#ff3100 293px,#ff6800 313px,#ffcf00 340px,#ffd700 353px,#ffa000 379px,#ff9d00 400px,#ffa900 422px,#ffd900 444px,#ffc900 457px,#ff4300 493px,#ff2100 517px,#f90000 568px,#b30000 601px,#500 639px,#450000 662px,#5a0000 689px,#ff7000 690px,#ff5600 694px,#fe0000 702px,#c50000 711px,#6a0000 756px,#2e0000 795px)"></i><i style="top:256px;height:2px;background:linear-gradient(90deg,#2f0000,#ab0000 74px,#cf0000 86px,#ff0100 93px,#ff5f00 103px,#ff6300 105px,#5f0000 106px,#4e0000 135px,#6e0000 162px,#f10000 219px,#ff0800 237px,#ff3100 294px,#ff6800 314px,#ffce00 340px,#ffd800 353px,#ffa000 380px,#ff9c00 400px,#ffa900 422px,#ffd900 443px,#ffca00 456px,#ff4300 492px,#ff2100 516px,#f90000 570px,#af0000 606px,#5c0000 643px,#4e0000 669px,#5f0000 689px,#ff6300 690px,#ff4d00 694px,#fc0000 702px,#c40000 711px,#6a0000 756px,#2e0000 795px)"></i><i style="top:258px;height:2px;background:linear-gradient(90deg,#2f0000,#ab0000 75px,#d30000 87px,#fe0000 93px,#f50 103px,#ff5700 105px,#640000 106px,#590000 135px,#7f0000 164px,#f30000 218px,#ff0a00 237px,#ff3100 295px,#ff6800 315px,#ffce00 341px,#ffd700 354px,#ff9f00 380px,#ff9a00 400px,#fa0 422px,#ffd900 443px,#ffc800 456px,#ff4600 490px,#f20 513px,#fa0000 572px,#ad0000 611px,#640000 647px,#590000 675px,#640000 689px,#ff5700 690px,#ff4500 694px,#fb0000 702px,#c20000 711px,#690000 756px,#2e0000 795px)"></i><i style="top:260px;height:2px;background:linear-gradient(90deg,#2f0000,#a00 75px,#d10000 87px,#ff0600 94px,#ff4b00 103px,#ff4c00 105px,#690000 106px,#640000 135px,#930000 167px,#f60000 217px,#ff0e00 240px,#ff2f00 295px,#ff6100 314px,#ffcd00 341px,#ffd700 354px,#ff9f00 381px,#ff9700 399px,#fa0 422px,#ffd800 442px,#ffc900 455px,#ff4500 489px,#f20 512px,#f90000 575px,#a50000 619px,#690000 654px,#640000 683px,#690000 689px,#ff4d00 690px,#ff3700 695px,#f90000 702px,#c10000 711px,#680000 756px,#2e0000 795px)"></i><i style="top:262px;height:2px;background:linear-gradient(90deg,#2e0000,#a90000 75px,#d00000 87px,#ff0400 94px,#ff3f00 102px,#ff4200 105px,#6e0000 106px,#6e0000 135px,#a90000 172px,#fa0000 218px,#ff2f00 296px,#ff6100 315px,#ffce00 342px,#ffd800 354px,#ff9e00 381px,#ff9500 399px,#ffab00 422px,#ffd900 442px,#ffc700 455px,#ff4500 488px,#ff2300 510px,#f90000 578px,#9c0000 629px,#6c0000 663px,#6e0000 689px,#ff4300 690px,#ff3100 695px,#f00 701px,#c00000 711px,#680000 756px,#2e0000 795px)"></i><i style="top:264px;height:2px;background:linear-gradient(90deg,#2e0000,#a00 76px,#ce0000 87px,#ff0100 94px,#ff3800 102px,#ff3900 105px,#720000 106px,#780000 135px,#c70000 182px,#ff0200 221px,#ff3000 298px,#ff6500 317px,#ffcf00 343px,#ffd700 355px,#ff9e00 381px,#ff9300 399px,#ffab00 422px,#ffd800 441px,#ffcb00 453px,#ff4500 487px,#ff2300 509px,#f90000 581px,#760000 661px,#720000 689px,#ff3a00 690px,#ff2c00 695px,#fd0000 701px,#be0000 711px,#600 757px,#2e0000 795px)"></i><i style="top:266px;height:2px;background:linear-gradient(90deg,#2e0000,#a90000 76px,#cd0000 87px,#fe0000 94px,#ff3100 102px,#ff3100 105px,#760000 106px,#800000 135px,#fc0000 213px,#ff2e00 298px,#ff5d00 316px,#ffcd00 343px,#ffd700 355px,#ff9c00 382px,#ff9100 399px,#ffac00 422px,#ffd900 441px,#ffc900 453px,#f40 486px,#ff2300 508px,#f90000 584px,#7b0000 665px,#760000 689px,#ff3200 690px,#ff2700 695px,#fb0000 701px,#bd0000 711px,#650000 757px,#2e0000 795px)"></i><i style="top:268px;height:2px;background:linear-gradient(90deg,#2e0000,#a80000 76px,#cb0000 87px,#ff0500 95px,#ff2b00 102px,#ff2a00 105px,#790000 106px,#870000 135px,#fa0000 209px,#ff2e00 299px,#ff5d00 317px,#ffce00 344px,#ffd700 356px,#ff9b00 382px,#ff8f00 399px,#ffac00 422px,#ffd800 440px,#ffca00 452px,#f40 485px,#ff2300 506px,#f90000 587px,#7d0000 669px,#790000 689px,#ff2b00 690px,#ff1d00 696px,#f90000 701px,#bc0000 711px,#630000 758px,#2e0000 795px)"></i><i style="top:270px;height:3px;background:linear-gradient(90deg,#2e0000,#a80000 77px,#cf0000 88px,#ff0200 95px,#ff2400 102px,#f20 105px,#7c0000 106px,#8e0000 135px,#f90000 204px,#ff2d00 300px,#ff5c00 318px,#ffcf00 345px,#ffd600 357px,#ff9a00 383px,#ff8c00 399px,#ffad00 422px,#ffd800 440px,#ffc800 452px,#ff4600 483px,#ff2400 503px,#f90000 591px,#a00000 648px,#7c0000 680px,#7c0000 689px,#ff2300 690px,#ff1900 696px,#f70000 701px,#ba0000 711px,#620000 758px,#2e0000 795px)"></i><i style="top:273px;height:3px;background:linear-gradient(90deg,#2e0000,#a60000 77px,#cd0000 88px,#ff0600 96px,#ff1d00 102px,#ff1a00 105px,#7f0000 106px,#940000 135px,#f80000 199px,#ff1700 251px,#ff2e00 302px,#ff5a00 319px,#ffcf00 346px,#ffd700 357px,#ff9700 384px,#ff8900 399px,#ffad00 422px,#ffd800 439px,#ffcb00 450px,#f40 482px,#ff2400 502px,#f80000 595px,#a50000 649px,#800000 681px,#7f0000 689px,#ff1b00 690px,#ff1400 696px,#fb0000 700px,#b80000 711px,#5e0000 760px,#2e0000 795px)"></i><i style="top:276px;height:4px;background:linear-gradient(90deg,#2e0000,#a40000 77px,#ca0000 88px,#ff0100 96px,#ff1600 102px,#ff1200 105px,#810000 106px,#900 135px,#f70000 195px,#f10 233px,#ff2c00 303px,#ff5700 320px,#ffcf00 347px,#ffd700 358px,#ff9400 385px,#ff8500 399px,#ffae00 422px,#ffd800 438px,#ffcb00 449px,#f40 480px,#ff2400 500px,#f80000 598px,#a00 649px,#820000 682px,#810000 689px,#ff1300 690px,#ff0f00 696px,#f70000 700px,#b60000 711px,#5c0000 761px,#2e0000 795px)"></i><i style="top:280px;height:4px;background:linear-gradient(90deg,#2e0000,#a40000 78px,#cd0000 89px,#ff0200 97px,#ff0e00 103px,#ff0a00 105px,#820000 106px,#9b0000 135px,#f70000 193px,#ff1000 230px,#ff2b00 305px,#ff5600 322px,#ffce00 348px,#ffd600 359px,#ff8f00 386px,#ff8000 399px,#ffac00 421px,#ffd800 437px,#ffca00 448px,#f40 478px,#ff2400 497px,#f90000 600px,#ac0000 650px,#840000 682px,#820000 689px,#ff0c00 690px,#ff0900 696px,#f30000 700px,#b30000 711px,#570000 764px,#2e0000 795px)"></i><i style="top:284px;height:3px;background:linear-gradient(90deg,#2e0000,#a20000 78px,#ca0000 89px,#ff0200 98px,#ff0700 104px,#ff0500 105px,#830000 106px,#9d0000 135px,#f70000 192px,#ff1000 228px,#ff2c00 308px,#ff5700 324px,#ffce00 349px,#ffd700 359px,#ff8900 388px,#ff7900 398px,#ffad00 421px,#ffd800 436px,#ffcd00 446px,#f40 476px,#ff2400 495px,#f90000 601px,#ad0000 650px,#850000 682px,#830000 689px,#ff0600 690px,#ff0400 696px,#e20000 702px,#ad0000 712px,#3c0000 783px,#2e0000 795px)"></i><i style="top:287px;height:3px;background:linear-gradient(90deg,#2e0000,#a00000 78px,#c80000 89px,#ff0200 99px,#ff0100 105px,#830000 106px,#9d0000 135px,#f60000 191px,#ff0e00 224px,#ff2b00 309px,#f50 325px,#ffce00 350px,#ffd700 360px,#ff8400 389px,#ff7400 398px,#fa0 420px,#ffd700 435px,#ffcd00 445px,#ff4500 474px,#ff2500 492px,#f90000 601px,#af0000 649px,#850000 682px,#830000 689px,#ff0100 690px,#f70000 698px,#af0000 711px,#500000 768px,#2e0000 795px)"></i><i style="top:290px;height:3px;background:linear-gradient(90deg,#2e0000,#a10000 79px,#c60000 89px,#fd0000 99px,#fb0000 105px,#830000 106px,#9e0000 135px,#f70000 191px,#ff0e00 223px,#ff2b00 311px,#ff5300 326px,#ffce00 351px,#ffd600 361px,#ff8100 389px,#ff7000 398px,#fa0 420px,#ffd700 434px,#ffcd00 444px,#ff4300 473px,#ff2400 491px,#f00 594px,#c80000 636px,#800 677px,#830000 689px,#fc0000 690px,#f80000 697px,#a00 712px,#390000 785px,#2e0000 795px)"></i><i style="top:293px;height:3px;background:linear-gradient(90deg,#2e0000,#9f0000 79px,#c90000 90px,#f90000 99px,#f70000 105px,#830000 106px,#9e0000 135px,#f70000 191px,#ff0e00 224px,#ff2b00 313px,#f50 328px,#ffcf00 352px,#ffd600 362px,#ff7b00 390px,#ff6c00 398px,#ffa700 419px,#ffd600 433px,#ffcd00 443px,#f40 471px,#ff2500 488px,#ff0100 593px,#cd0000 633px,#800 677px,#830000 689px,#f80000 690px,#f50000 697px,#a80000 712px,#370000 786px,#2e0000 795px)"></i><i style="top:296px;height:6px;background:linear-gradient(90deg,#2e0000,#9d0000 79px,#c50000 90px,#f40000 99px,#f10000 105px,#830000 106px,#9e0000 135px,#f70000 191px,#ff0f00 225px,#ff2c00 315px,#ff5400 329px,#fc0 352px,#ffd800 361px,#ffad00 374px,#ff7100 392px,#f60 398px,#ffa200 418px,#ffd500 432px,#ffd100 441px,#ff9200 454px,#ff4300 470px,#ff2500 487px,#ff0100 593px,#cd0000 633px,#800 677px,#830000 689px,#f20000 690px,#ef0000 697px,#a50000 712px,#360000 787px,#2e0000 795px)"></i><i style="top:302px;height:6px;background:linear-gradient(90deg,#2e0000,#9c0000 80px,#c60000 91px,#e00 100px,#ea0000 105px,#830000 106px,#9e0000 135px,#f70000 191px,#ff0f00 225px,#ff2d00 315px,#ff5400 329px,#ffcd00 352px,#ffd800 361px,#ffb100 373px,#ff6d00 391px,#ff5f00 398px,#ffa000 418px,#ffd500 432px,#ffd100 441px,#ff9300 454px,#ff4300 470px,#ff2500 487px,#ff0100 593px,#cd0000 633px,#800 677px,#830000 689px,#eb0000 690px,#e80000 697px,#a20000 712px,#340000 789px,#2e0000 795px)"></i><i style="top:308px;height:6px;background:linear-gradient(90deg,#2e0000,#900 80px,#c10000 91px,#e70000 100px,#e40000 105px,#830000 106px,#9e0000 135px,#f70000 191px,#ff0f00 225px,#ff2d00 315px,#ff5400 329px,#ffcd00 352px,#ffd800 361px,#ffaf00 373px,#ff6700 391px,#ff5800 398px,#f90 417px,#ffd500 432px,#ffd200 441px,#ff9300 454px,#ff4300 470px,#ff2600 487px,#ff0100 594px,#c80000 636px,#800 677px,#830000 689px,#e40000 690px,#e10000 697px,#9f0000 712px,#300 790px,#2e0000 795px)"></i><i style="top:314px;height:7px;background:linear-gradient(90deg,#2e0000,#980000 81px,#df0000 100px,#d00 105px,#830000 106px,#9e0000 135px,#f70000 191px,#ff0f00 225px,#ff2e00 315px,#f50 329px,#ffcd00 352px,#ffd700 361px,#ffae00 373px,#ff6000 391px,#ff5000 398px,#ff9100 416px,#ffd300 431px,#ffd400 440px,#ff9f00 452px,#ff4800 469px,#ff2800 485px,#f90000 601px,#b20000 648px,#850000 682px,#830000 689px,#d00 690px,#d70000 698px,#900 713px,#2f0000 794px,#2e0000 795px)"></i><i style="top:321px;height:7px;background:linear-gradient(90deg,#2e0000,#970000 82px,#d80000 101px,#d60000 105px,#830000 106px,#9e0000 135px,#f70000 191px,#ff0f00 225px,#ff3100 316px,#ff5a00 330px,#ffcb00 352px,#ffd500 361px,#ffb000 372px,#ff5900 391px,#ff4800 398px,#f80 415px,#ffd100 431px,#ffd200 440px,#ff9e00 452px,#ff4800 469px,#ff2900 485px,#f90000 601px,#b20000 648px,#850000 682px,#830000 689px,#d60000 690px,#cf0000 698px,#960000 713px,#2e0000 795px)"></i><i style="top:328px;height:7px;background:linear-gradient(90deg,#2e0000,#950000 82px,#d10000 101px,#cf0000 105px,#830000 106px,#9e0000 135px,#f70000 191px,#ff0f00 225px,#ff3200 316px,#ff5e00 331px,#ffc800 352px,#ffd100 361px,#ffab00 372px,#ff5100 391px,#ff4000 398px,#ff8300 415px,#ffca00 430px,#ffd100 439px,#ffa700 450px,#ff4800 469px,#ff2a00 486px,#f90000 601px,#b20000 648px,#850000 682px,#830000 689px,#d00000 690px,#c50000 699px,#920000 714px,#2e0000 795px)"></i><i style="top:335px;height:7px;background:linear-gradient(90deg,#2e0000,#950000 83px,#ca0000 101px,#c90000 105px,#830000 106px,#9e0000 135px,#f70000 191px,#ff0f00 225px,#ff3400 317px,#ff6200 332px,#ffc300 352px,#ffcb00 361px,#ffa600 372px,#ff4700 392px,#ff3900 398px,#ff7800 414px,#ffc400 430px,#ffcb00 439px,#ff9e00 451px,#ff4900 469px,#ff2c00 486px,#f90000 601px,#b20000 648px,#850000 682px,#830000 689px,#ca0000 690px,#bf0000 699px,#8f0000 715px,#2e0000 795px)"></i><i style="top:342px;height:6px;background:linear-gradient(90deg,#2e0000,#940000 83px,#c50000 102px,#c50000 105px,#830000 106px,#9e0000 135px,#f70000 191px,#ff0f00 225px,#ff3600 317px,#ff6000 332px,#ffbf00 353px,#ffc100 363px,#ff8500 377px,#ff3a00 394px,#ff3500 399px,#f70 415px,#ffbd00 430px,#ffc300 440px,#ff9000 453px,#ff4600 470px,#ff2c00 489px,#f90000 601px,#b20000 648px,#850000 682px,#830000 689px,#c50000 690px,#b70000 700px,#8b0000 717px,#2e0000 795px)"></i><i style="top:348px;height:6px;background:linear-gradient(90deg,#2e0000,#950000 84px,#c10000 102px,#c10000 105px,#830000 106px,#9e0000 135px,#f70000 191px,#ff0f00 225px,#ff3800 318px,#ff6300 333px,#ffb800 353px,#ffb900 363px,#ff7e00 377px,#ff3400 394px,#ff3000 399px,#ff7100 415px,#ffb600 430px,#fb0 440px,#ff8700 454px,#ff4300 471px,#ff2c00 493px,#f90000 601px,#b20000 648px,#850000 682px,#830000 689px,#c10000 690px,#ad0000 702px,#830000 722px,#2e0000 795px)"></i><i style="top:354px;height:5px;background:linear-gradient(90deg,#2e0000,#950000 84px,#be0000 103px,#be0000 105px,#830000 106px,#9e0000 135px,#f70000 191px,#ff0f00 225px,#ff3b00 319px,#ff6a00 335px,#ffb100 353px,#ffb200 363px,#ff7800 377px,#ff3000 394px,#ff2c00 399px,#ff7000 416px,#ffb000 431px,#ffb200 441px,#ff6c00 459px,#ff3c00 475px,#f90000 601px,#b20000 648px,#850000 682px,#830000 689px,#be0000 690px,#a80000 703px,#780000 730px,#2e0000 795px)"></i><i style="top:359px;height:5px;background:linear-gradient(90deg,#2e0000,#960000 85px,#bc0000 104px,#bc0000 105px,#830000 106px,#9e0000 135px,#f70000 191px,#ff0f00 225px,#ff3d00 320px,#ff6f00 337px,#ffac00 354px,#ffa800 364px,#ff2d00 394px,#ff2800 399px,#ff6b00 416px,#ffa900 431px,#ffab00 441px,#ff4200 472px,#ff2d00 501px,#f90000 602px,#ac0000 651px,#850000 683px,#830000 689px,#bc0000 690px,#9c0000 707px,#340000 788px,#2e0000 795px)"></i><i style="top:364px;height:5px;background:linear-gradient(90deg,#2e0000,#960000 85px,#ba0000 105px,#830000 106px,#9e0000 135px,#f70000 191px,#ff0f00 225px,#ff3f00 321px,#ff7400 339px,#ffa400 354px,#ff9e00 365px,#ff2a00 394px,#ff2600 399px,#f60 416px,#ffa100 431px,#ffa200 442px,#ff4200 472px,#ff2a00 512px,#f90000 602px,#ac0000 651px,#850000 683px,#830000 689px,#ba0000 690px,#6a0000 741px,#2e0000 795px)"></i><i style="top:369px;height:5px;background:linear-gradient(90deg,#2e0000,#970000 86px,#b80000 105px,#830000 106px,#9e0000 135px,#f70000 191px,#ff0f00 225px,#ff4100 322px,#ff7b00 342px,#ff9e00 356px,#ff9000 367px,#ff2800 394px,#ff2600 400px,#ff7200 420px,#ff9c00 433px,#ff9600 444px,#f40 471px,#ff2800 518px,#f90000 602px,#ac0000 651px,#850000 683px,#830000 689px,#b70000 690px,#5e0000 751px,#2e0000 795px)"></i><i style="top:374px;height:4px;background:linear-gradient(90deg,#2e0000,#900 87px,#b60000 105px,#830000 106px,#9e0000 135px,#f70000 191px,#ff0f00 225px,#ff4500 324px,#ff9600 355px,#f80 367px,#ff2600 394px,#ff2500 400px,#ff9300 432px,#ff8f00 444px,#ff4300 472px,#fa0000 601px,#b20000 648px,#850000 682px,#830000 689px,#b60000 690px,#4e0000 764px,#2e0000 795px)"></i><i style="top:378px;height:4px;background:linear-gradient(90deg,#2e0000,#9a0000 88px,#b50000 105px,#830000 106px,#9e0000 135px,#f70000 191px,#ff0f00 225px,#ff4600 325px,#ff8f00 355px,#ff8200 367px,#ff2300 395px,#ff2800 402px,#ff8b00 432px,#ff8900 444px,#ff4300 472px,#fa0000 601px,#b20000 648px,#850000 682px,#830000 689px,#b40000 690px,#410000 775px,#2e0000 795px)"></i><i style="top:382px;height:4px;background:linear-gradient(90deg,#2e0000,#9b0000 89px,#b30000 105px,#830000 106px,#9e0000 135px,#f70000 191px,#ff0f00 225px,#ff4800 326px,#f80 355px,#ff7800 368px,#f20 395px,#ff2900 403px,#ff8400 432px,#ff8000 445px,#ff4200 473px,#fa0000 601px,#b20000 648px,#850000 682px,#830000 689px,#b30000 690px,#390000 783px,#2e0000 795px)"></i><i style="top:386px;height:4px;background:linear-gradient(90deg,#2e0000,#9c0000 90px,#b20000 105px,#830000 106px,#9e0000 135px,#f70000 191px,#ff0f00 225px,#ff4a00 328px,#ff8000 355px,#ff7100 368px,#ff2100 395px,#ff2a00 404px,#ff7e00 433px,#ff7600 447px,#ff4200 473px,#fa0000 601px,#b20000 648px,#850000 682px,#830000 689px,#b20000 690px,#350000 787px,#2e0000 795px)"></i><i style="top:390px;height:4px;background:linear-gradient(90deg,#2e0000,#9f0000 92px,#b10000 105px,#840000 106px,#9e0000 135px,#f70000 191px,#ff1000 226px,#ff4c00 330px,#ff7a00 356px,#ff6500 370px,#ff1e00 396px,#ff3d00 412px,#f70 433px,#ff7100 447px,#ff4100 474px,#fa0000 601px,#b20000 648px,#850000 682px,#840000 689px,#b10000 690px,#320000 790px,#2e0000 795px)"></i><i style="top:394px;height:4px;background:linear-gradient(90deg,#2e0000,#a30000 95px,#b10000 105px,#840000 106px,#9e0000 135px,#f70000 191px,#ff1000 227px,#ff4e00 332px,#ff7200 356px,#ff5c00 371px,#ff1d00 396px,#ff3d00 413px,#ff7000 434px,#f60 450px,#ff4000 476px,#f90000 602px,#ab0000 652px,#850000 684px,#840000 689px,#b00000 690px,#300000 792px,#2e0000 795px)"></i><i style="top:398px;height:4px;background:linear-gradient(90deg,#2e0000,#a60000 98px,#b00000 105px,#860000 106px,#9f0000 135px,#f70000 191px,#ff1200 231px,#ff4f00 334px,#ff6b00 357px,#ff4e00 374px,#ff1a00 397px,#ff4c00 420px,#ff6b00 437px,#ff4e00 461px,#f90000 602px,#ac0000 652px,#860000 684px,#860000 689px,#af0000 690px,#2f0000 793px,#2e0000 795px)"></i><i style="top:402px;height:4px;background:linear-gradient(90deg,#2e0000,#a90000 100px,#b00000 105px,#870000 106px,#a20000 136px,#f80000 191px,#ff1500 237px,#ff4000 314px,#ff6300 359px,#ff3400 382px,#ff1b00 399px,#ff6300 436px,#ff4f00 459px,#f90000 602px,#a00 654px,#800 685px,#870000 689px,#af0000 690px,#2f0000 793px,#2e0000 795px)"></i><i style="top:406px;height:4px;background:linear-gradient(90deg,#2e0000,#a00 101px,#b00000 105px,#8a0000 106px,#a40000 136px,#f90000 192px,#ff4100 315px,#ff5b00 360px,#ff1800 398px,#ff5c00 437px,#ff4000 486px,#fa0000 602px,#8d0000 679px,#8a0000 689px,#af0000 690px,#2f0000 793px,#2e0000 795px)"></i><i style="top:410px;height:3px;background:linear-gradient(90deg,#2e0000,#a00 101px,#b00000 105px,#8c0000 106px,#a60000 136px,#f90000 192px,#ff4100 314px,#f50 360px,#ff1200 399px,#ff5600 436px,#ff2a00 525px,#f90000 603px,#8f0000 679px,#8c0000 689px,#af0000 690px,#2f0000 793px,#2e0000 795px)"></i><i style="top:413px;height:3px;background:linear-gradient(90deg,#2e0000,#a00 101px,#b00000 105px,#8e0000 106px,#a00 137px,#fb0000 193px,#ff4100 313px,#ff4f00 361px,#ff0f00 394px,#ff0d00 400px,#ff4e00 433px,#ff4800 458px,#ff3000 519px,#f80000 604px,#920000 679px,#8e0000 689px,#af0000 690px,#2f0000 793px,#2e0000 795px)"></i><i style="top:416px;height:3px;background:linear-gradient(90deg,#2e0000,#a00 101px,#b00000 105px,#910000 106px,#ac0000 137px,#fb0000 193px,#ff4100 312px,#ff4900 362px,#ff1400 391px,#fe0100 398px,#ff2d00 415px,#ff4d00 440px,#ff3200 517px,#f90000 604px,#940000 679px,#910000 689px,#af0000 690px,#2f0000 793px,#2e0000 795px)"></i><i style="top:419px;height:3px;background:linear-gradient(90deg,#2e0000,#a00 101px,#b00000 105px,#940000 106px,#ae0000 137px,#fc0000 194px,#ff4100 312px,#ff4300 363px,#ff1400 390px,#f90000 396px,#ff0800 402px,#ff2700 413px,#ff4800 441px,#ff3500 513px,#f90000 604px,#970000 679px,#940000 689px,#af0000 690px,#2f0000 793px,#2e0000 795px)"></i><i style="top:422px;height:3px;background:linear-gradient(90deg,#2e0000,#a00 101px,#b00000 105px,#970000 106px,#b10000 138px,#fd0000 194px,#ff4100 311px,#ff3e00 364px,#ff1500 389px,#fa0000 394px,#f00000 398px,#ff0900 403px,#ff2500 413px,#f40 442px,#ff3700 510px,#fb0000 603px,#900 680px,#970000 689px,#af0000 690px,#2f0000 793px,#2e0000 795px)"></i><i style="top:425px;height:3px;background:linear-gradient(90deg,#2e0000,#a00 101px,#b00000 105px,#9a0000 106px,#b50000 139px,#fe0000 195px,#ff4100 311px,#ff3800 365px,#ff1200 389px,#fa0000 393px,#e80000 398px,#ff0400 403px,#ff2000 411px,#ff4000 444px,#ff3900 508px,#fc0000 602px,#9c0000 680px,#9a0000 689px,#af0000 690px,#2f0000 793px,#2e0000 795px)"></i><i style="top:428px;height:3px;background:linear-gradient(90deg,#2e0000,#a00 101px,#b00000 105px,#9d0000 106px,#b80000 139px,#f00 195px,#ff4100 310px,#f30 366px,#ff1300 388px,#fb0000 392px,#df0000 397px,#f60000 402px,#ff1800 408px,#ff3c00 443px,#ff3b00 505px,#fd0000 602px,#9f0000 680px,#9d0000 689px,#af0000 690px,#2f0000 793px,#2e0000 795px)"></i><i style="top:431px;height:3px;background:linear-gradient(90deg,#2e0000,#a00 101px,#b00000 105px,#a00000 106px,#bc0000 140px,#f00 195px,#ff4100 310px,#ff2c00 369px,#ff1000 388px,#f40000 392px,#d70000 397px,#f00000 402px,#ff0700 405px,#ff2000 414px,#ff3a00 451px,#ff3c00 504px,#fc0000 603px,#a20000 680px,#a00000 689px,#af0000 690px,#2f0000 793px,#2e0000 795px)"></i><i style="top:434px;height:3px;background:linear-gradient(90deg,#2e0000,#a00 101px,#b00000 105px,#a40000 107px,#c10000 142px,#ff0100 195px,#ff4000 310px,#ff2600 372px,#ff1000 387px,#f60000 391px,#cf0000 397px,#e00000 401px,#ff0200 405px,#ff1c00 413px,#ff3800 456px,#ff3c00 503px,#fb0000 605px,#a50000 681px,#a40000 689px,#af0000 690px,#2f0000 793px,#2e0000 795px)"></i><i style="top:437px;height:3px;background:linear-gradient(90deg,#2e0000,#a00 101px,#b00000 105px,#a70000 108px,#c70000 145px,#ff0100 195px,#ff4000 310px,#ff1f00 377px,#ff0d00 387px,#f90000 390px,#ca0000 396px,#d10000 400px,#ff0400 406px,#ff1c00 414px,#ff3e00 477px,#f30 515px,#f90000 609px,#a90000 680px,#a90000 694px,#2f0000 794px,#2e0000 795px)"></i><i style="top:440px;height:3px;background:linear-gradient(90deg,#2e0000,#a00 101px,#c00000 137px,#ff0100 194px,#ff3f00 310px,#ff1800 382px,#fb0000 389px,#c20000 396px,#c90000 400px,#fe0000 406px,#ff1a00 414px,#ff4000 489px,#f90000 610px,#ac0000 681px,#a80000 695px,#2e0000 795px)"></i><i style="top:443px;height:3px;background:linear-gradient(90deg,#2e0000,#a00 101px,#cb0000 144px,#ff0300 195px,#ff3f00 310px,#ff1400 383px,#fe0000 388px,#ba0000 396px,#c20000 400px,#ff0200 407px,#ff1900 415px,#ff3f00 492px,#f90000 611px,#b00000 681px,#a20000 699px,#2e0000 795px)"></i><i style="top:446px;height:3px;background:linear-gradient(90deg,#2e0000,#a00 101px,#da0000 154px,#ff0500 196px,#ff3e00 310px,#ff0f00 384px,#f90000 388px,#b20000 396px,#ba0000 400px,#fc0000 407px,#ff1800 416px,#ff3e00 492px,#f90000 612px,#b30000 681px,#a40000 698px,#2e0000 795px)"></i><i style="top:449px;height:3px;background:linear-gradient(90deg,#2e0000,#a00 101px,#b60000 112px,#e60000 163px,#ff0600 196px,#ff3d00 310px,#ff1000 383px,#fc0000 387px,#a00 396px,#b20000 400px,#fe0000 408px,#ff1700 416px,#ff3d00 492px,#f90000 613px,#b70000 681px,#ae0000 691px,#2f0000 794px,#2e0000 795px)"></i><i style="top:452px;height:3px;background:linear-gradient(90deg,#2e0000,#a00 101px,#b90000 109px,#de0000 154px,#ff0500 194px,#ff3d00 310px,#ff0d00 383px,#f70000 387px,#a20000 396px,#a40000 399px,#ff0200 409px,#ff1700 418px,#ff3d00 493px,#f90000 615px,#ba0000 681px,#b90000 689px,#ac0000 692px,#2f0000 794px,#2e0000 795px)"></i><i style="top:455px;height:3px;background:linear-gradient(90deg,#2e0000,#a00 101px,#b00000 105px,#bc0000 106px,#d90000 148px,#ff0500 192px,#ff3c00 310px,#ff0e00 382px,#fa0000 386px,#9b0000 396px,#9d0000 399px,#fd0000 409px,#ff1600 418px,#ff3c00 493px,#f90000 616px,#bd0000 682px,#bc0000 689px,#ae0000 691px,#2f0000 794px,#2e0000 795px)"></i><i style="top:458px;height:3px;background:linear-gradient(90deg,#2e0000,#a00 101px,#b00000 105px,#c00000 106px,#dc0000 149px,#ff0600 191px,#ff3b00 309px,#ff0c00 382px,#f60000 386px,#900 395px,#910000 398px,#af0000 402px,#f90000 409px,#ff1600 420px,#ff3b00 493px,#ff0200 608px,#c00000 683px,#c00000 689px,#af0000 690px,#2f0000 793px,#2e0000 795px)"></i><i style="top:461px;height:3px;background:linear-gradient(90deg,#2e0000,#a00 101px,#b00000 105px,#c30000 106px,#e00000 151px,#ff0700 190px,#ff3700 289px,#ff3100 329px,#ff0d00 381px,#f90000 385px,#910000 395px,#8a0000 398px,#a70000 402px,#f50000 409px,#ff0b00 413px,#ff3a00 490px,#ff0b00 599px,#f30000 625px,#c40000 683px,#c30000 689px,#af0000 690px,#2f0000 793px,#2e0000 795px)"></i><i style="top:464px;height:3px;background:linear-gradient(90deg,#2e0000,#a00 101px,#b00000 105px,#c60000 106px,#e30000 152px,#ff0600 188px,#ff2900 251px,#ff3700 316px,#ff0b00 381px,#f50000 385px,#8a0000 395px,#820000 398px,#a00000 402px,#f80000 410px,#ff1600 422px,#ff3900 494px,#ff1200 593px,#f70000 623px,#c70000 683px,#c60000 689px,#af0000 690px,#2f0000 793px,#2e0000 795px)"></i><i style="top:467px;height:3px;background:linear-gradient(90deg,#2e0000,#a00 101px,#b00000 105px,#c90000 106px,#e70000 154px,#ff0700 187px,#ff2b00 245px,#ff3500 318px,#ff0d00 380px,#f90000 384px,#ba0000 390px,#820000 395px,#7b0000 398px,#900 402px,#f50000 410px,#ff0b00 414px,#ff3800 485px,#ff1c00 583px,#f80000 623px,#ca0000 683px,#c90000 689px,#af0000 690px,#2f0000 793px,#2e0000 795px)"></i><i style="top:470px;height:3px;background:linear-gradient(90deg,#2e0000,#a00 101px,#b00000 105px,#c00 106px,#ea0000 155px,#ff0800 186px,#ff2e00 241px,#ff3400 320px,#ff0b00 380px,#f50000 384px,#a50000 391px,#750000 396px,#700 399px,#ab0000 404px,#f10000 410px,#ff0500 413px,#ff1700 425px,#ff3800 496px,#ff2100 581px,#f80000 625px,#c00 684px,#c00 689px,#af0000 690px,#2f0000 793px,#2e0000 795px)"></i><i style="top:473px;height:3px;background:linear-gradient(90deg,#2e0000,#a00 101px,#b00000 105px,#cf0000 106px,#ed0000 157px,#ff0900 185px,#ff3100 238px,#ff3100 323px,#ff0c00 379px,#f90000 383px,#b90000 389px,#730000 395px,#6c0000 398px,#8a0000 402px,#ec0000 410px,#ff0700 414px,#ff1800 428px,#ff3700 497px,#ff2700 577px,#f80000 626px,#cf0000 684px,#cf0000 689px,#af0000 690px,#2f0000 793px,#2e0000 795px)"></i><i style="top:476px;height:3px;background:linear-gradient(90deg,#2e0000,#a00 101px,#b00000 105px,#d10000 106px,#f00000 158px,#ff0a00 184px,#ff3500 236px,#ff2f00 326px,#ff0b00 379px,#f50000 383px,#b30000 389px,#6c0000 395px,#640000 398px,#820000 402px,#e80000 410px,#ff0400 414px,#ff1700 426px,#ff3600 499px,#ff2e00 574px,#f90000 627px,#d20000 685px,#d10000 689px,#af0000 690px,#2f0000 793px,#2e0000 795px)"></i><i style="top:479px;height:3px;background:linear-gradient(90deg,#2e0000,#a00 101px,#b00000 105px,#d40000 106px,#f10000 158px,#ff0a00 182px,#ff3a00 234px,#ff2b00 331px,#ff0c00 378px,#f90000 382px,#ba0000 388px,#6c0000 394px,#5d0000 398px,#7b0000 402px,#ec0000 411px,#ff0600 415px,#ff1800 429px,#ff3600 501px,#ff3500 571px,#f90000 628px,#d40000 685px,#d40000 689px,#af0000 690px,#2f0000 793px,#2e0000 795px)"></i><i style="top:482px;height:3px;background:linear-gradient(90deg,#2e0000,#a00 101px,#b00000 105px,#d60000 106px,#f30000 159px,#ff0b00 182px,#ff3f00 233px,#ff2700 336px,#ff0d00 377px,#f50000 382px,#b30000 388px,#640000 394px,#500 398px,#730000 402px,#e80000 411px,#ff0400 415px,#ff1700 427px,#ff3500 504px,#ff3c00 568px,#fa0000 629px,#d60000 685px,#d60000 689px,#af0000 690px,#2f0000 793px,#2e0000 795px)"></i><i style="top:485px;height:3px;background:linear-gradient(90deg,#2e0000,#a00 101px,#b00000 105px,#d70000 106px,#f50000 159px,#ff0c00 181px,#f40 232px,#f20 345px,#ff0c00 377px,#f80000 381px,#ba0000 387px,#5d0000 394px,#4e0000 398px,#6c0000 402px,#e30000 411px,#ff0200 415px,#ff1600 425px,#ff3600 509px,#ff4300 566px,#fa0000 630px,#d80000 686px,#d70000 689px,#af0000 690px,#2f0000 793px,#2e0000 795px)"></i><i style="top:488px;height:4px;background:linear-gradient(90deg,#2e0000,#a00 101px,#b00000 105px,#d90000 106px,#f70000 160px,#ff1000 183px,#ff4a00 231px,#ff1400 372px,#fb0000 380px,#c10000 386px,#500 394px,#460000 398px,#630000 402px,#d00 411px,#ff0400 416px,#ff1700 428px,#ff4a00 564px,#fa0000 631px,#d90000 686px,#d90000 689px,#af0000 690px,#2f0000 793px,#2e0000 795px)"></i><i style="top:492px;height:5px;background:linear-gradient(90deg,#2e0000,#a00 101px,#b00000 105px,#db0000 106px,#f80000 160px,#ff1400 184px,#ff5100 230px,#f40 264px,#ff0d00 375px,#f70000 380px,#b00 386px,#520000 394px,#400 398px,#600000 402px,#e20000 412px,#ff0100 416px,#ff1600 427px,#ff4a00 538px,#ff4f00 568px,#fb0000 631px,#db0000 686px,#db0000 689px,#af0000 690px,#2f0000 793px,#2e0000 795px)"></i><i style="top:497px;height:6px;background:linear-gradient(90deg,#2e0000,#a00 101px,#b00000 105px,#dc0000 106px,#f80000 159px,#ff1400 182px,#ff5800 228px,#ff5000 256px,#ff2f00 305px,#ff0e00 374px,#f90000 379px,#c20000 385px,#510000 394px,#400 398px,#5e0000 402px,#e60000 413px,#ff0200 417px,#ff1600 428px,#ff4500 528px,#ff5a00 562px,#ff3600 592px,#fc0000 631px,#dc0000 685px,#dc0000 689px,#af0000 690px,#2f0000 793px,#2e0000 795px)"></i><i style="top:503px;height:8px;background:linear-gradient(90deg,#2e0000,#a00 101px,#b00000 105px,#dc0000 106px,#f70000 158px,#f10 179px,#ff5f00 228px,#ff5600 254px,#ff2f00 300px,#ff0e00 373px,#fa0000 378px,#b00 385px,#580000 393px,#400 397px,#530000 401px,#e90000 414px,#ff0200 418px,#ff1700 430px,#ff4100 522px,#ff6100 559px,#ff4700 585px,#f00 629px,#dc0000 683px,#dc0000 689px,#af0000 690px,#2f0000 793px,#2e0000 795px)"></i><i style="top:511px;height:8px;background:linear-gradient(90deg,#2e0000,#a00 101px,#b00000 105px,#dc0000 106px,#f70000 158px,#f10 179px,#ff6000 228px,#ff5800 253px,#ff2e00 299px,#ff0d00 372px,#fa0000 377px,#bf0000 384px,#560000 393px,#400 397px,#510000 401px,#ea0000 415px,#ff0600 420px,#ff1800 436px,#ff3e00 519px,#ff6300 559px,#ff4a00 584px,#f00 629px,#dc0000 683px,#dc0000 689px,#af0000 690px,#2f0000 793px,#2e0000 795px)"></i><i style="top:519px;height:7px;background:linear-gradient(90deg,#2e0000,#a00 101px,#b00000 105px,#dc0000 106px,#f80000 159px,#ff1300 181px,#ff5b00 228px,#ff5300 254px,#ff2b00 301px,#ff0d00 371px,#fb0000 376px,#c40000 383px,#500 393px,#400 398px,#610000 403px,#e30000 415px,#ff0200 420px,#ff1700 433px,#ff3b00 519px,#ff5e00 559px,#f40 585px,#fe0000 630px,#dc0000 684px,#dc0000 689px,#af0000 690px,#2f0000 793px,#2e0000 795px)"></i><i style="top:526px;height:6px;background:linear-gradient(90deg,#2e0000,#a00 101px,#b00000 105px,#de0000 106px,#ff0700 171px,#ff5600 229px,#ff4a00 258px,#ff2900 307px,#ff0f00 370px,#f90000 376px,#b50000 384px,#560000 393px,#460000 398px,#610000 403px,#e80000 416px,#ff0500 421px,#ff1900 435px,#ff3c00 522px,#ff5700 560px,#ff3a00 589px,#fd0000 632px,#de0000 687px,#de0000 689px,#af0000 690px,#2f0000 793px,#2e0000 795px)"></i><i style="top:532px;height:2px;background:linear-gradient(90deg,#2e0000,#a00 101px,#b00000 105px,#ea0000 106px,#ff0700 160px,#ff5c00 231px,#ff4b00 265px,#ff3000 324px,#ff1c00 369px,#fc0000 377px,#b30000 385px,#610000 393px,#520000 398px,#6c0000 403px,#f10000 416px,#ff0a00 420px,#ff2300 431px,#ff4700 525px,#ff5d00 562px,#ff3500 597px,#fd0100 644px,#ea0000 689px,#af0000 690px,#2f0000 793px,#2e0000 795px)"></i><i style="top:534px;height:1px;background:linear-gradient(90deg,#2e0000,#a00 101px,#b00000 105px,#f70000 106px,#ff0900 146px,#f40 200px,#ff6700 234px,#ff3d00 319px,#ff2800 369px,#f90000 379px,#6d0000 393px,#5f0000 398px,#780000 403px,#fc0000 416px,#ff2700 425px,#ff3d00 473px,#ff5900 532px,#f60 565px,#ff0900 648px,#f70000 689px,#af0000 690px,#2f0000 793px,#2e0000 795px)"></i><i style="top:535px;height:1px;background:linear-gradient(90deg,#2e0000,#a00 101px,#b00000 105px,#ff0300 106px,#ff2000 161px,#ff7000 231px,#ff5f00 268px,#ff3400 369px,#ff0d00 378px,#f30000 381px,#790000 393px,#6b0000 398px,#840000 403px,#f00 415px,#ff2d00 423px,#ff3f00 441px,#ff5f00 527px,#ff7000 563px,#ff4200 604px,#ff0b00 663px,#ff0300 689px,#af0000 690px,#2f0000 793px,#2e0000 795px)"></i><i style="top:536px;height:1px;background:linear-gradient(90deg,#2e0000,#a00 101px,#b00000 105px,#f10 106px,#ff2e00 161px,#ff7c00 232px,#ff5300 330px,#ff4100 369px,#ff1a00 378px,#ff0100 381px,#860000 393px,#780000 398px,#910000 403px,#ff0400 414px,#ff3700 422px,#ff4b00 437px,#ff6c00 528px,#ff7c00 564px,#ff1f00 652px,#f10 689px,#af0000 690px,#2f0000 793px,#2e0000 795px)"></i><i style="top:537px;height:1px;background:linear-gradient(90deg,#2e0000,#a00 101px,#b00000 105px,#ff1f00 106px,#ff3c00 162px,#f80 232px,#ff6000 335px,#ff4e00 369px,#ff2700 378px,#f90000 383px,#940000 393px,#860000 398px,#9e0000 403px,#fd0000 412px,#ff4000 421px,#ff5700 433px,#ff7b00 530px,#ff8700 565px,#ff2c00 653px,#ff1f00 689px,#af0000 690px,#2f0000 793px,#2e0000 795px)"></i><i style="top:538px;height:1px;background:linear-gradient(90deg,#2e0000,#a00 101px,#b00000 105px,#ff2b00 106px,#ff4800 162px,#ff9200 232px,#ff6900 344px,#ff5800 370px,#ff3200 378px,#f90000 384px,#a00000 393px,#920000 398px,#a00 403px,#fe0000 411px,#ff4200 419px,#ff6000 429px,#f80 533px,#ff9100 567px,#ff3900 653px,#ff2b00 689px,#af0000 690px,#2f0000 793px,#2e0000 795px)"></i><i style="top:539px;height:3px;background:linear-gradient(90deg,#2e0000,#a00 101px,#b00000 105px,#ff3600 106px,#ff5400 163px,#f90 232px,#f60 368px,#ff4200 377px,#ff0400 384px,#a00 393px,#9d0000 398px,#b40000 403px,#fc0000 410px,#ff4b00 419px,#ff6a00 429px,#ff9400 539px,#ff9500 572px,#ff4300 653px,#ff3600 689px,#af0000 690px,#2f0000 793px,#2e0000 795px)"></i><i style="top:542px;height:1px;background:linear-gradient(90deg,#2e0000,#a00 101px,#b00000 105px,#ff2e00 106px,#ff4c00 163px,#ff8f00 233px,#ff6000 367px,#ff4000 376px,#fa0000 384px,#a30000 393px,#950000 398px,#ad0000 403px,#fe0000 411px,#ff4800 420px,#ff6500 431px,#ff8e00 565px,#ff3600 663px,#ff2e00 689px,#af0000 690px,#2f0000 793px,#2e0000 795px)"></i><i style="top:543px;height:1px;background:linear-gradient(90deg,#2e0000,#a00 101px,#b00000 105px,#ff2300 106px,#ff4100 164px,#ff8200 233px,#f50 367px,#ff3400 376px,#f80000 383px,#970000 393px,#8a0000 398px,#a10000 403px,#fc0000 412px,#ff4100 421px,#ff5b00 433px,#ff8000 566px,#ff2a00 664px,#ff2300 689px,#af0000 690px,#2f0000 793px,#2e0000 795px)"></i><i style="top:544px;height:1px;background:linear-gradient(90deg,#2e0000,#a00 101px,#b00000 105px,#ff1500 106px,#ff3400 164px,#ff7200 234px,#ff4700 367px,#ff2600 376px,#fe0000 381px,#890000 393px,#7c0000 398px,#930000 403px,#ff0200 414px,#ff3700 422px,#ff4e00 435px,#ff7100 566px,#ff1b00 666px,#ff1500 689px,#af0000 690px,#2f0000 793px,#2e0000 795px)"></i><i style="top:545px;height:1px;background:linear-gradient(90deg,#2e0000,#a00 101px,#b00000 105px,#ff0800 106px,#ff2700 165px,#ff6300 234px,#ff3900 367px,#ff1700 376px,#f80000 380px,#7c0000 393px,#6f0000 398px,#8e0000 404px,#fc0000 415px,#f30 425px,#ff4500 448px,#ff6100 566px,#ff0c00 669px,#ff0800 689px,#af0000 690px,#2f0000 793px,#2e0000 795px)"></i><i style="top:546px;height:1px;background:linear-gradient(90deg,#8b0000,#8b0000 105px,#ff3000 106px,#ff3000 689px,#8b0000 690px,#8b0000 795px)"></i><i style="top:547px;height:1px;background:linear-gradient(90deg,#7e0000,#7e0000 105px,#ff1300 106px,#ff1300 689px,#7e0000 690px,#7e0000 795px)"></i><i style="top:548px;height:1px;background:linear-gradient(90deg,#720000,#720000 105px,#f70000 106px,#f70000 689px,#720000 690px,#720000 795px)"></i><i style="top:549px;height:1px;background:linear-gradient(90deg,#680000,#680000 105px,#e00000 106px,#e00000 689px,#680000 690px,#680000 795px)"></i><i style="top:550px;height:1px;background:linear-gradient(90deg,#5e0000,#5e0000 105px,#ca0000 106px,#ca0000 689px,#5e0000 690px,#5e0000 795px)"></i><i style="top:551px;height:1px;background:linear-gradient(90deg,#500,#500 105px,#b70000 106px,#b70000 689px,#500 690px,#500 795px)"></i><i style="top:552px;height:1px;background:linear-gradient(90deg,#4e0000,#4e0000 105px,#a60000 106px,#a60000 689px,#4e0000 690px,#4e0000 795px)"></i><i style="top:553px;height:1px;background:linear-gradient(90deg,#470000,#470000 105px,#960000 106px,#960000 689px,#470000 690px,#470000 795px)"></i><i style="top:554px;height:1px;background:linear-gradient(90deg,#400000,#400000 105px,#800 106px,#800 689px,#400000 690px,#400000 795px)"></i><i style="top:555px;height:1px;background:linear-gradient(90deg,#3a0000,#3a0000 105px,#7b0000 106px,#7b0000 689px,#3a0000 690px,#3a0000 795px)"></i><i style="top:556px;height:1px;background:linear-gradient(90deg,#350000,#350000 105px,#6f0000 106px,#6f0000 689px,#350000 690px,#350000 795px)"></i><i style="top:557px;height:1px;background:linear-gradient(90deg,#310000,#310000 105px,#650000 106px,#650000 689px,#310000 690px,#310000 795px)"></i><i style="top:558px;height:1px;background:linear-gradient(90deg,#2c0000,#2c0000 105px,#5c0000 106px,#5c0000 689px,#2c0000 690px,#2c0000 795px)"></i><i style="top:559px;height:1px;background:linear-gradient(90deg,#290000,#290000 105px,#530000 106px,#530000 689px,#290000 690px,#290000 795px)"></i><i style="top:560px;height:2px;background:linear-gradient(90deg,#240000,#240000 105px,#480000 106px,#480000 689px,#240000 690px,#240000 795px)"></i><i style="top:562px;height:2px;background:linear-gradient(90deg,#1e0000,#1e0000 105px,#3c0000 106px,#3c0000 689px,#1e0000 690px,#1e0000 795px)"></i><i style="top:564px;height:2px;background:linear-gradient(90deg,#190000,#190000 105px,#320000 106px,#320000 689px,#190000 690px,#190000 795px)"></i><i style="top:566px;height:2px;background:linear-gradient(90deg,#160000,#160000 105px,#290000 106px,#290000 689px,#160000 690px,#160000 795px)"></i><i style="top:568px;height:3px;background:linear-gradient(90deg,#120000,#120000 105px,#210000 106px,#210000 689px,#120000 690px,#120000 795px)"></i><i style="top:571px;height:4px;background:linear-gradient(90deg,#0e0000,#0e0000 105px,#190000 107px,#190000 689px,#0e0000 691px,#0e0000 795px)"></i><i style="top:575px;height:7px;background:linear-gradient(90deg,#0b0000,#100 689px,#0b0000 745px,#0b0000 795px)"></i><i style="top:582px;height:8px;background:#0a0000"></i><i style="top:590px;height:8px;background:#080000"></i><i style="top:598px;height:8px;background:#070000"></i><i style="top:606px;height:8px;background:#060000"></i><i style="top:614px;height:8px;background:#060000"></i><i style="top:622px;height:8px;background:#060000"></i><i style="top:630px;height:8px;background:#060000"></i><i style="top:638px;height:8px;background:#060000"></i><i style="top:646px;height:8px;background:#060000"></i><i style="top:654px;height:8px;background:#060000"></i><i style="top:662px;height:8px;background:#060000"></i><i style="top:670px;height:8px;background:#060000"></i><i style="top:678px;height:8px;background:#060000"></i><i style="top:686px;height:8px;background:#060000"></i><i style="top:694px;height:8px;background:#060000"></i><i style="top:702px;height:8px;background:#060000"></i><i style="top:710px;height:8px;background:#060000"></i><i style="top:718px;height:8px;background:#060000"></i><i style="top:726px;height:8px;background:#060000"></i><i style="top:734px;height:8px;background:#060000"></i><i style="top:742px;height:2px;background:#060000"></i>
</div>
<div class="hm" style="left:1866px;top:1029px;width:374px;height:350px;overflow:hidden">
<i style="top:0px;height:8px;background:#050000"></i><i style="top:8px;height:5px;background:#050000"></i><i style="top:13px;height:8px;background:linear-gradient(90deg,#050000,#050000 176px,#320000 177px,#320000 196px,#050000 197px,#050000 373px)"></i><i style="top:21px;height:8px;background:linear-gradient(90deg,#050000,#050000 176px,#300 177px,#300 196px,#050000 197px,#050000 373px)"></i><i style="top:29px;height:8px;background:linear-gradient(90deg,#050000,#050000 176px,#350000 177px,#350000 196px,#050000 197px,#050000 373px)"></i><i style="top:37px;height:8px;background:linear-gradient(90deg,#050000,#050000 176px,#370000 177px,#370000 196px,#050000 197px,#050000 373px)"></i><i style="top:45px;height:8px;background:linear-gradient(90deg,#050000,#050000 176px,#390000 177px,#390000 196px,#050000 197px,#050000 373px)"></i><i style="top:53px;height:8px;background:linear-gradient(90deg,#050000,#050000 176px,#3c0000 177px,#3c0000 196px,#050000 197px,#050000 373px)"></i><i style="top:61px;height:8px;background:linear-gradient(90deg,#050000,#050000 176px,#3f0000 177px,#3f0000 196px,#050000 197px,#050000 373px)"></i><i style="top:69px;height:8px;background:linear-gradient(90deg,#050000,#070000 176px,#430000 177px,#430000 196px,#070000 197px,#050000 373px)"></i><i style="top:77px;height:3px;background:linear-gradient(90deg,#050000,#0c0000 174px,#0f0000 176px,#470000 177px,#470000 196px,#0f0000 197px,#050000 223px,#050000 373px)"></i><i style="top:80px;height:3px;background:linear-gradient(90deg,#050000,#0c0000 169px,#150000 176px,#490000 177px,#490000 196px,#150000 197px,#050000 217px,#050000 373px)"></i><i style="top:83px;height:3px;background:linear-gradient(90deg,#050000,#0b0000 164px,#180000 176px,#4c0000 177px,#4c0000 196px,#180000 197px,#050000 223px,#050000 373px)"></i><i style="top:86px;height:3px;background:linear-gradient(90deg,#050000,#0b0000 159px,#190000 176px,#4f0000 177px,#4f0000 196px,#190000 197px,#050000 230px,#050000 373px)"></i><i style="top:89px;height:3px;background:linear-gradient(90deg,#050000,#0b0000 154px,#1a0000 176px,#530000 177px,#530000 196px,#1a0000 197px,#0b0000 219px,#050000 373px)"></i><i style="top:92px;height:3px;background:linear-gradient(90deg,#050000,#0b0000 149px,#1a0000 172px,#1b0000 176px,#570000 177px,#570000 196px,#1b0000 197px,#0d0000 222px,#050000 256px,#050000 373px)"></i><i style="top:95px;height:3px;background:linear-gradient(90deg,#050000,#0c0000 145px,#1a0000 170px,#1c0000 176px,#5c0000 177px,#5c0000 196px,#1c0000 197px,#0d0000 227px,#050000 264px,#050000 373px)"></i><i style="top:98px;height:3px;background:linear-gradient(90deg,#050000,#0c0000 140px,#1a0000 164px,#1d0000 176px,#620000 177px,#620000 196px,#1d0000 197px,#0f0000 231px,#050000 258px,#050000 373px)"></i><i style="top:101px;height:3px;background:linear-gradient(90deg,#050000,#0b0000 135px,#1a0000 158px,#1e0000 176px,#690000 177px,#690000 196px,#1e0000 197px,#0e0000 236px,#050000 264px,#050000 373px)"></i><i style="top:104px;height:3px;background:linear-gradient(90deg,#050000,#0b0000 130px,#190000 153px,#1f0000 176px,#710000 177px,#710000 196px,#1f0000 197px,#100000 240px,#050000 263px,#050000 373px)"></i><i style="top:107px;height:3px;background:linear-gradient(90deg,#050000,#0b0000 125px,#190000 147px,#210000 176px,#7b0000 177px,#7b0000 196px,#210000 197px,#0f0000 245px,#050000 269px,#050000 373px)"></i><i style="top:110px;height:2px;background:linear-gradient(90deg,#050000,#0b0000 121px,#190000 143px,#200 176px,#840000 177px,#840000 196px,#200 197px,#0f0000 249px,#050000 271px,#050000 373px)"></i><i style="top:112px;height:2px;background:linear-gradient(90deg,#050000,#0b0000 118px,#190000 140px,#230000 176px,#8d0000 177px,#8d0000 196px,#230000 197px,#100000 252px,#050000 274px,#050000 373px)"></i><i style="top:114px;height:2px;background:linear-gradient(90deg,#050000,#0c0000 115px,#190000 137px,#250000 176px,#960000 177px,#960000 196px,#250000 197px,#0f0000 256px,#050000 281px,#050000 373px)"></i><i style="top:116px;height:2px;background:linear-gradient(90deg,#050000,#0b0000 111px,#190000 132px,#260000 176px,#a00000 177px,#a00000 196px,#260000 197px,#0f0000 259px,#050000 282px,#050000 373px)"></i><i style="top:118px;height:2px;background:linear-gradient(90deg,#050000,#0b0000 108px,#190000 129px,#280000 176px,#ab0000 177px,#ab0000 196px,#280000 197px,#0f0000 262px,#050000 285px,#050000 373px)"></i><i style="top:120px;height:2px;background:linear-gradient(90deg,#050000,#0b0000 105px,#190000 127px,#2a0000 176px,#b70000 177px,#b70000 196px,#2a0000 197px,#100000 265px,#050000 287px,#050000 373px)"></i><i style="top:122px;height:2px;background:linear-gradient(90deg,#050000,#0c0000 102px,#190000 124px,#2b0000 175px,#2c0000 176px,#c40000 177px,#c40000 196px,#2c0000 197px,#1a0000 245px,#0d0000 270px,#050000 309px,#050000 373px)"></i><i style="top:124px;height:1px;background:linear-gradient(90deg,#050000,#0b0000 99px,#190000 120px,#290000 172px,#2d0000 176px,#ce0000 177px,#ce0000 196px,#2d0000 197px,#1b0000 240px,#0f0000 271px,#050000 293px,#050000 373px)"></i><i style="top:125px;height:1px;background:linear-gradient(90deg,#050000,#0c0000 98px,#190000 119px,#290000 171px,#2e0000 176px,#d50000 177px,#d50000 196px,#2e0000 197px,#1b0000 237px,#100000 272px,#050000 293px,#050000 373px)"></i><i style="top:126px;height:1px;background:linear-gradient(90deg,#050000,#0b0000 96px,#190000 117px,#290000 170px,#300000 176px,#d00 177px,#d00 196px,#300000 197px,#1c0000 235px,#100000 274px,#050000 296px,#050000 373px)"></i><i style="top:127px;height:1px;background:linear-gradient(90deg,#050000,#0b0000 94px,#190000 115px,#290000 169px,#310000 176px,#e50000 177px,#e50000 196px,#310000 197px,#1c0000 233px,#100000 275px,#050000 295px,#050000 373px)"></i><i style="top:128px;height:1px;background:linear-gradient(90deg,#050000,#0b0000 93px,#190000 114px,#2a0000 169px,#320000 176px,#ed0000 177px,#ed0000 196px,#320000 197px,#1d0000 232px,#100000 277px,#050000 298px,#050000 373px)"></i><i style="top:129px;height:1px;background:linear-gradient(90deg,#050000,#0b0000 91px,#190000 112px,#2a0000 168px,#340000 176px,#f50000 177px,#f50000 196px,#340000 197px,#1d0000 230px,#100 278px,#050000 298px,#050000 373px)"></i><i style="top:130px;height:1px;background:linear-gradient(90deg,#050000,#0c0000 90px,#190000 112px,#2a0000 167px,#350000 176px,#fd0000 177px,#fd0000 196px,#350000 197px,#1e0000 229px,#100000 280px,#050000 301px,#050000 373px)"></i><i style="top:131px;height:1px;background:linear-gradient(90deg,#050000,#0b0000 88px,#190000 109px,#2b0000 167px,#370000 176px,#ff0700 177px,#ff0700 196px,#370000 197px,#1f0000 228px,#100000 282px,#050000 303px,#050000 373px)"></i><i style="top:132px;height:1px;background:linear-gradient(90deg,#050000,#0b0000 86px,#190000 107px,#2b0000 166px,#390000 176px,#ff1000 177px,#ff1000 196px,#390000 197px,#1f0000 227px,#100 283px,#050000 303px,#050000 373px)"></i><i style="top:133px;height:1px;background:linear-gradient(90deg,#050000,#0c0000 85px,#190000 106px,#2b0000 165px,#3b0000 176px,#ff1900 177px,#ff1900 196px,#3b0000 197px,#200000 226px,#100000 285px,#050000 306px,#050000 373px)"></i><i style="top:134px;height:1px;background:linear-gradient(90deg,#050000,#0b0000 83px,#190000 104px,#2c0000 165px,#3d0000 176px,#ff2300 177px,#ff2300 196px,#3d0000 197px,#210000 225px,#100 286px,#050000 306px,#050000 373px)"></i><i style="top:135px;height:1px;background:linear-gradient(90deg,#050000,#0c0000 82px,#190000 104px,#2c0000 164px,#3f0000 176px,#ff2c00 177px,#ff2c00 196px,#3f0000 197px,#200 224px,#100000 288px,#050000 308px,#050000 373px)"></i><i style="top:136px;height:1px;background:linear-gradient(90deg,#050000,#0b0000 80px,#190000 101px,#2d0000 163px,#410000 176px,#ff3600 177px,#ff3600 196px,#410000 197px,#230000 223px,#100000 290px,#050000 311px,#050000 373px)"></i><i style="top:137px;height:1px;background:linear-gradient(90deg,#050000,#0b0000 78px,#190000 99px,#2e0000 163px,#400 176px,#ff4000 177px,#ff4000 196px,#400 197px,#240000 223px,#100 291px,#050000 311px,#050000 373px)"></i><i style="top:138px;height:1px;background:linear-gradient(90deg,#050000,#0c0000 77px,#190000 99px,#2f0000 162px,#470000 176px,#ff4b00 177px,#ff4b00 196px,#470000 197px,#260000 222px,#100000 293px,#050000 314px,#050000 373px)"></i><i style="top:139px;height:1px;background:linear-gradient(90deg,#050000,#0b0000 75px,#190000 96px,#2f0000 161px,#4a0000 176px,#f50 177px,#f50 196px,#4a0000 197px,#270000 222px,#100000 295px,#050000 316px,#050000 373px)"></i><i style="top:140px;height:1px;background:linear-gradient(90deg,#050000,#0c0000 74px,#190000 96px,#300000 160px,#4d0000 176px,#ff6000 177px,#ff6000 196px,#4d0000 197px,#290000 221px,#100 296px,#050000 316px,#050000 373px)"></i><i style="top:141px;height:1px;background:linear-gradient(90deg,#050000,#0b0000 72px,#190000 94px,#310000 159px,#510000 176px,#ff6a00 177px,#ff6a00 196px,#510000 197px,#2b0000 221px,#100000 298px,#050000 319px,#050000 373px)"></i><i style="top:142px;height:1px;background:linear-gradient(90deg,#050000,#0b0000 70px,#190000 91px,#320000 158px,#500 176px,#ff7500 177px,#ff7500 196px,#500 197px,#2c0000 221px,#0f0000 300px,#050000 322px,#050000 373px)"></i><i style="top:143px;height:1px;background:linear-gradient(90deg,#050000,#0c0000 69px,#190000 91px,#300 157px,#590000 176px,#ff8000 177px,#ff8000 196px,#590000 197px,#2f0000 220px,#0f0000 302px,#050000 325px,#050000 373px)"></i><i style="top:144px;height:1px;background:linear-gradient(90deg,#050000,#0b0000 67px,#190000 88px,#320000 154px,#5e0000 176px,#ff8b00 177px,#ff8b00 196px,#5e0000 197px,#310000 220px,#180000 292px,#050000 320px,#050000 373px)"></i><i style="top:145px;height:1px;background:linear-gradient(90deg,#050000,#0c0000 66px,#190000 88px,#340000 153px,#630000 176px,#ff9600 177px,#ff9600 196px,#630000 197px,#340000 220px,#190000 285px,#0c0000 307px,#050000 373px)"></i><i style="top:146px;height:1px;background:linear-gradient(90deg,#050000,#0c0000 64px,#190000 86px,#340000 150px,#5a0000 171px,#680000 176px,#ffa100 177px,#ffa100 196px,#680000 197px,#380000 219px,#1b0000 276px,#0f0000 307px,#050000 331px,#050000 373px)"></i><i style="top:147px;height:1px;background:linear-gradient(90deg,#050000,#0b0000 62px,#190000 83px,#300 146px,#570000 168px,#6e0000 176px,#ffac00 177px,#ffac00 196px,#6e0000 197px,#3b0000 219px,#1c0000 272px,#0f0000 308px,#050000 330px,#050000 373px)"></i><i style="top:148px;height:1px;background:linear-gradient(90deg,#050000,#0c0000 61px,#190000 83px,#320000 143px,#570000 166px,#740000 176px,#ffb800 177px,#ffb800 196px,#740000 197px,#3f0000 219px,#1e0000 268px,#100000 309px,#050000 329px,#050000 373px)"></i><i style="top:149px;height:1px;background:linear-gradient(90deg,#050000,#0b0000 59px,#190000 80px,#310000 139px,#590000 165px,#7b0000 176px,#ffc300 177px,#ffc300 196px,#7b0000 197px,#420000 219px,#1f0000 265px,#100000 311px,#050000 332px,#050000 373px)"></i><i style="top:150px;height:1px;background:linear-gradient(90deg,#050000,#0c0000 58px,#1a0000 81px,#320000 137px,#5c0000 164px,#820000 176px,#ffce00 177px,#ffce00 196px,#820000 197px,#460000 219px,#210000 262px,#0f0000 313px,#050000 335px,#050000 373px)"></i><i style="top:151px;height:1px;background:linear-gradient(90deg,#050000,#0c0000 56px,#190000 78px,#310000 134px,#5c0000 162px,#8a0000 176px,#ffd900 177px,#ffd900 196px,#8a0000 197px,#4b0000 219px,#200 260px,#100000 314px,#050000 335px,#050000 373px)"></i><i style="top:152px;height:1px;background:linear-gradient(90deg,#050000,#0b0000 54px,#190000 75px,#300000 131px,#5f0000 161px,#920000 176px,#ffe300 177px,#ffe300 196px,#920000 197px,#4f0000 219px,#250000 257px,#100000 316px,#050000 337px,#050000 373px)"></i><i style="top:153px;height:1px;background:linear-gradient(90deg,#050000,#0c0000 53px,#190000 75px,#300000 129px,#620000 160px,#9a0000 176px,#fe0 177px,#fe0 196px,#9a0000 197px,#540000 219px,#260000 256px,#0f0000 318px,#050000 341px,#050000 373px)"></i><i style="top:154px;height:1px;background:linear-gradient(90deg,#050000,#0b0000 51px,#190000 73px,#300000 127px,#630000 158px,#a30000 176px,#fff900 177px,#fff900 196px,#a30000 197px,#590000 219px,#290000 254px,#100000 319px,#050000 340px,#050000 373px)"></i><i style="top:155px;height:1px;background:linear-gradient(90deg,#050000,#0c0000 50px,#1a0000 73px,#300000 125px,#600 157px,#ac0000 176px,#ffff06 177px,#ffff06 196px,#ac0000 197px,#5e0000 219px,#2b0000 253px,#0f0000 321px,#050000 343px,#050000 373px)"></i><i style="top:156px;height:1px;background:linear-gradient(90deg,#050000,#0c0000 48px,#190000 70px,#2f0000 123px,#600 155px,#b60000 176px,#ffff16 177px,#ffff16 196px,#b60000 197px,#640000 219px,#2e0000 251px,#190000 308px,#050000 341px,#050000 373px)"></i><i style="top:157px;height:1px;background:linear-gradient(90deg,#050000,#0b0000 46px,#190000 67px,#2f0000 121px,#640000 152px,#ae0000 172px,#bf0000 176px,#ffff25 177px,#ffff25 196px,#bf0000 197px,#690000 219px,#310000 250px,#1a0000 300px,#0e0000 325px,#050000 351px,#050000 373px)"></i><i style="top:158px;height:1px;background:linear-gradient(90deg,#050000,#0c0000 45px,#190000 67px,#2f0000 120px,#670000 151px,#ad0000 170px,#c90000 176px,#ff3 177px,#ff3 196px,#c90000 197px,#6f0000 219px,#300 249px,#1b0000 294px,#0f0000 326px,#050000 348px,#050000 373px)"></i><i style="top:159px;height:1px;background:linear-gradient(90deg,#050000,#0c0000 43px,#190000 65px,#2e0000 118px,#640000 148px,#ac0000 168px,#d30000 176px,#ffff42 177px,#ffff42 196px,#d30000 197px,#750000 219px,#370000 248px,#1d0000 288px,#100000 327px,#050000 348px,#050000 373px)"></i><i style="top:160px;height:1px;background:linear-gradient(90deg,#050000,#0c0000 42px,#190000 65px,#2e0000 117px,#640000 146px,#ab0000 166px,#dc0000 176px,#ffff50 177px,#ffff50 196px,#dc0000 197px,#7b0000 219px,#3a0000 247px,#1e0000 284px,#100000 329px,#050000 351px,#050000 373px)"></i><i style="top:161px;height:1px;background:linear-gradient(90deg,#050000,#0c0000 40px,#190000 62px,#2d0000 115px,#600000 143px,#a90000 164px,#e60000 176px,#ffff5d 177px,#ffff5d 196px,#e60000 197px,#810000 219px,#3d0000 246px,#1f0000 280px,#100000 330px,#050000 350px,#050000 373px)"></i><i style="top:162px;height:1px;background:linear-gradient(90deg,#050000,#0d0000 39px,#1a0000 63px,#2e0000 115px,#610000 142px,#ac0000 163px,#f00000 176px,#ffff6a 177px,#ffff6a 196px,#f00000 197px,#870000 219px,#3f0000 246px,#200000 279px,#100000 332px,#050000 353px,#050000 373px)"></i><i style="top:163px;height:1px;background:linear-gradient(90deg,#050000,#0c0000 37px,#190000 59px,#2d0000 113px,#5f0000 140px,#ae0000 162px,#f90000 176px,#ffff76 177px,#ffff76 196px,#f90000 197px,#8c0000 219px,#430000 245px,#200 276px,#0f0000 334px,#050000 356px,#050000 373px)"></i><i style="top:164px;height:1px;background:linear-gradient(90deg,#050000,#0c0000 35px,#190000 57px,#2d0000 112px,#5d0000 138px,#b00000 161px,#ff0300 176px,#ffff82 177px,#ffff82 196px,#ff0300 197px,#8a0000 221px,#410000 247px,#210000 278px,#100000 335px,#050000 356px,#050000 373px)"></i><i style="top:165px;height:1px;background:linear-gradient(90deg,#050000,#050000 15px,#420000 16px,#400000 26px,#180000 45px,#200 71px,#700000 107px,#b00 123px,#ff0300 133px,#ffff04 162px,#ffff6b 172px,#ffffa0 181px,#ffffa7 189px,#ffff82 198px,#ffff27 208px,#fffa00 212px,#ff0300 240px,#950000 257px,#560000 275px,#1a0000 308px,#1e0000 333px,#460000 353px,#420000 357px,#050000 358px,#050000 373px)"></i><i style="top:166px;height:1px;background:linear-gradient(90deg,#050000,#050000 15px,#420000 16px,#400000 26px,#180000 45px,#200 71px,#700000 107px,#b00 123px,#ff0300 133px,#ffff04 162px,#ffff6b 172px,#ff8 176px,#ffff98 177px,#ffffa9 188px,#ffff98 196px,#ffff82 198px,#ffff27 208px,#fffa00 212px,#ff0300 240px,#950000 257px,#560000 275px,#1b0000 308px,#1e0000 333px,#460000 353px,#420000 357px,#050000 358px,#050000 373px)"></i><i style="top:167px;height:1px;background:linear-gradient(90deg,#050000,#050000 15px,#420000 16px,#400000 26px,#180000 45px,#200 71px,#700000 107px,#b00 123px,#ff0300 133px,#ffff04 162px,#ffff6b 172px,#ff8 176px,#ffffa2 177px,#ffffa6 190px,#ffffa2 196px,#ff8 197px,#ffff32 207px,#fffa00 212px,#ff0300 240px,#950000 257px,#560000 275px,#1b0000 308px,#1e0000 333px,#460000 353px,#420000 357px,#050000 358px,#050000 373px)"></i><i style="top:168px;height:1px;background:linear-gradient(90deg,#050000,#050000 15px,#420000 16px,#400000 26px,#180000 45px,#200 71px,#700000 107px,#b00 123px,#ff0300 133px,#ffff04 162px,#ffff6b 172px,#ff8 176px,#ffffac 177px,#ffffac 196px,#ff8 197px,#ffff32 207px,#fffa00 212px,#ff0300 240px,#950000 257px,#560000 275px,#1b0000 308px,#1e0000 333px,#460000 353px,#420000 357px,#050000 358px,#050000 373px)"></i><i style="top:169px;height:1px;background:linear-gradient(90deg,#050000,#050000 15px,#420000 16px,#400000 26px,#190000 45px,#200 71px,#700000 107px,#b00 123px,#ff0300 133px,#ffff04 162px,#ffff6b 172px,#ff8 176px,#ffffb4 177px,#ffffb4 196px,#ff8 197px,#ffff32 207px,#fffa00 212px,#ff0300 240px,#950000 257px,#560000 275px,#1b0000 308px,#1e0000 333px,#460000 353px,#420000 357px,#050000 358px,#050000 373px)"></i><i style="top:170px;height:1px;background:linear-gradient(90deg,#050000,#050000 15px,#420000 16px,#400000 26px,#190000 45px,#200 71px,#700000 107px,#b00 123px,#ff0300 133px,#ffff04 162px,#ffff6b 172px,#ff8 176px,#ffffbc 177px,#ffffbc 196px,#ff8 197px,#ffff32 207px,#fffa00 212px,#ff0300 240px,#950000 257px,#560000 275px,#1b0000 308px,#1e0000 333px,#460000 353px,#420000 357px,#050000 358px,#050000 373px)"></i><i style="top:171px;height:2px;background:linear-gradient(90deg,#050000,#050000 15px,#420000 16px,#400000 26px,#190000 45px,#200 71px,#700000 107px,#b00 123px,#ff0300 133px,#ffff04 162px,#ffff6b 172px,#ff8 176px,#ffffc7 177px,#ffffc7 196px,#ff8 197px,#ffff32 207px,#fffa00 212px,#ff0300 240px,#950000 257px,#560000 275px,#1c0000 308px,#1e0000 333px,#460000 353px,#420000 357px,#050000 358px,#050000 373px)"></i><i style="top:173px;height:4px;background:linear-gradient(90deg,#050000,#060000 15px,#420000 16px,#400000 26px,#190000 45px,#200 71px,#700000 107px,#b00 123px,#ff0300 133px,#ffff04 162px,#ffff6b 172px,#ff8 176px,#ffc 177px,#ffc 196px,#ff8 197px,#ffff32 207px,#fffa00 212px,#ff0300 240px,#950000 257px,#560000 275px,#1c0000 307px,#1e0000 333px,#460000 353px,#420000 357px,#060000 358px,#050000 373px)"></i><i style="top:177px;height:1px;background:linear-gradient(90deg,#050000,#050000 15px,#420000 16px,#400000 26px,#190000 45px,#200 71px,#700000 107px,#b00 123px,#ff0300 133px,#ffff04 162px,#ffff6b 172px,#ff8 176px,#ffffc4 177px,#ffffc4 196px,#ff8 197px,#ffff32 207px,#fffa00 212px,#ff0300 240px,#950000 257px,#560000 275px,#1c0000 308px,#1e0000 333px,#460000 353px,#420000 357px,#050000 358px,#050000 373px)"></i><i style="top:178px;height:1px;background:linear-gradient(90deg,#050000,#050000 15px,#420000 16px,#400000 26px,#190000 45px,#200 71px,#700000 107px,#b00 123px,#ff0300 133px,#ffff04 162px,#ffff6b 172px,#ff8 176px,#ffffbc 177px,#ffffbc 196px,#ff8 197px,#ffff32 207px,#fffa00 212px,#ff0300 240px,#950000 257px,#560000 275px,#1b0000 308px,#1e0000 333px,#460000 353px,#420000 357px,#050000 358px,#050000 373px)"></i><i style="top:179px;height:1px;background:linear-gradient(90deg,#050000,#050000 15px,#420000 16px,#400000 26px,#190000 45px,#200 71px,#700000 107px,#b00 123px,#ff0300 133px,#ffff04 162px,#ffff6b 172px,#ff8 176px,#ffffb4 177px,#ffffb4 196px,#ff8 197px,#ffff32 207px,#fffa00 212px,#ff0300 240px,#950000 257px,#560000 275px,#1b0000 308px,#1e0000 333px,#460000 353px,#420000 357px,#050000 358px,#050000 373px)"></i><i style="top:180px;height:1px;background:linear-gradient(90deg,#050000,#050000 15px,#420000 16px,#400000 26px,#180000 45px,#200 71px,#700000 107px,#b00 123px,#ff0300 133px,#ffff04 162px,#ffff6b 172px,#ff8 176px,#ffffac 177px,#ffffac 196px,#ff8 197px,#ffff32 207px,#fffa00 212px,#ff0300 240px,#950000 257px,#560000 275px,#1b0000 308px,#1e0000 333px,#460000 353px,#420000 357px,#050000 358px,#050000 373px)"></i><i style="top:181px;height:1px;background:linear-gradient(90deg,#050000,#050000 15px,#420000 16px,#400000 26px,#180000 45px,#200 71px,#700000 107px,#b00 123px,#ff0300 133px,#ffff04 162px,#ffff6b 172px,#ff8 176px,#ffffa2 177px,#ffffa6 190px,#ffffa2 196px,#ff8 197px,#ffff32 207px,#fffa00 212px,#ff0300 240px,#950000 257px,#560000 275px,#1b0000 308px,#1e0000 333px,#460000 353px,#420000 357px,#050000 358px,#050000 373px)"></i><i style="top:182px;height:1px;background:linear-gradient(90deg,#050000,#050000 15px,#420000 16px,#400000 26px,#180000 45px,#200 71px,#700000 107px,#b00 123px,#ff0300 133px,#ffff04 162px,#ffff6b 172px,#ff8 176px,#ffff98 177px,#ffffa9 188px,#ffff98 196px,#ffff82 198px,#ffff27 208px,#fffa00 212px,#ff0300 240px,#950000 257px,#560000 275px,#1b0000 308px,#1e0000 333px,#460000 353px,#420000 357px,#050000 358px,#050000 373px)"></i><i style="top:183px;height:1px;background:linear-gradient(90deg,#050000,#050000 15px,#420000 16px,#400000 26px,#180000 45px,#200 71px,#700000 107px,#b00 123px,#ff0300 133px,#ffff04 162px,#ffff6b 172px,#ffffa0 181px,#ffffa7 189px,#ffff82 198px,#ffff27 208px,#fffa00 212px,#ff0300 240px,#950000 257px,#560000 275px,#1a0000 308px,#1e0000 333px,#460000 353px,#420000 357px,#050000 358px,#050000 373px)"></i><i style="top:184px;height:1px;background:linear-gradient(90deg,#050000,#0c0000 35px,#190000 57px,#2d0000 112px,#5d0000 138px,#b00000 161px,#ff0300 176px,#ffff82 177px,#ffff82 196px,#ff0300 197px,#8a0000 221px,#410000 247px,#210000 278px,#100000 335px,#050000 356px,#050000 373px)"></i><i style="top:185px;height:1px;background:linear-gradient(90deg,#050000,#0c0000 37px,#190000 59px,#2d0000 113px,#5f0000 140px,#ae0000 162px,#f90000 176px,#ffff76 177px,#ffff76 196px,#f90000 197px,#8c0000 219px,#430000 245px,#200 276px,#0f0000 334px,#050000 356px,#050000 373px)"></i><i style="top:186px;height:1px;background:linear-gradient(90deg,#050000,#0d0000 39px,#1a0000 63px,#2e0000 115px,#610000 142px,#ac0000 163px,#f00000 176px,#ffff6a 177px,#ffff6a 196px,#f00000 197px,#870000 219px,#3f0000 246px,#200000 279px,#100000 332px,#050000 353px,#050000 373px)"></i><i style="top:187px;height:1px;background:linear-gradient(90deg,#050000,#0c0000 40px,#190000 62px,#2d0000 115px,#600000 143px,#a90000 164px,#e60000 176px,#ffff5d 177px,#ffff5d 196px,#e60000 197px,#810000 219px,#3d0000 246px,#1f0000 280px,#100000 330px,#050000 350px,#050000 373px)"></i><i style="top:188px;height:1px;background:linear-gradient(90deg,#050000,#0c0000 42px,#190000 65px,#2e0000 117px,#640000 146px,#ab0000 166px,#dc0000 176px,#ffff50 177px,#ffff50 196px,#dc0000 197px,#7b0000 219px,#3a0000 247px,#1e0000 284px,#100000 329px,#050000 351px,#050000 373px)"></i><i style="top:189px;height:1px;background:linear-gradient(90deg,#050000,#0c0000 43px,#190000 65px,#2e0000 118px,#640000 148px,#ac0000 168px,#d30000 176px,#ffff42 177px,#ffff42 196px,#d30000 197px,#750000 219px,#370000 248px,#1d0000 288px,#100000 327px,#050000 348px,#050000 373px)"></i><i style="top:190px;height:1px;background:linear-gradient(90deg,#050000,#0c0000 45px,#190000 67px,#2f0000 120px,#670000 151px,#ad0000 170px,#c90000 176px,#ff3 177px,#ff3 196px,#c90000 197px,#6f0000 219px,#300 249px,#1b0000 294px,#0f0000 326px,#050000 348px,#050000 373px)"></i><i style="top:191px;height:1px;background:linear-gradient(90deg,#050000,#0b0000 46px,#190000 67px,#2f0000 121px,#640000 152px,#ae0000 172px,#bf0000 176px,#ffff25 177px,#ffff25 196px,#bf0000 197px,#690000 219px,#310000 250px,#1a0000 300px,#0e0000 325px,#050000 351px,#050000 373px)"></i><i style="top:192px;height:1px;background:linear-gradient(90deg,#050000,#0c0000 48px,#190000 70px,#2f0000 123px,#600 155px,#b60000 176px,#ffff16 177px,#ffff16 196px,#b60000 197px,#640000 219px,#2e0000 251px,#190000 308px,#050000 341px,#050000 373px)"></i><i style="top:193px;height:1px;background:linear-gradient(90deg,#050000,#0c0000 50px,#1a0000 73px,#300000 125px,#600 157px,#ac0000 176px,#ffff06 177px,#ffff06 196px,#ac0000 197px,#5e0000 219px,#2b0000 253px,#0f0000 321px,#050000 343px,#050000 373px)"></i><i style="top:194px;height:1px;background:linear-gradient(90deg,#050000,#0b0000 51px,#190000 73px,#300000 127px,#630000 158px,#a30000 176px,#fff900 177px,#fff900 196px,#a30000 197px,#590000 219px,#290000 254px,#100000 319px,#050000 340px,#050000 373px)"></i><i style="top:195px;height:1px;background:linear-gradient(90deg,#050000,#0c0000 53px,#190000 75px,#300000 129px,#620000 160px,#9a0000 176px,#fe0 177px,#fe0 196px,#9a0000 197px,#540000 219px,#260000 256px,#0f0000 318px,#050000 341px,#050000 373px)"></i><i style="top:196px;height:1px;background:linear-gradient(90deg,#050000,#0b0000 54px,#190000 75px,#300000 131px,#5f0000 161px,#920000 176px,#ffe300 177px,#ffe300 196px,#920000 197px,#4f0000 219px,#250000 257px,#100000 316px,#050000 337px,#050000 373px)"></i><i style="top:197px;height:1px;background:linear-gradient(90deg,#050000,#0c0000 56px,#190000 78px,#310000 134px,#5c0000 162px,#8a0000 176px,#ffd900 177px,#ffd900 196px,#8a0000 197px,#4b0000 219px,#200 260px,#100000 314px,#050000 335px,#050000 373px)"></i><i style="top:198px;height:1px;background:linear-gradient(90deg,#050000,#0c0000 58px,#1a0000 81px,#320000 137px,#5c0000 164px,#820000 176px,#ffce00 177px,#ffce00 196px,#820000 197px,#460000 219px,#210000 262px,#0f0000 313px,#050000 335px,#050000 373px)"></i><i style="top:199px;height:1px;background:linear-gradient(90deg,#050000,#0b0000 59px,#190000 80px,#310000 139px,#590000 165px,#7b0000 176px,#ffc300 177px,#ffc300 196px,#7b0000 197px,#420000 219px,#1f0000 265px,#100000 311px,#050000 332px,#050000 373px)"></i><i style="top:200px;height:1px;background:linear-gradient(90deg,#050000,#0c0000 61px,#190000 83px,#320000 143px,#570000 166px,#740000 176px,#ffb800 177px,#ffb800 196px,#740000 197px,#3f0000 219px,#1e0000 268px,#100000 309px,#050000 329px,#050000 373px)"></i><i style="top:201px;height:1px;background:linear-gradient(90deg,#050000,#0b0000 62px,#190000 83px,#300 146px,#570000 168px,#6e0000 176px,#ffac00 177px,#ffac00 196px,#6e0000 197px,#3b0000 219px,#1c0000 272px,#0f0000 308px,#050000 330px,#050000 373px)"></i><i style="top:202px;height:1px;background:linear-gradient(90deg,#050000,#0c0000 64px,#190000 86px,#340000 150px,#5a0000 171px,#680000 176px,#ffa100 177px,#ffa100 196px,#680000 197px,#380000 219px,#1b0000 276px,#0f0000 307px,#050000 331px,#050000 373px)"></i><i style="top:203px;height:1px;background:linear-gradient(90deg,#050000,#0c0000 66px,#190000 88px,#340000 153px,#630000 176px,#ff9600 177px,#ff9600 196px,#630000 197px,#340000 220px,#190000 285px,#0c0000 307px,#050000 373px)"></i><i style="top:204px;height:1px;background:linear-gradient(90deg,#050000,#0b0000 67px,#190000 88px,#320000 154px,#5e0000 176px,#ff8b00 177px,#ff8b00 196px,#5e0000 197px,#310000 220px,#180000 292px,#050000 320px,#050000 373px)"></i><i style="top:205px;height:1px;background:linear-gradient(90deg,#050000,#0c0000 69px,#190000 91px,#300 157px,#590000 176px,#ff8000 177px,#ff8000 196px,#590000 197px,#2f0000 220px,#0f0000 302px,#050000 325px,#050000 373px)"></i><i style="top:206px;height:1px;background:linear-gradient(90deg,#050000,#0b0000 70px,#190000 91px,#320000 158px,#500 176px,#ff7500 177px,#ff7500 196px,#500 197px,#2c0000 221px,#0f0000 300px,#050000 322px,#050000 373px)"></i><i style="top:207px;height:1px;background:linear-gradient(90deg,#050000,#0b0000 72px,#190000 94px,#310000 159px,#510000 176px,#ff6a00 177px,#ff6a00 196px,#510000 197px,#2b0000 221px,#100000 298px,#050000 319px,#050000 373px)"></i><i style="top:208px;height:1px;background:linear-gradient(90deg,#050000,#0c0000 74px,#190000 96px,#300000 160px,#4d0000 176px,#ff6000 177px,#ff6000 196px,#4d0000 197px,#290000 221px,#100 296px,#050000 316px,#050000 373px)"></i><i style="top:209px;height:1px;background:linear-gradient(90deg,#050000,#0b0000 75px,#190000 96px,#2f0000 161px,#4a0000 176px,#f50 177px,#f50 196px,#4a0000 197px,#270000 222px,#100000 295px,#050000 316px,#050000 373px)"></i><i style="top:210px;height:1px;background:linear-gradient(90deg,#050000,#0c0000 77px,#190000 99px,#2f0000 162px,#470000 176px,#ff4b00 177px,#ff4b00 196px,#470000 197px,#260000 222px,#100000 293px,#050000 314px,#050000 373px)"></i><i style="top:211px;height:1px;background:linear-gradient(90deg,#050000,#0b0000 78px,#190000 99px,#2e0000 163px,#400 176px,#ff4000 177px,#ff4000 196px,#400 197px,#240000 223px,#100 291px,#050000 311px,#050000 373px)"></i><i style="top:212px;height:1px;background:linear-gradient(90deg,#050000,#0b0000 80px,#190000 101px,#2d0000 163px,#410000 176px,#ff3600 177px,#ff3600 196px,#410000 197px,#230000 223px,#100000 290px,#050000 311px,#050000 373px)"></i><i style="top:213px;height:1px;background:linear-gradient(90deg,#050000,#0c0000 82px,#190000 104px,#2c0000 164px,#3f0000 176px,#ff2c00 177px,#ff2c00 196px,#3f0000 197px,#200 224px,#100000 288px,#050000 308px,#050000 373px)"></i><i style="top:214px;height:1px;background:linear-gradient(90deg,#050000,#0b0000 83px,#190000 104px,#2c0000 165px,#3d0000 176px,#ff2300 177px,#ff2300 196px,#3d0000 197px,#210000 225px,#100 286px,#050000 306px,#050000 373px)"></i><i style="top:215px;height:1px;background:linear-gradient(90deg,#050000,#0c0000 85px,#190000 106px,#2b0000 165px,#3b0000 176px,#ff1900 177px,#ff1900 196px,#3b0000 197px,#200000 226px,#100000 285px,#050000 306px,#050000 373px)"></i><i style="top:216px;height:1px;background:linear-gradient(90deg,#050000,#0b0000 86px,#190000 107px,#2b0000 166px,#390000 176px,#ff1000 177px,#ff1000 196px,#390000 197px,#1f0000 227px,#100 283px,#050000 303px,#050000 373px)"></i><i style="top:217px;height:1px;background:linear-gradient(90deg,#050000,#0b0000 88px,#190000 109px,#2b0000 167px,#370000 176px,#ff0700 177px,#ff0700 196px,#370000 197px,#1f0000 228px,#100000 282px,#050000 303px,#050000 373px)"></i><i style="top:218px;height:1px;background:linear-gradient(90deg,#050000,#0c0000 90px,#190000 112px,#2a0000 167px,#350000 176px,#fd0000 177px,#fd0000 196px,#350000 197px,#1e0000 229px,#100000 280px,#050000 301px,#050000 373px)"></i><i style="top:219px;height:1px;background:linear-gradient(90deg,#050000,#0b0000 91px,#190000 112px,#2a0000 168px,#340000 176px,#f50000 177px,#f50000 196px,#340000 197px,#1d0000 230px,#100 278px,#050000 298px,#050000 373px)"></i><i style="top:220px;height:1px;background:linear-gradient(90deg,#050000,#0b0000 93px,#190000 114px,#2a0000 169px,#320000 176px,#ed0000 177px,#ed0000 196px,#320000 197px,#1d0000 232px,#100000 277px,#050000 298px,#050000 373px)"></i><i style="top:221px;height:1px;background:linear-gradient(90deg,#050000,#0b0000 94px,#190000 115px,#290000 169px,#310000 176px,#e50000 177px,#e50000 196px,#310000 197px,#1c0000 233px,#100000 275px,#050000 295px,#050000 373px)"></i><i style="top:222px;height:1px;background:linear-gradient(90deg,#050000,#0b0000 96px,#190000 117px,#290000 170px,#300000 176px,#d00 177px,#d00 196px,#300000 197px,#1c0000 235px,#100000 274px,#050000 296px,#050000 373px)"></i><i style="top:223px;height:1px;background:linear-gradient(90deg,#050000,#0c0000 98px,#190000 119px,#290000 171px,#2e0000 176px,#d50000 177px,#d50000 196px,#2e0000 197px,#1b0000 237px,#100000 272px,#050000 293px,#050000 373px)"></i><i style="top:224px;height:2px;background:linear-gradient(90deg,#050000,#0b0000 100px,#190000 121px,#2a0000 173px,#2d0000 176px,#ca0000 177px,#ca0000 196px,#2d0000 197px,#1a0000 242px,#0f0000 270px,#050000 292px,#050000 373px)"></i><i style="top:226px;height:2px;background:linear-gradient(90deg,#050000,#0b0000 103px,#190000 124px,#2b0000 176px,#bd0000 177px,#bd0000 196px,#2b0000 197px,#190000 249px,#0b0000 270px,#050000 373px)"></i><i style="top:228px;height:2px;background:linear-gradient(90deg,#050000,#0c0000 107px,#190000 129px,#290000 176px,#b10000 177px,#b10000 196px,#290000 197px,#0f0000 264px,#050000 288px,#050000 373px)"></i><i style="top:230px;height:2px;background:linear-gradient(90deg,#050000,#0b0000 110px,#190000 132px,#270000 176px,#a50000 177px,#a50000 196px,#270000 197px,#100000 260px,#050000 281px,#050000 373px)"></i><i style="top:232px;height:2px;background:linear-gradient(90deg,#050000,#0b0000 113px,#190000 135px,#260000 176px,#9b0000 177px,#9b0000 196px,#260000 197px,#100000 257px,#050000 279px,#050000 373px)"></i><i style="top:234px;height:2px;background:linear-gradient(90deg,#050000,#0b0000 116px,#190000 137px,#240000 176px,#910000 177px,#910000 196px,#240000 197px,#0f0000 254px,#050000 277px,#050000 373px)"></i><i style="top:236px;height:2px;background:linear-gradient(90deg,#050000,#0c0000 120px,#190000 142px,#230000 176px,#800 177px,#800 196px,#230000 197px,#0f0000 251px,#050000 275px,#050000 373px)"></i><i style="top:238px;height:2px;background:linear-gradient(90deg,#050000,#0c0000 123px,#190000 145px,#200 176px,#800000 177px,#800000 196px,#200 197px,#100000 247px,#050000 268px,#050000 373px)"></i><i style="top:240px;height:3px;background:linear-gradient(90deg,#050000,#0b0000 127px,#190000 150px,#200000 176px,#780000 177px,#780000 196px,#200000 197px,#0e0000 244px,#050000 271px,#050000 373px)"></i><i style="top:243px;height:3px;background:linear-gradient(90deg,#050000,#0c0000 132px,#190000 155px,#1f0000 176px,#6e0000 177px,#6e0000 196px,#1f0000 197px,#0f0000 239px,#050000 265px,#050000 373px)"></i><i style="top:246px;height:3px;background:linear-gradient(90deg,#050000,#0b0000 136px,#1a0000 159px,#1e0000 176px,#670000 177px,#670000 196px,#1e0000 197px,#0f0000 234px,#050000 259px,#050000 373px)"></i><i style="top:249px;height:3px;background:linear-gradient(90deg,#050000,#0b0000 141px,#1a0000 164px,#1c0000 176px,#600000 177px,#600000 196px,#1c0000 197px,#0e0000 230px,#050000 263px,#050000 373px)"></i><i style="top:252px;height:3px;background:linear-gradient(90deg,#050000,#0b0000 146px,#1a0000 169px,#1b0000 176px,#5a0000 177px,#5a0000 196px,#1b0000 197px,#0e0000 225px,#050000 256px,#050000 373px)"></i><i style="top:255px;height:3px;background:linear-gradient(90deg,#050000,#0b0000 151px,#1a0000 174px,#1a0000 176px,#560000 177px,#560000 196px,#1a0000 197px,#0d0000 221px,#050000 274px,#050000 373px)"></i><i style="top:258px;height:3px;background:linear-gradient(90deg,#050000,#0b0000 156px,#1a0000 176px,#510000 177px,#510000 196px,#1a0000 197px,#050000 234px,#050000 373px)"></i><i style="top:261px;height:3px;background:linear-gradient(90deg,#050000,#0c0000 161px,#190000 176px,#4e0000 177px,#4e0000 196px,#190000 197px,#050000 227px,#050000 373px)"></i><i style="top:264px;height:3px;background:linear-gradient(90deg,#050000,#0b0000 165px,#180000 176px,#4b0000 177px,#4b0000 196px,#180000 197px,#050000 221px,#050000 373px)"></i><i style="top:267px;height:3px;background:linear-gradient(90deg,#050000,#0b0000 170px,#130000 176px,#480000 177px,#480000 196px,#130000 197px,#050000 217px,#050000 373px)"></i><i style="top:270px;height:4px;background:linear-gradient(90deg,#050000,#0b0000 176px,#460000 177px,#460000 196px,#0b0000 197px,#050000 373px)"></i><i style="top:274px;height:8px;background:linear-gradient(90deg,#050000,#060000 176px,#420000 177px,#420000 196px,#060000 197px,#050000 373px)"></i><i style="top:282px;height:8px;background:linear-gradient(90deg,#050000,#050000 176px,#3e0000 177px,#3e0000 196px,#050000 197px,#050000 373px)"></i><i style="top:290px;height:8px;background:linear-gradient(90deg,#050000,#050000 176px,#3b0000 177px,#3b0000 196px,#050000 197px,#050000 373px)"></i><i style="top:298px;height:8px;background:linear-gradient(90deg,#050000,#050000 176px,#380000 177px,#380000 196px,#050000 197px,#050000 373px)"></i><i style="top:306px;height:8px;background:linear-gradient(90deg,#050000,#050000 176px,#360000 177px,#360000 196px,#050000 197px,#050000 373px)"></i><i style="top:314px;height:8px;background:linear-gradient(90deg,#050000,#050000 176px,#340000 177px,#340000 196px,#050000 197px,#050000 373px)"></i><i style="top:322px;height:8px;background:linear-gradient(90deg,#050000,#050000 176px,#300 177px,#300 196px,#050000 197px,#050000 373px)"></i><i style="top:330px;height:5px;background:linear-gradient(90deg,#050000,#050000 176px,#320000 177px,#320000 196px,#050000 197px,#050000 373px)"></i><i style="top:335px;height:8px;background:#050000"></i><i style="top:343px;height:7px;background:#050000"></i>
</div>
<svg width="2427" height="1859" viewBox="0 0 2427 1859">
<rect x="240.0" y="76.0" width="942.5" height="758.0" fill="none" stroke="#000" stroke-width="3.6"/>
<line x1="318.5" y1="834.0" x2="318.5" y2="826.5" stroke="#000" stroke-width="3.2"/>
<line x1="318.5" y1="76.0" x2="318.5" y2="83.5" stroke="#000" stroke-width="3.2"/>
<line x1="397.1" y1="834.0" x2="397.1" y2="819.5" stroke="#000" stroke-width="3.2"/>
<line x1="397.1" y1="76.0" x2="397.1" y2="90.5" stroke="#000" stroke-width="3.2"/>
<line x1="475.6" y1="834.0" x2="475.6" y2="826.5" stroke="#000" stroke-width="3.2"/>
<line x1="475.6" y1="76.0" x2="475.6" y2="83.5" stroke="#000" stroke-width="3.2"/>
<line x1="554.2" y1="834.0" x2="554.2" y2="819.5" stroke="#000" stroke-width="3.2"/>
<line x1="554.2" y1="76.0" x2="554.2" y2="90.5" stroke="#000" stroke-width="3.2"/>
<line x1="632.7" y1="834.0" x2="632.7" y2="826.5" stroke="#000" stroke-width="3.2"/>
<line x1="632.7" y1="76.0" x2="632.7" y2="83.5" stroke="#000" stroke-width="3.2"/>
<line x1="711.2" y1="834.0" x2="711.2" y2="819.5" stroke="#000" stroke-width="3.2"/>
<line x1="711.2" y1="76.0" x2="711.2" y2="90.5" stroke="#000" stroke-width="3.2"/>
<line x1="789.8" y1="834.0" x2="789.8" y2="826.5" stroke="#000" stroke-width="3.2"/>
<line x1="789.8" y1="76.0" x2="789.8" y2="83.5" stroke="#000" stroke-width="3.2"/>
<line x1="868.3" y1="834.0" x2="868.3" y2="819.5" stroke="#000" stroke-width="3.2"/>
<line x1="868.3" y1="76.0" x2="868.3" y2="90.5" stroke="#000" stroke-width="3.2"/>
<line x1="946.9" y1="834.0" x2="946.9" y2="826.5" stroke="#000" stroke-width="3.2"/>
<line x1="946.9" y1="76.0" x2="946.9" y2="83.5" stroke="#000" stroke-width="3.2"/>
<line x1="1025.4" y1="834.0" x2="1025.4" y2="819.5" stroke="#000" stroke-width="3.2"/>
<line x1="1025.4" y1="76.0" x2="1025.4" y2="90.5" stroke="#000" stroke-width="3.2"/>
<line x1="1104.0" y1="834.0" x2="1104.0" y2="826.5" stroke="#000" stroke-width="3.2"/>
<line x1="1104.0" y1="76.0" x2="1104.0" y2="83.5" stroke="#000" stroke-width="3.2"/>
<line x1="240.0" y1="758.2" x2="247.5" y2="758.2" stroke="#000" stroke-width="3.2"/>
<line x1="1182.5" y1="758.2" x2="1175.0" y2="758.2" stroke="#000" stroke-width="3.2"/>
<line x1="240.0" y1="682.4" x2="254.5" y2="682.4" stroke="#000" stroke-width="3.2"/>
<line x1="1182.5" y1="682.4" x2="1168.0" y2="682.4" stroke="#000" stroke-width="3.2"/>
<line x1="240.0" y1="606.6" x2="247.5" y2="606.6" stroke="#000" stroke-width="3.2"/>
<line x1="1182.5" y1="606.6" x2="1175.0" y2="606.6" stroke="#000" stroke-width="3.2"/>
<line x1="240.0" y1="530.8" x2="254.5" y2="530.8" stroke="#000" stroke-width="3.2"/>
<line x1="1182.5" y1="530.8" x2="1168.0" y2="530.8" stroke="#000" stroke-width="3.2"/>
<line x1="240.0" y1="455.0" x2="247.5" y2="455.0" stroke="#000" stroke-width="3.2"/>
<line x1="1182.5" y1="455.0" x2="1175.0" y2="455.0" stroke="#000" stroke-width="3.2"/>
<line x1="240.0" y1="379.2" x2="254.5" y2="379.2" stroke="#000" stroke-width="3.2"/>
<line x1="1182.5" y1="379.2" x2="1168.0" y2="379.2" stroke="#000" stroke-width="3.2"/>
<line x1="240.0" y1="303.4" x2="247.5" y2="303.4" stroke="#000" stroke-width="3.2"/>
<line x1="1182.5" y1="303.4" x2="1175.0" y2="303.4" stroke="#000" stroke-width="3.2"/>
<line x1="240.0" y1="227.6" x2="254.5" y2="227.6" stroke="#000" stroke-width="3.2"/>
<line x1="1182.5" y1="227.6" x2="1168.0" y2="227.6" stroke="#000" stroke-width="3.2"/>
<line x1="240.0" y1="151.8" x2="247.5" y2="151.8" stroke="#000" stroke-width="3.2"/>
<line x1="1182.5" y1="151.8" x2="1175.0" y2="151.8" stroke="#000" stroke-width="3.2"/>
<text x="225.0" y="844.5" font-family="'Noto Sans CJK SC','Liberation Sans',sans-serif" font-size="40" fill="#000" text-anchor="end">0.0</text>
<text x="225.0" y="692.9" font-family="'Noto Sans CJK SC','Liberation Sans',sans-serif" font-size="40" fill="#000" text-anchor="end">0.2</text>
<text x="225.0" y="541.3" font-family="'Noto Sans CJK SC','Liberation Sans',sans-serif" font-size="40" fill="#000" text-anchor="end">0.4</text>
<text x="225.0" y="389.7" font-family="'Noto Sans CJK SC','Liberation Sans',sans-serif" font-size="40" fill="#000" text-anchor="end">0.6</text>
<text x="225.0" y="238.1" font-family="'Noto Sans CJK SC','Liberation Sans',sans-serif" font-size="40" fill="#000" text-anchor="end">0.8</text>
<text x="225.0" y="86.5" font-family="'Noto Sans CJK SC','Liberation Sans',sans-serif" font-size="40" fill="#000" text-anchor="end">1.0</text>
<text x="240.0" y="880.0" font-family="'Noto Sans CJK SC','Liberation Sans',sans-serif" font-size="39.5" fill="#000" text-anchor="middle">6</text>
<text x="397.1" y="880.0" font-family="'Noto Sans CJK SC','Liberation Sans',sans-serif" font-size="39.5" fill="#000" text-anchor="middle">7</text>
<text x="554.2" y="880.0" font-family="'Noto Sans CJK SC','Liberation Sans',sans-serif" font-size="39.5" fill="#000" text-anchor="middle">8</text>
<text x="711.2" y="880.0" font-family="'Noto Sans CJK SC','Liberation Sans',sans-serif" font-size="39.5" fill="#000" text-anchor="middle">9</text>
<text x="868.3" y="880.0" font-family="'Noto Sans CJK SC','Liberation Sans',sans-serif" font-size="39.5" fill="#000" text-anchor="middle">10</text>
<text x="1025.4" y="880.0" font-family="'Noto Sans CJK SC','Liberation Sans',sans-serif" font-size="39.5" fill="#000" text-anchor="middle">11</text>
<text x="1182.5" y="880.0" font-family="'Noto Sans CJK SC','Liberation Sans',sans-serif" font-size="39.5" fill="#000" text-anchor="middle">12</text>
<text x="496.0" y="929.2" font-family="'Noto Sans CJK SC','Liberation Sans',sans-serif" font-size="50.5" fill="#231815" textLength="398.0" lengthAdjust="spacingAndGlyphs">Wavelength(μm)</text>
<g transform="translate(142.4,602.4) rotate(-90)">
<text x="0.0" y="0.0" font-family="'Noto Sans CJK SC','Liberation Sans',sans-serif" font-size="50.5" fill="#231815" textLength="275.4" lengthAdjust="spacingAndGlyphs">Reflectance</text>
</g>
<text x="27.0" y="108.0" font-family="'Noto Sans CJK SC','Liberation Sans',sans-serif" font-size="70" fill="#000" textLength="94.0" lengthAdjust="spacingAndGlyphs">(a)</text>
<path d="M240.0,178.0 243.0,165.0 247.0,154.0 251.0,146.0 255.4,139.3 262.0,130.5 269.0,122.5 275.0,120.0 281.6,118.8 293.0,116.5 304.4,113.0 315.8,110.8 327.0,112.5 344.0,114.2 361.0,110.8 384.0,109.0 407.0,110.0 424.0,106.2 441.0,102.8 452.0,101.0 460.0,101.0 465.5,104.6 472.8,98.2 477.3,107.4 482.8,90.5 486.4,107.4 491.5,91.9 496.5,105.5 499.2,101.9 506.5,100.0 511.0,129.2 515.6,107.4 518.4,123.8 520.4,187.7 525.9,208.7 527.5,290.0 532.0,513.0 536.0,833.0 541.0,513.0 545.5,290.0 546.8,256.0 552.3,213.0 557.0,139.4 562.0,156.6 567.5,116.5 573.0,130.2 578.8,114.0 589.4,115.0 595.0,101.9 600.6,114.5 606.4,97.3 612.0,110.5 617.8,99.2 625.0,104.6 635.0,100.0 641.5,105.5 648.0,96.4 653.3,105.5 660.0,95.5 680.0,97.5 700.0,96.5 710.0,98.0 730.0,95.5 750.0,94.5 764.8,93.7 780.0,94.5 794.0,94.5 809.7,96.0 825.6,96.5 841.3,95.4 857.6,94.1 873.9,92.0 890.1,91.0 906.4,91.2 925.6,91.8 942.8,92.9 961.0,94.0 979.2,93.8 998.4,92.6 1018.5,90.6 1037.6,89.9 1058.7,89.9 1078.8,90.3 1100.8,91.0 1122.8,92.4 1144.9,92.6 1168.8,91.8 1181.0,91.5" fill="none" stroke="#000" stroke-width="3.8" stroke-linejoin="round"/>
<path d="M235.7 172.1h9.2v9.2h-9.2zM241.8 151.0h9.2v9.2h-9.2zM248.0 138.9h9.2v9.2h-9.2zM254.3 130.0h9.2v9.2h-9.2zM260.7 122.2h9.2v9.2h-9.2zM267.1 116.8h9.2v9.2h-9.2zM273.7 114.8h9.2v9.2h-9.2zM280.3 113.5h9.2v9.2h-9.2zM287.0 112.2h9.2v9.2h-9.2zM293.8 110.2h9.2v9.2h-9.2zM300.7 108.2h9.2v9.2h-9.2zM307.7 106.9h9.2v9.2h-9.2zM314.8 106.7h9.2v9.2h-9.2zM322.0 107.8h9.2v9.2h-9.2zM329.3 108.6h9.2v9.2h-9.2zM336.7 109.3h9.2v9.2h-9.2zM344.2 108.6h9.2v9.2h-9.2zM351.8 107.1h9.2v9.2h-9.2zM359.6 106.0h9.2v9.2h-9.2zM367.4 105.3h9.2v9.2h-9.2zM375.4 104.7h9.2v9.2h-9.2zM383.5 104.6h9.2v9.2h-9.2zM391.7 104.9h9.2v9.2h-9.2zM400.0 105.3h9.2v9.2h-9.2zM408.4 104.1h9.2v9.2h-9.2zM417.0 102.1h9.2v9.2h-9.2zM425.7 100.3h9.2v9.2h-9.2zM434.6 98.6h9.2v9.2h-9.2zM443.6 97.0h9.2v9.2h-9.2zM452.7 96.4h9.2v9.2h-9.2zM462.0 99.0h9.2v9.2h-9.2zM471.4 100.2h9.2v9.2h-9.2zM481.0 99.0h9.2v9.2h-9.2zM490.7 97.7h9.2v9.2h-9.2zM500.6 95.7h9.2v9.2h-9.2zM510.7 104.2h9.2v9.2h-9.2zM520.9 202.7h9.2v9.2h-9.2zM531.3 824.0h9.2v9.2h-9.2zM541.9 258.4h9.2v9.2h-9.2zM552.7 135.8h9.2v9.2h-9.2zM563.7 113.8h9.2v9.2h-9.2zM574.8 109.5h9.2v9.2h-9.2zM586.1 107.2h9.2v9.2h-9.2zM597.7 104.9h9.2v9.2h-9.2zM609.5 101.9h9.2v9.2h-9.2zM621.4 99.5h9.2v9.2h-9.2zM633.6 98.1h9.2v9.2h-9.2zM646.0 96.3h9.2v9.2h-9.2zM658.7 91.2h9.2v9.2h-9.2zM671.6 92.5h9.2v9.2h-9.2zM684.7 92.4h9.2v9.2h-9.2zM698.1 92.3h9.2v9.2h-9.2zM711.7 92.6h9.2v9.2h-9.2zM725.6 90.9h9.2v9.2h-9.2zM739.8 90.2h9.2v9.2h-9.2zM754.3 89.4h9.2v9.2h-9.2zM769.0 89.6h9.2v9.2h-9.2zM784.1 89.9h9.2v9.2h-9.2zM799.5 90.9h9.2v9.2h-9.2zM815.2 91.7h9.2v9.2h-9.2zM831.2 91.2h9.2v9.2h-9.2zM847.6 89.9h9.2v9.2h-9.2zM864.3 88.0h9.2v9.2h-9.2zM881.4 86.7h9.2v9.2h-9.2zM898.8 86.6h9.2v9.2h-9.2zM916.7 87.1h9.2v9.2h-9.2zM934.9 88.1h9.2v9.2h-9.2zM953.6 89.2h9.2v9.2h-9.2zM972.7 89.2h9.2v9.2h-9.2zM992.2 88.1h9.2v9.2h-9.2zM1012.2 86.2h9.2v9.2h-9.2zM1032.7 85.3h9.2v9.2h-9.2zM1053.6 85.3h9.2v9.2h-9.2zM1075.1 85.7h9.2v9.2h-9.2zM1097.1 86.5h9.2v9.2h-9.2zM1119.7 87.8h9.2v9.2h-9.2zM1142.8 87.9h9.2v9.2h-9.2zM1166.5 87.1h9.2v9.2h-9.2z" fill="#000"/>
<line x1="467.3" y1="454.0" x2="503.0" y2="454.0" stroke="#231815" stroke-width="3"/>
<path d="M520,454.0 L500.5,443.0 L500.5,465.0 Z" fill="#231815"/>
<line x1="565.0" y1="454.0" x2="600.7" y2="454.0" stroke="#231815" stroke-width="3"/>
<path d="M548.3,454.0 L567.7,443.0 L567.7,465.0 Z" fill="#231815"/>
<text x="610.8" y="469.3" font-family="'Noto Sans CJK SC','Liberation Sans',sans-serif" font-size="42" fill="#231815" textLength="111.0" lengthAdjust="spacingAndGlyphs">67nm</text>
<line x1="589.3" y1="749.3" x2="725.0" y2="749.3" stroke="#000" stroke-width="4"/>
<rect x="652.5" y="745" width="8.6" height="8.6" fill="#000"/>
<text x="736.5" y="771.4" font-family="'Noto Sans CJK SC','Liberation Sans',sans-serif" font-size="50" fill="#000" textLength="429.3" lengthAdjust="spacingAndGlyphs">Hybrid Metasurface</text>
<rect x="1447.0" y="959.5" width="911.5" height="732.0" fill="none" stroke="#231815" stroke-width="4"/>
<line x1="1523.0" y1="1691.5" x2="1523.0" y2="1684.0" stroke="#231815" stroke-width="3.4"/>
<line x1="1523.0" y1="959.5" x2="1523.0" y2="967.0" stroke="#231815" stroke-width="3.4"/>
<line x1="1598.9" y1="1691.5" x2="1598.9" y2="1677.0" stroke="#231815" stroke-width="3.4"/>
<line x1="1598.9" y1="959.5" x2="1598.9" y2="974.0" stroke="#231815" stroke-width="3.4"/>
<line x1="1674.9" y1="1691.5" x2="1674.9" y2="1684.0" stroke="#231815" stroke-width="3.4"/>
<line x1="1674.9" y1="959.5" x2="1674.9" y2="967.0" stroke="#231815" stroke-width="3.4"/>
<line x1="1750.8" y1="1691.5" x2="1750.8" y2="1677.0" stroke="#231815" stroke-width="3.4"/>
<line x1="1750.8" y1="959.5" x2="1750.8" y2="974.0" stroke="#231815" stroke-width="3.4"/>
<line x1="1826.8" y1="1691.5" x2="1826.8" y2="1684.0" stroke="#231815" stroke-width="3.4"/>
<line x1="1826.8" y1="959.5" x2="1826.8" y2="967.0" stroke="#231815" stroke-width="3.4"/>
<line x1="1902.8" y1="1691.5" x2="1902.8" y2="1677.0" stroke="#231815" stroke-width="3.4"/>
<line x1="1902.8" y1="959.5" x2="1902.8" y2="974.0" stroke="#231815" stroke-width="3.4"/>
<line x1="1978.7" y1="1691.5" x2="1978.7" y2="1684.0" stroke="#231815" stroke-width="3.4"/>
<line x1="1978.7" y1="959.5" x2="1978.7" y2="967.0" stroke="#231815" stroke-width="3.4"/>
<line x1="2054.7" y1="1691.5" x2="2054.7" y2="1677.0" stroke="#231815" stroke-width="3.4"/>
<line x1="2054.7" y1="959.5" x2="2054.7" y2="974.0" stroke="#231815" stroke-width="3.4"/>
<line x1="2130.6" y1="1691.5" x2="2130.6" y2="1684.0" stroke="#231815" stroke-width="3.4"/>
<line x1="2130.6" y1="959.5" x2="2130.6" y2="967.0" stroke="#231815" stroke-width="3.4"/>
<line x1="2206.6" y1="1691.5" x2="2206.6" y2="1677.0" stroke="#231815" stroke-width="3.4"/>
<line x1="2206.6" y1="959.5" x2="2206.6" y2="974.0" stroke="#231815" stroke-width="3.4"/>
<line x1="2282.5" y1="1691.5" x2="2282.5" y2="1684.0" stroke="#231815" stroke-width="3.4"/>
<line x1="2282.5" y1="959.5" x2="2282.5" y2="967.0" stroke="#231815" stroke-width="3.4"/>
<line x1="1447.0" y1="1639.2" x2="1454.0" y2="1639.2" stroke="#231815" stroke-width="3.4"/>
<line x1="2358.5" y1="1639.2" x2="2351.5" y2="1639.2" stroke="#231815" stroke-width="3.4"/>
<line x1="1447.0" y1="1586.9" x2="1460.5" y2="1586.9" stroke="#231815" stroke-width="3.4"/>
<line x1="2358.5" y1="1586.9" x2="2345.0" y2="1586.9" stroke="#231815" stroke-width="3.4"/>
<line x1="1447.0" y1="1534.6" x2="1454.0" y2="1534.6" stroke="#231815" stroke-width="3.4"/>
<line x1="2358.5" y1="1534.6" x2="2351.5" y2="1534.6" stroke="#231815" stroke-width="3.4"/>
<line x1="1447.0" y1="1482.4" x2="1460.5" y2="1482.4" stroke="#231815" stroke-width="3.4"/>
<line x1="2358.5" y1="1482.4" x2="2345.0" y2="1482.4" stroke="#231815" stroke-width="3.4"/>
<line x1="1447.0" y1="1430.1" x2="1454.0" y2="1430.1" stroke="#231815" stroke-width="3.4"/>
<line x1="2358.5" y1="1430.1" x2="2351.5" y2="1430.1" stroke="#231815" stroke-width="3.4"/>
<line x1="1447.0" y1="1377.8" x2="1460.5" y2="1377.8" stroke="#231815" stroke-width="3.4"/>
<line x1="2358.5" y1="1377.8" x2="2345.0" y2="1377.8" stroke="#231815" stroke-width="3.4"/>
<line x1="1447.0" y1="1325.5" x2="1454.0" y2="1325.5" stroke="#231815" stroke-width="3.4"/>
<line x1="2358.5" y1="1325.5" x2="2351.5" y2="1325.5" stroke="#231815" stroke-width="3.4"/>
<line x1="1447.0" y1="1273.2" x2="1460.5" y2="1273.2" stroke="#231815" stroke-width="3.4"/>
<line x1="2358.5" y1="1273.2" x2="2345.0" y2="1273.2" stroke="#231815" stroke-width="3.4"/>
<line x1="1447.0" y1="1220.9" x2="1454.0" y2="1220.9" stroke="#231815" stroke-width="3.4"/>
<line x1="2358.5" y1="1220.9" x2="2351.5" y2="1220.9" stroke="#231815" stroke-width="3.4"/>
<line x1="1447.0" y1="1168.6" x2="1460.5" y2="1168.6" stroke="#231815" stroke-width="3.4"/>
<line x1="2358.5" y1="1168.6" x2="2345.0" y2="1168.6" stroke="#231815" stroke-width="3.4"/>
<line x1="1447.0" y1="1116.4" x2="1454.0" y2="1116.4" stroke="#231815" stroke-width="3.4"/>
<line x1="2358.5" y1="1116.4" x2="2351.5" y2="1116.4" stroke="#231815" stroke-width="3.4"/>
<line x1="1447.0" y1="1064.1" x2="1460.5" y2="1064.1" stroke="#231815" stroke-width="3.4"/>
<line x1="2358.5" y1="1064.1" x2="2345.0" y2="1064.1" stroke="#231815" stroke-width="3.4"/>
<line x1="1447.0" y1="1011.8" x2="1454.0" y2="1011.8" stroke="#231815" stroke-width="3.4"/>
<line x1="2358.5" y1="1011.8" x2="2351.5" y2="1011.8" stroke="#231815" stroke-width="3.4"/>
<text x="1432.0" y="1704.0" font-family="'Noto Sans CJK SC','Liberation Sans',sans-serif" font-size="41" fill="#231815" text-anchor="end">0.0</text>
<text x="1432.0" y="1599.4" font-family="'Noto Sans CJK SC','Liberation Sans',sans-serif" font-size="41" fill="#231815" text-anchor="end">0.1</text>
<text x="1432.0" y="1494.9" font-family="'Noto Sans CJK SC','Liberation Sans',sans-serif" font-size="41" fill="#231815" text-anchor="end">0.2</text>
<text x="1432.0" y="1390.3" font-family="'Noto Sans CJK SC','Liberation Sans',sans-serif" font-size="41" fill="#231815" text-anchor="end">0.3</text>
<text x="1432.0" y="1285.7" font-family="'Noto Sans CJK SC','Liberation Sans',sans-serif" font-size="41" fill="#231815" text-anchor="end">0.4</text>
<text x="1432.0" y="1181.1" font-family="'Noto Sans CJK SC','Liberation Sans',sans-serif" font-size="41" fill="#231815" text-anchor="end">0.5</text>
<text x="1432.0" y="1076.6" font-family="'Noto Sans CJK SC','Liberation Sans',sans-serif" font-size="41" fill="#231815" text-anchor="end">0.6</text>
<text x="1432.0" y="972.0" font-family="'Noto Sans CJK SC','Liberation Sans',sans-serif" font-size="41" fill="#231815" text-anchor="end">0.7</text>
<text x="1447.0" y="1738.5" font-family="'Noto Sans CJK SC','Liberation Sans',sans-serif" font-size="41" fill="#231815" text-anchor="middle">6</text>
<text x="1598.9" y="1738.5" font-family="'Noto Sans CJK SC','Liberation Sans',sans-serif" font-size="41" fill="#231815" text-anchor="middle">7</text>
<text x="1750.8" y="1738.5" font-family="'Noto Sans CJK SC','Liberation Sans',sans-serif" font-size="41" fill="#231815" text-anchor="middle">8</text>
<text x="1902.8" y="1738.5" font-family="'Noto Sans CJK SC','Liberation Sans',sans-serif" font-size="41" fill="#231815" text-anchor="middle">9</text>
<text x="2054.7" y="1738.5" font-family="'Noto Sans CJK SC','Liberation Sans',sans-serif" font-size="41" fill="#231815" text-anchor="middle">10</text>
<text x="2206.6" y="1738.5" font-family="'Noto Sans CJK SC','Liberation Sans',sans-serif" font-size="41" fill="#231815" text-anchor="middle">11</text>
<text x="2358.5" y="1738.5" font-family="'Noto Sans CJK SC','Liberation Sans',sans-serif" font-size="41" fill="#231815" text-anchor="middle">12</text>
<text x="1676.5" y="1801.0" font-family="'Noto Sans CJK SC','Liberation Sans',sans-serif" font-size="52" fill="#231815" textLength="397.8" lengthAdjust="spacingAndGlyphs">Wavelength(μm)</text>
<g transform="translate(1347,1484) rotate(-90)">
<text x="0.0" y="0.0" font-family="'Noto Sans CJK SC','Liberation Sans',sans-serif" font-size="50.5" fill="#231815" textLength="270.0" lengthAdjust="spacingAndGlyphs">Absorption</text>
</g>
<text x="1223.0" y="983.5" font-family="'Noto Sans CJK SC','Liberation Sans',sans-serif" font-size="71" fill="#000" textLength="101.7" lengthAdjust="spacingAndGlyphs">(d)</text>
<path d="M1447.0,1568.0 1454.4,1593.7 1465.7,1621.7 1476.2,1638.7 1488.1,1649.7 1499.8,1654.5 1510.8,1657.0 1523.0,1658.2 1535.0,1658.6 1548.5,1658.9 1561.9,1658.9 1575.3,1659.0 1588.7,1659.2 1602.0,1659.4 1616.7,1660.6 1631.3,1661.8 1647.0,1663.8 1664.0,1667.4 1682.4,1672.0 1697.6,1673.2 1703.8,1670.0 1712.0,1663.0 1714.8,1650.6 1721.7,1619.0 1725.0,1565.5 1725.8,1500.0 1726.6,1385.0 1727.5,1318.6 1728.3,1218.7 1729.3,1154.0 1730.4,1025.7 1731.6,975.0 1732.5,964.7 1733.6,967.9 1736.8,1025.7 1737.9,1068.6 1740.0,1197.0 1740.4,1318.6 1741.8,1385.0 1744.3,1500.0 1744.9,1523.8 1751.4,1556.0 1754.4,1607.0 1761.0,1616.7 1769.9,1640.0 1778.8,1652.4 1788.9,1657.7 1808.2,1662.1 1830.0,1667.4 1851.0,1670.3 1873.8,1671.0 1896.6,1672.4 1920.0,1673.8 1944.7,1674.4 1970.0,1675.3 1996.4,1676.2 2024.0,1676.7 2052.7,1677.3 2081.9,1677.6 2113.0,1677.6 2144.3,1678.2 2177.3,1678.2 2211.5,1678.5 2247.4,1678.5 2285.3,1679.0 2326.2,1679.0 2358.5,1680.0" fill="none" stroke="#231815" stroke-width="3.2" stroke-linejoin="round"/>
<path d="M1449.0 1588.4h11v11h-11zM1459.8 1615.1h11v11h-11zM1470.8 1633.3h11v11h-11zM1482.1 1643.7h11v11h-11zM1493.7 1648.7h11v11h-11zM1505.5 1651.5h11v11h-11zM1517.7 1652.7h11v11h-11zM1530.1 1653.1h11v11h-11zM1542.9 1653.4h11v11h-11zM1556.0 1653.4h11v11h-11zM1569.5 1653.5h11v11h-11zM1583.3 1653.7h11v11h-11zM1597.5 1654.0h11v11h-11zM1612.0 1655.2h11v11h-11zM1627.0 1656.5h11v11h-11zM1642.4 1658.5h11v11h-11zM1658.2 1661.8h11v11h-11zM1674.5 1665.9h11v11h-11zM1691.3 1667.6h11v11h-11zM1709.3 1645.1h11v11h-11zM1726.8 960.0h11v11h-11zM1745.3 1556.5h11v11h-11zM1763.5 1632.2h11v11h-11zM1783.0 1652.0h11v11h-11zM1803.2 1656.7h11v11h-11zM1823.9 1661.8h11v11h-11zM1845.4 1664.8h11v11h-11zM1867.6 1665.5h11v11h-11zM1890.5 1666.9h11v11h-11zM1914.3 1668.3h11v11h-11zM1938.9 1668.9h11v11h-11zM1964.4 1669.8h11v11h-11zM1990.8 1670.7h11v11h-11zM2018.2 1671.2h11v11h-11zM2046.7 1671.8h11v11h-11zM2076.3 1672.1h11v11h-11zM2107.0 1672.1h11v11h-11zM2139.0 1672.7h11v11h-11zM2172.4 1672.7h11v11h-11zM2207.1 1673.0h11v11h-11zM2243.4 1673.0h11v11h-11zM2281.2 1673.5h11v11h-11zM2320.8 1673.5h11v11h-11zM2355.5 1674.5h11v11h-11z" fill="#231815"/>
<line x1="1654.3" y1="1318.6" x2="1708.0" y2="1318.6" stroke="#000" stroke-width="3"/>
<path d="M1724.8,1318.6 L1705.7,1307.1 L1705.7,1330.1 Z" fill="#000"/>
<line x1="1760.0" y1="1318.6" x2="1813.6" y2="1318.6" stroke="#000" stroke-width="3"/>
<path d="M1743.2,1318.6 L1762.7,1307.1 L1762.7,1330.1 Z" fill="#000"/>
<text x="1601.0" y="1196.2" font-family="'Noto Sans CJK SC','Liberation Sans',sans-serif" font-size="46" fill="#000" textLength="123.8" lengthAdjust="spacingAndGlyphs">74nm</text>
<line x1="1771.7" y1="1601.7" x2="1870.9" y2="1601.7" stroke="#231815" stroke-width="3.6"/>
<rect x="1815.2" y="1596.2" width="11" height="11" fill="#231815"/>
<text x="1880.5" y="1617.0" font-family="'Noto Sans CJK SC','Liberation Sans',sans-serif" font-size="40" fill="#231815" textLength="398.5" lengthAdjust="spacingAndGlyphs">Plasmonic Absorption</text>
<rect x="1395" y="69" width="796" height="743" fill="none" stroke="#000" stroke-width="1.3"/>
<rect x="1504" y="426.6" width="574.5" height="27.4" fill="none" stroke="#000" stroke-width="2.8" stroke-dasharray="11.5 11.5" stroke-dashoffset="-6"/>
<rect x="1779.5" y="161.7" width="26.6" height="545.3" fill="none" stroke="#fff" stroke-width="2.9" stroke-dasharray="11.5 11.5" stroke-dashoffset="4.5"/>
<rect x="2234" y="800.39" width="58" height="12.21" fill="#050000"/>
<rect x="2234" y="788.78" width="58" height="12.21" fill="#100000"/>
<rect x="2234" y="777.17" width="58" height="12.21" fill="#1b0000"/>
<rect x="2234" y="765.56" width="58" height="12.21" fill="#250000"/>
<rect x="2234" y="753.95" width="58" height="12.21" fill="#300000"/>
<rect x="2234" y="742.34" width="58" height="12.21" fill="#3a0000"/>
<rect x="2234" y="730.73" width="58" height="12.21" fill="#450000"/>
<rect x="2234" y="719.12" width="58" height="12.21" fill="#500000"/>
<rect x="2234" y="707.52" width="58" height="12.21" fill="#5a0000"/>
<rect x="2234" y="695.91" width="58" height="12.21" fill="#650000"/>
<rect x="2234" y="684.30" width="58" height="12.21" fill="#700000"/>
<rect x="2234" y="672.69" width="58" height="12.21" fill="#7a0000"/>
<rect x="2234" y="661.08" width="58" height="12.21" fill="#850000"/>
<rect x="2234" y="649.47" width="58" height="12.21" fill="#8f0000"/>
<rect x="2234" y="637.86" width="58" height="12.21" fill="#9a0000"/>
<rect x="2234" y="626.25" width="58" height="12.21" fill="#a50000"/>
<rect x="2234" y="614.64" width="58" height="12.21" fill="#af0000"/>
<rect x="2234" y="603.03" width="58" height="12.21" fill="#ba0000"/>
<rect x="2234" y="591.42" width="58" height="12.21" fill="#c50000"/>
<rect x="2234" y="579.81" width="58" height="12.21" fill="#cf0000"/>
<rect x="2234" y="568.20" width="58" height="12.21" fill="#da0000"/>
<rect x="2234" y="556.59" width="58" height="12.21" fill="#e40000"/>
<rect x="2234" y="544.98" width="58" height="12.21" fill="#ef0000"/>
<rect x="2234" y="533.38" width="58" height="12.21" fill="#fa0000"/>
<rect x="2234" y="521.77" width="58" height="12.21" fill="#ff0500"/>
<rect x="2234" y="510.16" width="58" height="12.21" fill="#ff1000"/>
<rect x="2234" y="498.55" width="58" height="12.21" fill="#ff1b00"/>
<rect x="2234" y="486.94" width="58" height="12.21" fill="#ff2500"/>
<rect x="2234" y="475.33" width="58" height="12.21" fill="#ff3000"/>
<rect x="2234" y="463.72" width="58" height="12.21" fill="#ff3a00"/>
<rect x="2234" y="452.11" width="58" height="12.21" fill="#ff4500"/>
<rect x="2234" y="440.50" width="58" height="12.21" fill="#ff5000"/>
<rect x="2234" y="428.89" width="58" height="12.21" fill="#ff5a00"/>
<rect x="2234" y="417.28" width="58" height="12.21" fill="#ff6500"/>
<rect x="2234" y="405.67" width="58" height="12.21" fill="#ff7000"/>
<rect x="2234" y="394.06" width="58" height="12.21" fill="#ff7a00"/>
<rect x="2234" y="382.45" width="58" height="12.21" fill="#ff8500"/>
<rect x="2234" y="370.84" width="58" height="12.21" fill="#ff8f00"/>
<rect x="2234" y="359.23" width="58" height="12.21" fill="#ff9a00"/>
<rect x="2234" y="347.62" width="58" height="12.21" fill="#ffa500"/>
<rect x="2234" y="336.02" width="58" height="12.21" fill="#ffaf00"/>
<rect x="2234" y="324.41" width="58" height="12.21" fill="#ffba00"/>
<rect x="2234" y="312.80" width="58" height="12.21" fill="#ffc500"/>
<rect x="2234" y="301.19" width="58" height="12.21" fill="#ffcf00"/>
<rect x="2234" y="289.58" width="58" height="12.21" fill="#ffda00"/>
<rect x="2234" y="277.97" width="58" height="12.21" fill="#ffe400"/>
<rect x="2234" y="266.36" width="58" height="12.21" fill="#ffef00"/>
<rect x="2234" y="254.75" width="58" height="12.21" fill="#fffa00"/>
<rect x="2234" y="243.14" width="58" height="12.21" fill="#ffff08"/>
<rect x="2234" y="231.53" width="58" height="12.21" fill="#ffff18"/>
<rect x="2234" y="219.92" width="58" height="12.21" fill="#ffff28"/>
<rect x="2234" y="208.31" width="58" height="12.21" fill="#ffff38"/>
<rect x="2234" y="196.70" width="58" height="12.21" fill="#ffff48"/>
<rect x="2234" y="185.09" width="58" height="12.21" fill="#ffff58"/>
<rect x="2234" y="173.48" width="58" height="12.21" fill="#ffff68"/>
<rect x="2234" y="161.88" width="58" height="12.21" fill="#ffff78"/>
<rect x="2234" y="150.27" width="58" height="12.21" fill="#ffff87"/>
<rect x="2234" y="138.66" width="58" height="12.21" fill="#ffff97"/>
<rect x="2234" y="127.05" width="58" height="12.21" fill="#ffffa7"/>
<rect x="2234" y="115.44" width="58" height="12.21" fill="#ffffb7"/>
<rect x="2234" y="103.83" width="58" height="12.21" fill="#ffffc7"/>
<rect x="2234" y="92.22" width="58" height="12.21" fill="#ffffd7"/>
<rect x="2234" y="80.61" width="58" height="12.21" fill="#ffffe7"/>
<rect x="2234" y="69.00" width="58" height="12.21" fill="#fffff7"/>
<rect x="2234" y="69" width="58" height="743" fill="none" stroke="#000" stroke-width="1.3"/>
<text transform="translate(2300.5,821.7) scale(1.1,1)" font-family="'Liberation Sans',Arial,sans-serif" font-size="27" fill="#000">0</text>
<line x1="2234.0" y1="688.2" x2="2239.5" y2="688.2" stroke="#000" stroke-width="1.3"/>
<line x1="2292.0" y1="688.2" x2="2286.5" y2="688.2" stroke="#000" stroke-width="1.3"/>
<text transform="translate(2300.5,697.9) scale(1.1,1)" font-family="'Liberation Sans',Arial,sans-serif" font-size="27" fill="#000">5</text>
<line x1="2234.0" y1="564.3" x2="2239.5" y2="564.3" stroke="#000" stroke-width="1.3"/>
<line x1="2292.0" y1="564.3" x2="2286.5" y2="564.3" stroke="#000" stroke-width="1.3"/>
<text transform="translate(2300.5,574.0) scale(1.1,1)" font-family="'Liberation Sans',Arial,sans-serif" font-size="27" fill="#000">10</text>
<line x1="2234.0" y1="440.5" x2="2239.5" y2="440.5" stroke="#000" stroke-width="1.3"/>
<line x1="2292.0" y1="440.5" x2="2286.5" y2="440.5" stroke="#000" stroke-width="1.3"/>
<text transform="translate(2300.5,450.2) scale(1.1,1)" font-family="'Liberation Sans',Arial,sans-serif" font-size="27" fill="#000">15</text>
<line x1="2234.0" y1="316.7" x2="2239.5" y2="316.7" stroke="#000" stroke-width="1.3"/>
<line x1="2292.0" y1="316.7" x2="2286.5" y2="316.7" stroke="#000" stroke-width="1.3"/>
<text transform="translate(2300.5,326.4) scale(1.1,1)" font-family="'Liberation Sans',Arial,sans-serif" font-size="27" fill="#000">20</text>
<line x1="2234.0" y1="192.8" x2="2239.5" y2="192.8" stroke="#000" stroke-width="1.3"/>
<line x1="2292.0" y1="192.8" x2="2286.5" y2="192.8" stroke="#000" stroke-width="1.3"/>
<text transform="translate(2300.5,202.5) scale(1.1,1)" font-family="'Liberation Sans',Arial,sans-serif" font-size="27" fill="#000">25</text>
<text transform="translate(2300.5,78.7) scale(1.1,1)" font-family="'Liberation Sans',Arial,sans-serif" font-size="27" fill="#000">30</text>
<text transform="translate(1385.5,750.2) scale(1.06,1)" font-family="'Liberation Sans',Arial,sans-serif" font-size="40" fill="#000" text-anchor="end">-3</text>
<text transform="translate(1385.5,651.2) scale(1.06,1)" font-family="'Liberation Sans',Arial,sans-serif" font-size="40" fill="#000" text-anchor="end">-2</text>
<text transform="translate(1385.5,552.2) scale(1.06,1)" font-family="'Liberation Sans',Arial,sans-serif" font-size="40" fill="#000" text-anchor="end">-1</text>
<text transform="translate(1385.5,453.2) scale(1.06,1)" font-family="'Liberation Sans',Arial,sans-serif" font-size="40" fill="#000" text-anchor="end">0</text>
<text transform="translate(1385.5,354.2) scale(1.06,1)" font-family="'Liberation Sans',Arial,sans-serif" font-size="40" fill="#000" text-anchor="end">1</text>
<text transform="translate(1385.5,255.2) scale(1.06,1)" font-family="'Liberation Sans',Arial,sans-serif" font-size="40" fill="#000" text-anchor="end">2</text>
<text transform="translate(1385.5,156.2) scale(1.06,1)" font-family="'Liberation Sans',Arial,sans-serif" font-size="40" fill="#000" text-anchor="end">3</text>
<text transform="translate(1572.5,855.5) scale(1.1,1)" font-family="'Liberation Sans',Arial,sans-serif" font-size="40.5" fill="#000" text-anchor="middle">-2</text>
<text transform="translate(1793.3,855.5) scale(1.1,1)" font-family="'Liberation Sans',Arial,sans-serif" font-size="40.5" fill="#000" text-anchor="middle">0</text>
<text transform="translate(2004.2,855.5) scale(1.1,1)" font-family="'Liberation Sans',Arial,sans-serif" font-size="40.5" fill="#000" text-anchor="middle">2</text>
<text x="1688.0" y="901.5" font-family="'Liberation Sans',Arial,sans-serif" font-size="40" fill="#000" textLength="211.0" lengthAdjust="spacingAndGlyphs">X axis (μm)</text>
<g transform="translate(1325.7,546.6) rotate(-90)">
<text x="0.0" y="0.0" font-family="'Liberation Sans',Arial,sans-serif" font-size="40" fill="#000" textLength="208.6" lengthAdjust="spacingAndGlyphs">Y axis (μm)</text>
</g>
<text x="1222.0" y="108.5" font-family="'Noto Sans CJK SC','Liberation Sans',sans-serif" font-size="74.8" fill="#000" textLength="102.0" lengthAdjust="spacingAndGlyphs">(b)</text>
<text x="1417.0" y="122.0" font-family="'Noto Sans CJK SC','Liberation Sans',sans-serif" font-size="30" fill="#fff" textLength="304.0" lengthAdjust="spacingAndGlyphs">X-Y Plane(Z=0.95μm)</text>
<line x1="1839.7" y1="743.5" x2="1914.2" y2="743.5" stroke="#fff" stroke-width="5" stroke-dasharray="11.4 11.4"/>
<text x="1943.5" y="739.0" font-family="'Noto Sans CJK SC','Liberation Sans',sans-serif" font-size="37" fill="#fff" textLength="124.0" lengthAdjust="spacingAndGlyphs">Hybrid</text>
<text x="1942.5" y="787.3" font-family="'Noto Sans CJK SC','Liberation Sans',sans-serif" font-size="37" fill="#fff" textLength="226.6" lengthAdjust="spacingAndGlyphs">Metasurface</text>
<rect x="226" y="987" width="796" height="744" fill="none" stroke="#000" stroke-width="1.3"/>
<rect x="333.4" y="1180.8" width="579.6" height="350" fill="none" stroke="#fff" stroke-width="5" stroke-dasharray="10.7 11.9"/>
<rect x="227.4" y="1532" width="797.8" height="19.2" fill="none" stroke="#ff0" stroke-width="3" stroke-dasharray="26.6 26.6"/>
<rect x="1066" y="1718.38" width="56" height="12.22" fill="#050000"/>
<rect x="1066" y="1706.75" width="56" height="12.22" fill="#100000"/>
<rect x="1066" y="1695.12" width="56" height="12.22" fill="#1b0000"/>
<rect x="1066" y="1683.50" width="56" height="12.22" fill="#250000"/>
<rect x="1066" y="1671.88" width="56" height="12.22" fill="#300000"/>
<rect x="1066" y="1660.25" width="56" height="12.22" fill="#3a0000"/>
<rect x="1066" y="1648.62" width="56" height="12.22" fill="#450000"/>
<rect x="1066" y="1637.00" width="56" height="12.22" fill="#500000"/>
<rect x="1066" y="1625.38" width="56" height="12.22" fill="#5a0000"/>
<rect x="1066" y="1613.75" width="56" height="12.22" fill="#650000"/>
<rect x="1066" y="1602.12" width="56" height="12.22" fill="#700000"/>
<rect x="1066" y="1590.50" width="56" height="12.22" fill="#7a0000"/>
<rect x="1066" y="1578.88" width="56" height="12.22" fill="#850000"/>
<rect x="1066" y="1567.25" width="56" height="12.22" fill="#8f0000"/>
<rect x="1066" y="1555.62" width="56" height="12.22" fill="#9a0000"/>
<rect x="1066" y="1544.00" width="56" height="12.22" fill="#a50000"/>
<rect x="1066" y="1532.38" width="56" height="12.22" fill="#af0000"/>
<rect x="1066" y="1520.75" width="56" height="12.22" fill="#ba0000"/>
<rect x="1066" y="1509.12" width="56" height="12.22" fill="#c50000"/>
<rect x="1066" y="1497.50" width="56" height="12.22" fill="#cf0000"/>
<rect x="1066" y="1485.88" width="56" height="12.22" fill="#da0000"/>
<rect x="1066" y="1474.25" width="56" height="12.22" fill="#e40000"/>
<rect x="1066" y="1462.62" width="56" height="12.22" fill="#ef0000"/>
<rect x="1066" y="1451.00" width="56" height="12.22" fill="#fa0000"/>
<rect x="1066" y="1439.38" width="56" height="12.22" fill="#ff0500"/>
<rect x="1066" y="1427.75" width="56" height="12.22" fill="#ff1000"/>
<rect x="1066" y="1416.12" width="56" height="12.22" fill="#ff1b00"/>
<rect x="1066" y="1404.50" width="56" height="12.22" fill="#ff2500"/>
<rect x="1066" y="1392.88" width="56" height="12.22" fill="#ff3000"/>
<rect x="1066" y="1381.25" width="56" height="12.22" fill="#ff3a00"/>
<rect x="1066" y="1369.62" width="56" height="12.22" fill="#ff4500"/>
<rect x="1066" y="1358.00" width="56" height="12.22" fill="#ff5000"/>
<rect x="1066" y="1346.38" width="56" height="12.22" fill="#ff5a00"/>
<rect x="1066" y="1334.75" width="56" height="12.22" fill="#ff6500"/>
<rect x="1066" y="1323.12" width="56" height="12.22" fill="#ff7000"/>
<rect x="1066" y="1311.50" width="56" height="12.22" fill="#ff7a00"/>
<rect x="1066" y="1299.88" width="56" height="12.22" fill="#ff8500"/>
<rect x="1066" y="1288.25" width="56" height="12.22" fill="#ff8f00"/>
<rect x="1066" y="1276.62" width="56" height="12.22" fill="#ff9a00"/>
<rect x="1066" y="1265.00" width="56" height="12.22" fill="#ffa500"/>
<rect x="1066" y="1253.38" width="56" height="12.22" fill="#ffaf00"/>
<rect x="1066" y="1241.75" width="56" height="12.22" fill="#ffba00"/>
<rect x="1066" y="1230.12" width="56" height="12.22" fill="#ffc500"/>
<rect x="1066" y="1218.50" width="56" height="12.22" fill="#ffcf00"/>
<rect x="1066" y="1206.88" width="56" height="12.22" fill="#ffda00"/>
<rect x="1066" y="1195.25" width="56" height="12.22" fill="#ffe400"/>
<rect x="1066" y="1183.62" width="56" height="12.22" fill="#ffef00"/>
<rect x="1066" y="1172.00" width="56" height="12.22" fill="#fffa00"/>
<rect x="1066" y="1160.38" width="56" height="12.22" fill="#ffff08"/>
<rect x="1066" y="1148.75" width="56" height="12.22" fill="#ffff18"/>
<rect x="1066" y="1137.12" width="56" height="12.22" fill="#ffff28"/>
<rect x="1066" y="1125.50" width="56" height="12.22" fill="#ffff38"/>
<rect x="1066" y="1113.88" width="56" height="12.22" fill="#ffff48"/>
<rect x="1066" y="1102.25" width="56" height="12.22" fill="#ffff58"/>
<rect x="1066" y="1090.62" width="56" height="12.22" fill="#ffff68"/>
<rect x="1066" y="1079.00" width="56" height="12.22" fill="#ffff78"/>
<rect x="1066" y="1067.38" width="56" height="12.22" fill="#ffff87"/>
<rect x="1066" y="1055.75" width="56" height="12.22" fill="#ffff97"/>
<rect x="1066" y="1044.12" width="56" height="12.22" fill="#ffffa7"/>
<rect x="1066" y="1032.50" width="56" height="12.22" fill="#ffffb7"/>
<rect x="1066" y="1020.88" width="56" height="12.22" fill="#ffffc7"/>
<rect x="1066" y="1009.25" width="56" height="12.22" fill="#ffffd7"/>
<rect x="1066" y="997.62" width="56" height="12.22" fill="#ffffe7"/>
<rect x="1066" y="986.00" width="56" height="12.22" fill="#fffff7"/>
<rect x="1066" y="986" width="56" height="744" fill="none" stroke="#000" stroke-width="1.3"/>
<text transform="translate(1131.5,1743.0) scale(1.12,1)" font-family="'Liberation Sans',Arial,sans-serif" font-size="36.5" fill="#000">0</text>
<line x1="1066.0" y1="1606.0" x2="1071.5" y2="1606.0" stroke="#000" stroke-width="1.3"/>
<line x1="1122.0" y1="1606.0" x2="1116.5" y2="1606.0" stroke="#000" stroke-width="1.3"/>
<text transform="translate(1131.5,1619.0) scale(1.12,1)" font-family="'Liberation Sans',Arial,sans-serif" font-size="36.5" fill="#000">5</text>
<line x1="1066.0" y1="1482.0" x2="1071.5" y2="1482.0" stroke="#000" stroke-width="1.3"/>
<line x1="1122.0" y1="1482.0" x2="1116.5" y2="1482.0" stroke="#000" stroke-width="1.3"/>
<text transform="translate(1131.5,1495.0) scale(1.12,1)" font-family="'Liberation Sans',Arial,sans-serif" font-size="36.5" fill="#000">10</text>
<line x1="1066.0" y1="1358.0" x2="1071.5" y2="1358.0" stroke="#000" stroke-width="1.3"/>
<line x1="1122.0" y1="1358.0" x2="1116.5" y2="1358.0" stroke="#000" stroke-width="1.3"/>
<text transform="translate(1131.5,1371.0) scale(1.12,1)" font-family="'Liberation Sans',Arial,sans-serif" font-size="36.5" fill="#000">15</text>
<line x1="1066.0" y1="1234.0" x2="1071.5" y2="1234.0" stroke="#000" stroke-width="1.3"/>
<line x1="1122.0" y1="1234.0" x2="1116.5" y2="1234.0" stroke="#000" stroke-width="1.3"/>
<text transform="translate(1131.5,1247.0) scale(1.12,1)" font-family="'Liberation Sans',Arial,sans-serif" font-size="36.5" fill="#000">20</text>
<line x1="1066.0" y1="1110.0" x2="1071.5" y2="1110.0" stroke="#000" stroke-width="1.3"/>
<line x1="1122.0" y1="1110.0" x2="1116.5" y2="1110.0" stroke="#000" stroke-width="1.3"/>
<text transform="translate(1131.5,1123.0) scale(1.12,1)" font-family="'Liberation Sans',Arial,sans-serif" font-size="36.5" fill="#000">25</text>
<text transform="translate(1131.5,999.0) scale(1.12,1)" font-family="'Liberation Sans',Arial,sans-serif" font-size="36.5" fill="#000">30</text>
<text transform="translate(217.8,1742.0) scale(1.05,1)" font-family="'Liberation Sans',Arial,sans-serif" font-size="39" fill="#000" text-anchor="end">-0.5</text>
<text transform="translate(217.8,1556.0) scale(1.05,1)" font-family="'Liberation Sans',Arial,sans-serif" font-size="39" fill="#000" text-anchor="end">0</text>
<text transform="translate(217.8,1370.0) scale(1.05,1)" font-family="'Liberation Sans',Arial,sans-serif" font-size="39" fill="#000" text-anchor="end">0.5</text>
<text transform="translate(217.8,1184.0) scale(1.05,1)" font-family="'Liberation Sans',Arial,sans-serif" font-size="39" fill="#000" text-anchor="end">1</text>
<text transform="translate(217.8,998.0) scale(1.05,1)" font-family="'Liberation Sans',Arial,sans-serif" font-size="39" fill="#000" text-anchor="end">1.5</text>
<text transform="translate(404.8,1773.3) scale(1.08,1)" font-family="'Liberation Sans',Arial,sans-serif" font-size="41" fill="#000" text-anchor="middle">-2</text>
<text transform="translate(624.5,1773.3) scale(1.08,1)" font-family="'Liberation Sans',Arial,sans-serif" font-size="41" fill="#000" text-anchor="middle">0</text>
<text transform="translate(834.6,1773.3) scale(1.08,1)" font-family="'Liberation Sans',Arial,sans-serif" font-size="41" fill="#000" text-anchor="middle">2</text>
<text x="518.0" y="1820.0" font-family="'Liberation Sans',Arial,sans-serif" font-size="40" fill="#000" textLength="210.9" lengthAdjust="spacingAndGlyphs">X axis (μm)</text>
<g transform="translate(123.4,1463) rotate(-90)">
<text x="0.0" y="0.0" font-family="'Liberation Sans',Arial,sans-serif" font-size="40" fill="#000" textLength="206.8" lengthAdjust="spacingAndGlyphs">Z axis (μm)</text>
</g>
<text x="40.4" y="990.0" font-family="'Noto Sans CJK SC','Liberation Sans',sans-serif" font-size="71" fill="#000" textLength="92.0" lengthAdjust="spacingAndGlyphs">(c)</text>
<text x="507.8" y="1385.0" font-family="'Noto Sans CJK SC','Liberation Sans',sans-serif" font-size="40" fill="#fff" textLength="253.5" lengthAdjust="spacingAndGlyphs">Dielectric part</text>
<text x="515.0" y="1617.0" font-family="'Noto Sans CJK SC','Liberation Sans',sans-serif" font-size="40" fill="#ff0" textLength="168.0" lengthAdjust="spacingAndGlyphs">Gold Film</text>
<text x="713.2" y="1713.0" font-family="'Noto Sans CJK SC','Liberation Sans',sans-serif" font-size="29" fill="#fff" textLength="268.0" lengthAdjust="spacingAndGlyphs">X-Z Plane(Y=0 μm)</text>
<rect x="2260" y="1373.53" width="26.3" height="6.07" fill="#050000"/>
<rect x="2260" y="1368.06" width="26.3" height="6.07" fill="#100000"/>
<rect x="2260" y="1362.59" width="26.3" height="6.07" fill="#1b0000"/>
<rect x="2260" y="1357.12" width="26.3" height="6.07" fill="#250000"/>
<rect x="2260" y="1351.66" width="26.3" height="6.07" fill="#300000"/>
<rect x="2260" y="1346.19" width="26.3" height="6.07" fill="#3a0000"/>
<rect x="2260" y="1340.72" width="26.3" height="6.07" fill="#450000"/>
<rect x="2260" y="1335.25" width="26.3" height="6.07" fill="#500000"/>
<rect x="2260" y="1329.78" width="26.3" height="6.07" fill="#5a0000"/>
<rect x="2260" y="1324.31" width="26.3" height="6.07" fill="#650000"/>
<rect x="2260" y="1318.84" width="26.3" height="6.07" fill="#700000"/>
<rect x="2260" y="1313.38" width="26.3" height="6.07" fill="#7a0000"/>
<rect x="2260" y="1307.91" width="26.3" height="6.07" fill="#850000"/>
<rect x="2260" y="1302.44" width="26.3" height="6.07" fill="#8f0000"/>
<rect x="2260" y="1296.97" width="26.3" height="6.07" fill="#9a0000"/>
<rect x="2260" y="1291.50" width="26.3" height="6.07" fill="#a50000"/>
<rect x="2260" y="1286.03" width="26.3" height="6.07" fill="#af0000"/>
<rect x="2260" y="1280.56" width="26.3" height="6.07" fill="#ba0000"/>
<rect x="2260" y="1275.09" width="26.3" height="6.07" fill="#c50000"/>
<rect x="2260" y="1269.62" width="26.3" height="6.07" fill="#cf0000"/>
<rect x="2260" y="1264.16" width="26.3" height="6.07" fill="#da0000"/>
<rect x="2260" y="1258.69" width="26.3" height="6.07" fill="#e40000"/>
<rect x="2260" y="1253.22" width="26.3" height="6.07" fill="#ef0000"/>
<rect x="2260" y="1247.75" width="26.3" height="6.07" fill="#fa0000"/>
<rect x="2260" y="1242.28" width="26.3" height="6.07" fill="#ff0500"/>
<rect x="2260" y="1236.81" width="26.3" height="6.07" fill="#ff1000"/>
<rect x="2260" y="1231.34" width="26.3" height="6.07" fill="#ff1b00"/>
<rect x="2260" y="1225.88" width="26.3" height="6.07" fill="#ff2500"/>
<rect x="2260" y="1220.41" width="26.3" height="6.07" fill="#ff3000"/>
<rect x="2260" y="1214.94" width="26.3" height="6.07" fill="#ff3a00"/>
<rect x="2260" y="1209.47" width="26.3" height="6.07" fill="#ff4500"/>
<rect x="2260" y="1204.00" width="26.3" height="6.07" fill="#ff5000"/>
<rect x="2260" y="1198.53" width="26.3" height="6.07" fill="#ff5a00"/>
<rect x="2260" y="1193.06" width="26.3" height="6.07" fill="#ff6500"/>
<rect x="2260" y="1187.59" width="26.3" height="6.07" fill="#ff7000"/>
<rect x="2260" y="1182.12" width="26.3" height="6.07" fill="#ff7a00"/>
<rect x="2260" y="1176.66" width="26.3" height="6.07" fill="#ff8500"/>
<rect x="2260" y="1171.19" width="26.3" height="6.07" fill="#ff8f00"/>
<rect x="2260" y="1165.72" width="26.3" height="6.07" fill="#ff9a00"/>
<rect x="2260" y="1160.25" width="26.3" height="6.07" fill="#ffa500"/>
<rect x="2260" y="1154.78" width="26.3" height="6.07" fill="#ffaf00"/>
<rect x="2260" y="1149.31" width="26.3" height="6.07" fill="#ffba00"/>
<rect x="2260" y="1143.84" width="26.3" height="6.07" fill="#ffc500"/>
<rect x="2260" y="1138.38" width="26.3" height="6.07" fill="#ffcf00"/>
<rect x="2260" y="1132.91" width="26.3" height="6.07" fill="#ffda00"/>
<rect x="2260" y="1127.44" width="26.3" height="6.07" fill="#ffe400"/>
<rect x="2260" y="1121.97" width="26.3" height="6.07" fill="#ffef00"/>
<rect x="2260" y="1116.50" width="26.3" height="6.07" fill="#fffa00"/>
<rect x="2260" y="1111.03" width="26.3" height="6.07" fill="#ffff08"/>
<rect x="2260" y="1105.56" width="26.3" height="6.07" fill="#ffff18"/>
<rect x="2260" y="1100.09" width="26.3" height="6.07" fill="#ffff28"/>
<rect x="2260" y="1094.62" width="26.3" height="6.07" fill="#ffff38"/>
<rect x="2260" y="1089.16" width="26.3" height="6.07" fill="#ffff48"/>
<rect x="2260" y="1083.69" width="26.3" height="6.07" fill="#ffff58"/>
<rect x="2260" y="1078.22" width="26.3" height="6.07" fill="#ffff68"/>
<rect x="2260" y="1072.75" width="26.3" height="6.07" fill="#ffff78"/>
<rect x="2260" y="1067.28" width="26.3" height="6.07" fill="#ffff87"/>
<rect x="2260" y="1061.81" width="26.3" height="6.07" fill="#ffff97"/>
<rect x="2260" y="1056.34" width="26.3" height="6.07" fill="#ffffa7"/>
<rect x="2260" y="1050.88" width="26.3" height="6.07" fill="#ffffb7"/>
<rect x="2260" y="1045.41" width="26.3" height="6.07" fill="#ffffc7"/>
<rect x="2260" y="1039.94" width="26.3" height="6.07" fill="#ffffd7"/>
<rect x="2260" y="1034.47" width="26.3" height="6.07" fill="#ffffe7"/>
<rect x="2260" y="1029.00" width="26.3" height="6.07" fill="#fffff7"/>
<rect x="2260" y="1029" width="26.3" height="350" fill="none" stroke="#000" stroke-width="0.8"/>
<text x="2288.5" y="1386.0" font-family="'Liberation Sans',Arial,sans-serif" font-size="20" fill="#000">0</text>
<line x1="2260.0" y1="1309.0" x2="2263.0" y2="1309.0" stroke="#000" stroke-width="0.8"/>
<line x1="2286.3" y1="1309.0" x2="2283.3" y2="1309.0" stroke="#000" stroke-width="0.8"/>
<text x="2288.5" y="1316.0" font-family="'Liberation Sans',Arial,sans-serif" font-size="20" fill="#000">1</text>
<line x1="2260.0" y1="1239.0" x2="2263.0" y2="1239.0" stroke="#000" stroke-width="0.8"/>
<line x1="2286.3" y1="1239.0" x2="2283.3" y2="1239.0" stroke="#000" stroke-width="0.8"/>
<text x="2288.5" y="1246.0" font-family="'Liberation Sans',Arial,sans-serif" font-size="20" fill="#000">2</text>
<line x1="2260.0" y1="1169.0" x2="2263.0" y2="1169.0" stroke="#000" stroke-width="0.8"/>
<line x1="2286.3" y1="1169.0" x2="2283.3" y2="1169.0" stroke="#000" stroke-width="0.8"/>
<text x="2288.5" y="1176.0" font-family="'Liberation Sans',Arial,sans-serif" font-size="20" fill="#000">3</text>
<line x1="2260.0" y1="1099.0" x2="2263.0" y2="1099.0" stroke="#000" stroke-width="0.8"/>
<line x1="2286.3" y1="1099.0" x2="2283.3" y2="1099.0" stroke="#000" stroke-width="0.8"/>
<text x="2288.5" y="1106.0" font-family="'Liberation Sans',Arial,sans-serif" font-size="20" fill="#000">4</text>
<text x="2288.5" y="1036.0" font-family="'Liberation Sans',Arial,sans-serif" font-size="20" fill="#000">5</text>
<text x="1863.0" y="1385.4" font-family="'Liberation Sans',Arial,sans-serif" font-size="20" fill="#000" text-anchor="end">-3</text>
<text x="1864.6" y="1401.0" font-family="'Liberation Sans',Arial,sans-serif" font-size="20" fill="#000" text-anchor="middle">-3</text>
<text x="1863.0" y="1327.1" font-family="'Liberation Sans',Arial,sans-serif" font-size="20" fill="#000" text-anchor="end">-2</text>
<text x="1926.9" y="1401.0" font-family="'Liberation Sans',Arial,sans-serif" font-size="20" fill="#000" text-anchor="middle">-2</text>
<text x="1863.0" y="1268.8" font-family="'Liberation Sans',Arial,sans-serif" font-size="20" fill="#000" text-anchor="end">-1</text>
<text x="1989.2" y="1401.0" font-family="'Liberation Sans',Arial,sans-serif" font-size="20" fill="#000" text-anchor="middle">-1</text>
<text x="1863.0" y="1210.5" font-family="'Liberation Sans',Arial,sans-serif" font-size="20" fill="#000" text-anchor="end">0</text>
<text x="2051.5" y="1401.0" font-family="'Liberation Sans',Arial,sans-serif" font-size="20" fill="#000" text-anchor="middle">0</text>
<text x="1863.0" y="1152.2" font-family="'Liberation Sans',Arial,sans-serif" font-size="20" fill="#000" text-anchor="end">1</text>
<text x="2113.8" y="1401.0" font-family="'Liberation Sans',Arial,sans-serif" font-size="20" fill="#000" text-anchor="middle">1</text>
<text x="1863.0" y="1093.9" font-family="'Liberation Sans',Arial,sans-serif" font-size="20" fill="#000" text-anchor="end">2</text>
<text x="2176.1" y="1401.0" font-family="'Liberation Sans',Arial,sans-serif" font-size="20" fill="#000" text-anchor="middle">2</text>
<text x="1863.0" y="1035.6" font-family="'Liberation Sans',Arial,sans-serif" font-size="20" fill="#000" text-anchor="end">3</text>
<text x="2238.4" y="1401.0" font-family="'Liberation Sans',Arial,sans-serif" font-size="20" fill="#000" text-anchor="middle">3</text>
<text x="2285.0" y="1023.5" font-family="'Liberation Sans',Arial,sans-serif" font-size="19" fill="#000">x 10</text>
<text x="2323.0" y="1005.0" font-family="'Liberation Sans',Arial,sans-serif" font-size="11" fill="#000">18</text>
<text x="2001.3" y="1366.3" font-family="'Noto Sans CJK SC','Liberation Sans',sans-serif" font-size="24" fill="#fff" textLength="228.1" lengthAdjust="spacingAndGlyphs">Energy Absorption</text>
</svg></body></html>
